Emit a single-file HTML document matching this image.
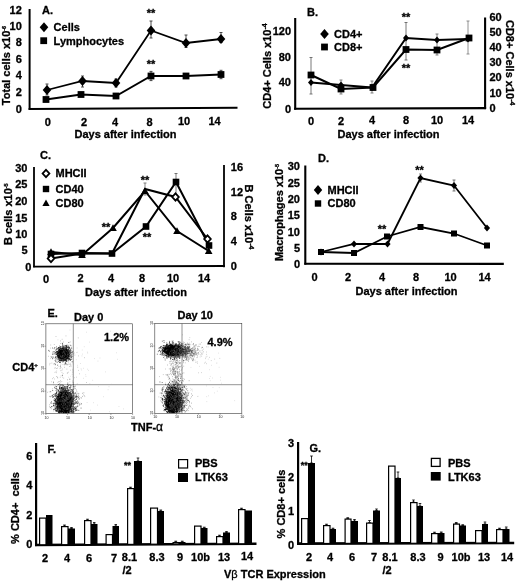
<!DOCTYPE html>
<html><head><meta charset="utf-8"><title>Figure</title>
<style>
html,body{margin:0;padding:0;background:#fff;}
svg{display:block;filter:blur(0.3px);}
text{stroke:#000;stroke-width:0.3px;}
svg{font-family:"Liberation Sans", sans-serif;font-weight:bold;fill:#000;}
</style></head><body>
<svg width="520" height="584" viewBox="0 0 520 584">
<defs><radialGradient id="rg"><stop offset="0" stop-color="#000" stop-opacity="1"/><stop offset="0.5" stop-color="#000" stop-opacity="0.92"/><stop offset="0.8" stop-color="#000" stop-opacity="0.35"/><stop offset="1" stop-color="#000" stop-opacity="0"/></radialGradient></defs>
<rect width="520" height="584" fill="#fff"/>
<line x1="29.6" y1="9.0" x2="29.6" y2="109.9" stroke="#000" stroke-width="2.0"/>
<line x1="28.6" y1="109.0" x2="237.5" y2="107.8" stroke="#000" stroke-width="2.0"/>
<text x="21.8" y="13.6" text-anchor="end" font-size="11">12</text>
<text x="21.8" y="29.6" text-anchor="end" font-size="11">10</text>
<text x="21.8" y="46.1" text-anchor="end" font-size="11">8</text>
<text x="21.8" y="62.6" text-anchor="end" font-size="11">6</text>
<text x="21.8" y="79.1" text-anchor="end" font-size="11">4</text>
<text x="21.8" y="95.6" text-anchor="end" font-size="11">2</text>
<text x="21.8" y="112.6" text-anchor="end" font-size="11">0</text>
<text x="42.0" y="13.9" text-anchor="start" font-size="11">A.</text>
<polygon points="44.0,22.3 48.3,27.3 44.0,32.3 39.7,27.3" fill="#000"/>
<text x="53.6" y="30.9" text-anchor="start" font-size="11">Cells</text>
<rect x="40.3" y="37.3" width="6.8" height="6.8" fill="#000"/>
<text x="53.6" y="44.9" text-anchor="start" font-size="11">Lymphocytes</text>
<text x="6.0" y="69.4" text-anchor="middle" font-size="11" transform="rotate(-90 6.0 65.5)">Total cells x10<tspan dy="-4" font-size="5.5">-6</tspan></text>
<text x="47.7" y="126.4" text-anchor="middle" font-size="11">0</text>
<text x="84.0" y="126.1" text-anchor="middle" font-size="11">2</text>
<text x="115.0" y="125.8" text-anchor="middle" font-size="11">4</text>
<text x="149.5" y="125.5" text-anchor="middle" font-size="11">8</text>
<text x="184.0" y="125.2" text-anchor="middle" font-size="11">10</text>
<text x="214.5" y="124.9" text-anchor="middle" font-size="11">14</text>
<text x="125.5" y="138.4" text-anchor="middle" font-size="11">Days after infection</text>
<line x1="47.0" y1="84.0" x2="47.0" y2="95.0" stroke="#222" stroke-width="0.8"/>
<line x1="45.5" y1="84.0" x2="48.5" y2="84.0" stroke="#222" stroke-width="0.8"/>
<line x1="45.5" y1="95.0" x2="48.5" y2="95.0" stroke="#222" stroke-width="0.8"/>
<line x1="82.5" y1="76.0" x2="82.5" y2="87.0" stroke="#222" stroke-width="0.8"/>
<line x1="81.0" y1="76.0" x2="84.0" y2="76.0" stroke="#222" stroke-width="0.8"/>
<line x1="81.0" y1="87.0" x2="84.0" y2="87.0" stroke="#222" stroke-width="0.8"/>
<line x1="116.0" y1="79.0" x2="116.0" y2="87.0" stroke="#222" stroke-width="0.8"/>
<line x1="114.5" y1="79.0" x2="117.5" y2="79.0" stroke="#222" stroke-width="0.8"/>
<line x1="114.5" y1="87.0" x2="117.5" y2="87.0" stroke="#222" stroke-width="0.8"/>
<line x1="151.0" y1="21.0" x2="151.0" y2="38.0" stroke="#222" stroke-width="0.8"/>
<line x1="149.5" y1="21.0" x2="152.5" y2="21.0" stroke="#222" stroke-width="0.8"/>
<line x1="149.5" y1="38.0" x2="152.5" y2="38.0" stroke="#222" stroke-width="0.8"/>
<line x1="186.0" y1="35.0" x2="186.0" y2="47.5" stroke="#222" stroke-width="0.8"/>
<line x1="184.5" y1="35.0" x2="187.5" y2="35.0" stroke="#222" stroke-width="0.8"/>
<line x1="184.5" y1="47.5" x2="187.5" y2="47.5" stroke="#222" stroke-width="0.8"/>
<line x1="221.0" y1="32.5" x2="221.0" y2="42.5" stroke="#222" stroke-width="0.8"/>
<line x1="219.5" y1="32.5" x2="222.5" y2="32.5" stroke="#222" stroke-width="0.8"/>
<line x1="219.5" y1="42.5" x2="222.5" y2="42.5" stroke="#222" stroke-width="0.8"/>
<line x1="151.0" y1="71.4" x2="151.0" y2="80.6" stroke="#222" stroke-width="0.8"/>
<line x1="149.5" y1="71.4" x2="152.5" y2="71.4" stroke="#222" stroke-width="0.8"/>
<line x1="149.5" y1="80.6" x2="152.5" y2="80.6" stroke="#222" stroke-width="0.8"/>
<line x1="221.0" y1="70.3" x2="221.0" y2="78.7" stroke="#222" stroke-width="0.8"/>
<line x1="219.5" y1="70.3" x2="222.5" y2="70.3" stroke="#222" stroke-width="0.8"/>
<line x1="219.5" y1="78.7" x2="222.5" y2="78.7" stroke="#222" stroke-width="0.8"/>
<polyline fill="none" stroke="#000" stroke-width="1.8" points="47.0,90.0 82.5,81.0 116.0,83.0 151.0,30.5 186.0,43.0 221.0,39.0"/>
<polyline fill="none" stroke="#000" stroke-width="1.8" points="46.0,99.5 81.0,94.5 116.0,96.0 151.0,76.0 186.0,76.0 221.0,74.5"/>
<polygon points="47.0,85.0 51.3,90.0 47.0,95.0 42.7,90.0" fill="#000"/>
<polygon points="82.5,76.0 86.8,81.0 82.5,86.0 78.2,81.0" fill="#000"/>
<polygon points="116.0,78.0 120.3,83.0 116.0,88.0 111.7,83.0" fill="#000"/>
<polygon points="151.0,25.5 155.3,30.5 151.0,35.5 146.7,30.5" fill="#000"/>
<polygon points="186.0,38.0 190.3,43.0 186.0,48.0 181.7,43.0" fill="#000"/>
<polygon points="221.0,34.0 225.3,39.0 221.0,44.0 216.7,39.0" fill="#000"/>
<rect x="42.6" y="96.1" width="6.8" height="6.8" fill="#000"/>
<rect x="77.6" y="91.1" width="6.8" height="6.8" fill="#000"/>
<rect x="112.6" y="92.6" width="6.8" height="6.8" fill="#000"/>
<rect x="147.6" y="72.6" width="6.8" height="6.8" fill="#000"/>
<rect x="182.6" y="72.6" width="6.8" height="6.8" fill="#000"/>
<rect x="217.6" y="71.1" width="6.8" height="6.8" fill="#000"/>
<text x="151.0" y="16.5" text-anchor="middle" font-size="11">**</text>
<text x="151.0" y="68.0" text-anchor="middle" font-size="11">**</text>
<line x1="295.2" y1="18.0" x2="295.2" y2="109.7" stroke="#000" stroke-width="2.1"/>
<line x1="294.1" y1="108.7" x2="486.1" y2="108.1" stroke="#000" stroke-width="2.1"/>
<line x1="485.1" y1="17.5" x2="485.1" y2="109.1" stroke="#000" stroke-width="2.1"/>
<text x="291.0" y="34.9" text-anchor="end" font-size="11">120</text>
<text x="291.0" y="61.4" text-anchor="end" font-size="11">80</text>
<text x="291.0" y="86.4" text-anchor="end" font-size="11">40</text>
<text x="291.0" y="112.9" text-anchor="end" font-size="11">0</text>
<text x="489.5" y="20.9" text-anchor="start" font-size="11">60</text>
<text x="489.5" y="35.9" text-anchor="start" font-size="11">50</text>
<text x="489.5" y="50.9" text-anchor="start" font-size="11">40</text>
<text x="489.5" y="66.4" text-anchor="start" font-size="11">30</text>
<text x="489.5" y="81.4" text-anchor="start" font-size="11">20</text>
<text x="489.5" y="96.9" text-anchor="start" font-size="11">10</text>
<text x="489.5" y="111.9" text-anchor="start" font-size="11">0</text>
<text x="307.0" y="16.4" text-anchor="start" font-size="11">B.</text>
<polygon points="324.5,29.0 328.8,34.0 324.5,39.0 320.2,34.0" fill="#000"/>
<text x="334.0" y="37.9" text-anchor="start" font-size="11">CD4+</text>
<rect x="321.1" y="43.6" width="6.8" height="6.8" fill="#000"/>
<text x="334.0" y="50.9" text-anchor="start" font-size="11">CD8+</text>
<text x="267.0" y="69.9" text-anchor="middle" font-size="11" transform="rotate(-90 267.0 66.0)">CD4+ Cells x10<tspan dy="-4" font-size="7">-4</tspan></text>
<text x="510.3" y="66.6" text-anchor="middle" font-size="11" transform="rotate(90 510.3 62.7)">CD8+ Cells x10<tspan dy="-4" font-size="7">-4</tspan></text>
<text x="311.0" y="124.6" text-anchor="middle" font-size="11">0</text>
<text x="341.0" y="124.5" text-anchor="middle" font-size="11">2</text>
<text x="372.0" y="124.3" text-anchor="middle" font-size="11">4</text>
<text x="406.0" y="124.2" text-anchor="middle" font-size="11">8</text>
<text x="437.0" y="124.0" text-anchor="middle" font-size="11">10</text>
<text x="468.0" y="123.9" text-anchor="middle" font-size="11">14</text>
<text x="388.5" y="137.5" text-anchor="middle" font-size="11">Days after infection</text>
<line x1="311.0" y1="57.5" x2="311.0" y2="94.0" stroke="#555" stroke-width="0.8"/>
<line x1="309.5" y1="57.5" x2="312.5" y2="57.5" stroke="#555" stroke-width="0.8"/>
<line x1="309.5" y1="94.0" x2="312.5" y2="94.0" stroke="#555" stroke-width="0.8"/>
<line x1="341.0" y1="80.0" x2="341.0" y2="94.0" stroke="#666" stroke-width="0.8"/>
<line x1="339.5" y1="80.0" x2="342.5" y2="80.0" stroke="#666" stroke-width="0.8"/>
<line x1="339.5" y1="94.0" x2="342.5" y2="94.0" stroke="#666" stroke-width="0.8"/>
<line x1="372.0" y1="81.0" x2="372.0" y2="93.0" stroke="#666" stroke-width="0.8"/>
<line x1="370.5" y1="81.0" x2="373.5" y2="81.0" stroke="#666" stroke-width="0.8"/>
<line x1="370.5" y1="93.0" x2="373.5" y2="93.0" stroke="#666" stroke-width="0.8"/>
<line x1="406.0" y1="22.5" x2="406.0" y2="60.0" stroke="#555" stroke-width="0.8"/>
<line x1="404.5" y1="22.5" x2="407.5" y2="22.5" stroke="#555" stroke-width="0.8"/>
<line x1="404.5" y1="60.0" x2="407.5" y2="60.0" stroke="#555" stroke-width="0.8"/>
<line x1="437.0" y1="34.0" x2="437.0" y2="55.0" stroke="#666" stroke-width="0.8"/>
<line x1="435.5" y1="34.0" x2="438.5" y2="34.0" stroke="#666" stroke-width="0.8"/>
<line x1="435.5" y1="55.0" x2="438.5" y2="55.0" stroke="#666" stroke-width="0.8"/>
<line x1="468.0" y1="21.0" x2="468.0" y2="54.0" stroke="#777" stroke-width="0.8"/>
<line x1="466.5" y1="21.0" x2="469.5" y2="21.0" stroke="#777" stroke-width="0.8"/>
<line x1="466.5" y1="54.0" x2="469.5" y2="54.0" stroke="#777" stroke-width="0.8"/>
<polyline fill="none" stroke="#000" stroke-width="2.0" points="311.0,82.5 341.0,85.0 372.0,87.5 406.0,38.0 437.0,40.0 468.0,39.0"/>
<polyline fill="none" stroke="#000" stroke-width="2.0" points="311.0,75.0 341.0,89.0 373.0,87.5 406.0,49.5 437.0,50.0 469.0,38.0"/>
<polygon points="311.0,78.9 314.0,82.5 311.0,86.1 308.0,82.5" fill="#000"/>
<polygon points="341.0,81.4 344.0,85.0 341.0,88.6 338.0,85.0" fill="#000"/>
<polygon points="372.0,83.9 375.0,87.5 372.0,91.1 369.0,87.5" fill="#000"/>
<polygon points="406.0,34.4 409.0,38.0 406.0,41.6 403.0,38.0" fill="#000"/>
<polygon points="437.0,36.4 440.0,40.0 437.0,43.6 434.0,40.0" fill="#000"/>
<polygon points="468.0,35.4 471.0,39.0 468.0,42.6 465.0,39.0" fill="#000"/>
<rect x="307.6" y="71.6" width="6.8" height="6.8" fill="#000"/>
<rect x="337.6" y="85.6" width="6.8" height="6.8" fill="#000"/>
<rect x="369.6" y="84.1" width="6.8" height="6.8" fill="#000"/>
<rect x="402.6" y="46.1" width="6.8" height="6.8" fill="#000"/>
<rect x="433.6" y="46.6" width="6.8" height="6.8" fill="#000"/>
<rect x="465.6" y="34.6" width="6.8" height="6.8" fill="#000"/>
<text x="406.0" y="21.0" text-anchor="middle" font-size="11">**</text>
<text x="406.0" y="71.5" text-anchor="middle" font-size="11">**</text>
<line x1="34.0" y1="167.0" x2="34.0" y2="267.2" stroke="#000" stroke-width="1.8"/>
<line x1="33.1" y1="266.6" x2="224.9" y2="266.0" stroke="#000" stroke-width="1.8"/>
<line x1="224.0" y1="165.0" x2="224.0" y2="267.2" stroke="#000" stroke-width="1.8"/>
<text x="27.5" y="171.5" text-anchor="end" font-size="11">30</text>
<text x="27.5" y="187.9" text-anchor="end" font-size="11">25</text>
<text x="27.5" y="204.9" text-anchor="end" font-size="11">20</text>
<text x="27.5" y="221.9" text-anchor="end" font-size="11">15</text>
<text x="27.5" y="237.9" text-anchor="end" font-size="11">10</text>
<text x="27.5" y="254.4" text-anchor="end" font-size="11">5</text>
<text x="31.3" y="271.2" text-anchor="end" font-size="11">0</text>
<text x="230.8" y="170.7" text-anchor="start" font-size="11">16</text>
<text x="230.8" y="195.5" text-anchor="start" font-size="11">12</text>
<text x="230.8" y="220.4" text-anchor="start" font-size="11">8</text>
<text x="230.8" y="245.2" text-anchor="start" font-size="11">4</text>
<text x="230.8" y="270.0" text-anchor="start" font-size="11">0</text>
<text x="40.0" y="159.4" text-anchor="start" font-size="11">C.</text>
<polygon points="46.0,169.8 49.4,173.5 46.0,177.2 42.6,173.5" fill="#fff" stroke="#000" stroke-width="1.8"/>
<text x="55.5" y="177.4" text-anchor="start" font-size="11">MHCII</text>
<rect x="42.8" y="185.8" width="6.4" height="6.4" fill="#000"/>
<text x="55.5" y="192.9" text-anchor="start" font-size="11">CD40</text>
<polygon points="46.0,199.4 49.6,205.9 42.4,205.9" fill="#000"/>
<text x="55.5" y="206.9" text-anchor="start" font-size="11">CD80</text>
<text x="8.4" y="218.1" text-anchor="middle" font-size="11" transform="rotate(-90 8.4 214.2)">B cells x10<tspan dy="-4" font-size="5.5">-5</tspan></text>
<text x="249.2" y="220.9" text-anchor="middle" font-size="11" transform="rotate(90 249.2 217.0)">B Cells x10<tspan dy="-4" font-size="7">-4</tspan></text>
<text x="46.0" y="282.5" text-anchor="middle" font-size="11">0</text>
<text x="80.5" y="282.3" text-anchor="middle" font-size="11">2</text>
<text x="111.0" y="282.1" text-anchor="middle" font-size="11">4</text>
<text x="142.0" y="282.0" text-anchor="middle" font-size="11">8</text>
<text x="173.0" y="281.8" text-anchor="middle" font-size="11">10</text>
<text x="204.0" y="281.6" text-anchor="middle" font-size="11">14</text>
<text x="136.0" y="295.9" text-anchor="middle" font-size="11">Days after infection</text>
<line x1="176.0" y1="173.5" x2="176.0" y2="195.0" stroke="#555" stroke-width="0.8"/>
<line x1="174.5" y1="173.5" x2="177.5" y2="173.5" stroke="#555" stroke-width="0.8"/>
<line x1="174.5" y1="195.0" x2="177.5" y2="195.0" stroke="#555" stroke-width="0.8"/>
<line x1="145.0" y1="183.0" x2="145.0" y2="195.0" stroke="#666" stroke-width="0.8"/>
<line x1="143.5" y1="183.0" x2="146.5" y2="183.0" stroke="#666" stroke-width="0.8"/>
<line x1="143.5" y1="195.0" x2="146.5" y2="195.0" stroke="#666" stroke-width="0.8"/>
<polyline fill="none" stroke="#000" stroke-width="2.0" points="51.0,258.5 82.0,253.5 112.0,253.5 145.0,189.0 175.5,197.0 207.5,239.0"/>
<polyline fill="none" stroke="#000" stroke-width="2.0" points="51.0,254.0 82.0,253.0 112.0,253.5 146.0,226.5 176.0,182.0 209.0,245.5"/>
<polyline fill="none" stroke="#000" stroke-width="2.0" points="51.0,252.0 82.0,255.0 113.0,228.0 145.0,191.0 177.0,231.0 208.7,251.0"/>
<polygon points="51.0,248.2 54.8,255.0 47.2,255.0" fill="#000"/>
<polygon points="82.0,251.2 85.8,258.0 78.2,258.0" fill="#000"/>
<polygon points="113.0,224.2 116.8,231.0 109.2,231.0" fill="#000"/>
<polygon points="145.0,187.2 148.8,194.0 141.2,194.0" fill="#000"/>
<polygon points="177.0,227.2 180.8,234.0 173.2,234.0" fill="#000"/>
<polygon points="208.7,247.2 212.5,254.0 204.9,254.0" fill="#000"/>
<rect x="47.7" y="250.7" width="6.6" height="6.6" fill="#000"/>
<rect x="78.7" y="249.7" width="6.6" height="6.6" fill="#000"/>
<rect x="108.7" y="250.2" width="6.6" height="6.6" fill="#000"/>
<rect x="142.7" y="223.2" width="6.6" height="6.6" fill="#000"/>
<rect x="172.7" y="178.7" width="6.6" height="6.6" fill="#000"/>
<rect x="205.7" y="242.2" width="6.6" height="6.6" fill="#000"/>
<polygon points="51.0,254.8 54.3,258.5 51.0,262.2 47.7,258.5" fill="#fff" stroke="#000" stroke-width="1.8"/>
<polygon points="175.5,193.3 178.8,197.0 175.5,200.7 172.2,197.0" fill="#fff" stroke="#000" stroke-width="1.8"/>
<polygon points="207.5,235.3 210.8,239.0 207.5,242.7 204.2,239.0" fill="#fff" stroke="#000" stroke-width="1.8"/>
<text x="106.0" y="231.0" text-anchor="middle" font-size="11">**</text>
<text x="145.0" y="184.0" text-anchor="middle" font-size="11">**</text>
<text x="147.0" y="240.5" text-anchor="middle" font-size="11">**</text>
<line x1="305.3" y1="165.5" x2="305.3" y2="264.7" stroke="#000" stroke-width="2.1"/>
<line x1="304.3" y1="263.7" x2="503.8" y2="263.9" stroke="#000" stroke-width="2.1"/>
<text x="300.0" y="169.9" text-anchor="end" font-size="11">30</text>
<text x="300.0" y="186.9" text-anchor="end" font-size="11">25</text>
<text x="300.0" y="202.9" text-anchor="end" font-size="11">20</text>
<text x="300.0" y="219.4" text-anchor="end" font-size="11">15</text>
<text x="300.0" y="235.9" text-anchor="end" font-size="11">10</text>
<text x="300.0" y="252.4" text-anchor="end" font-size="11">5</text>
<text x="300.0" y="267.9" text-anchor="end" font-size="11">0</text>
<text x="318.0" y="161.9" text-anchor="start" font-size="11">D.</text>
<polygon points="318.0,185.0 322.2,190.0 318.0,195.0 313.8,190.0" fill="#000"/>
<text x="327.5" y="193.9" text-anchor="start" font-size="11">MHCII</text>
<rect x="314.8" y="200.3" width="6.4" height="6.4" fill="#000"/>
<text x="327.5" y="207.4" text-anchor="start" font-size="11">CD80</text>
<text x="279.3" y="216.4" text-anchor="middle" font-size="11" transform="rotate(-90 279.3 212.5)">Macrophages x10<tspan dy="-4" font-size="5.5">-5</tspan></text>
<text x="314.5" y="280.9" text-anchor="middle" font-size="11">0</text>
<text x="348.0" y="280.9" text-anchor="middle" font-size="11">2</text>
<text x="382.0" y="280.9" text-anchor="middle" font-size="11">4</text>
<text x="416.0" y="280.9" text-anchor="middle" font-size="11">8</text>
<text x="450.5" y="280.9" text-anchor="middle" font-size="11">10</text>
<text x="484.5" y="280.9" text-anchor="middle" font-size="11">14</text>
<text x="406.5" y="295.2" text-anchor="middle" font-size="11">Days after infection</text>
<line x1="454.0" y1="180.0" x2="454.0" y2="191.0" stroke="#555" stroke-width="0.8"/>
<line x1="452.5" y1="180.0" x2="455.5" y2="180.0" stroke="#555" stroke-width="0.8"/>
<line x1="452.5" y1="191.0" x2="455.5" y2="191.0" stroke="#555" stroke-width="0.8"/>
<line x1="420.5" y1="174.0" x2="420.5" y2="182.0" stroke="#666" stroke-width="0.8"/>
<line x1="419.0" y1="174.0" x2="422.0" y2="174.0" stroke="#666" stroke-width="0.8"/>
<line x1="419.0" y1="182.0" x2="422.0" y2="182.0" stroke="#666" stroke-width="0.8"/>
<polyline fill="none" stroke="#000" stroke-width="1.8" points="321.0,252.0 354.0,244.0 387.5,244.0 420.5,178.0 454.0,185.5 487.0,228.0"/>
<polyline fill="none" stroke="#000" stroke-width="1.8" points="321.0,252.0 354.0,253.0 387.0,236.5 420.5,227.0 454.0,233.5 487.0,245.5"/>
<polygon points="321.0,248.4 324.1,252.0 321.0,255.6 317.9,252.0" fill="#000"/>
<polygon points="354.0,240.4 357.1,244.0 354.0,247.6 350.9,244.0" fill="#000"/>
<polygon points="387.5,240.4 390.6,244.0 387.5,247.6 384.4,244.0" fill="#000"/>
<polygon points="420.5,174.4 423.6,178.0 420.5,181.6 417.4,178.0" fill="#000"/>
<polygon points="454.0,181.9 457.1,185.5 454.0,189.1 450.9,185.5" fill="#000"/>
<polygon points="487.0,224.4 490.1,228.0 487.0,231.6 483.9,228.0" fill="#000"/>
<rect x="318.0" y="249.0" width="6.0" height="6.0" fill="#000"/>
<rect x="351.0" y="250.0" width="6.0" height="6.0" fill="#000"/>
<rect x="384.0" y="233.5" width="6.0" height="6.0" fill="#000"/>
<rect x="417.5" y="224.0" width="6.0" height="6.0" fill="#000"/>
<rect x="451.0" y="230.5" width="6.0" height="6.0" fill="#000"/>
<rect x="484.0" y="242.5" width="6.0" height="6.0" fill="#000"/>
<text x="382.0" y="232.5" text-anchor="middle" font-size="11">**</text>
<text x="419.5" y="173.5" text-anchor="middle" font-size="11">**</text>
<text x="47.5" y="316.9" text-anchor="start" font-size="11">E.</text>
<rect x="45.9" y="323.8" width="86.69999999999999" height="89.69999999999999" fill="none" stroke="#3a3a3a" stroke-width="0.6"/>
<line x1="73.3" y1="323.8" x2="73.3" y2="413.5" stroke="#3a3a3a" stroke-width="0.55"/>
<line x1="45.9" y1="384.7" x2="132.6" y2="384.7" stroke="#3a3a3a" stroke-width="0.55"/>
<clipPath id="cl45"><rect x="45.9" y="323.8" width="86.69999999999999" height="89.69999999999999"/></clipPath>
<ellipse cx="64" cy="403" rx="8.5" ry="12" fill="url(#rg)" clip-path="url(#cl45)"/>
<ellipse cx="63" cy="354" rx="6.5" ry="6.5" fill="url(#rg)" clip-path="url(#cl45)"/>
<path d="M62.3 355.3h0.8M62.4 353.2h0.8M60.6 353.4h0.8M65.9 355.1h0.8M65.7 354.6h0.8M64.0 354.5h0.8M58.7 356.2h0.8M64.3 355.3h0.8M58.6 349.5h0.8M60.7 352.8h0.8M63.8 353.9h0.8M64.4 352.3h0.8M63.8 355.0h0.8M61.3 358.5h0.8M64.4 357.1h0.8M61.4 352.1h0.8M62.1 353.7h0.8M64.6 354.6h0.8M61.8 351.5h0.8M61.6 357.2h0.8M60.9 354.6h0.8M64.1 350.1h0.8M63.1 357.4h0.8M57.8 353.2h0.8M62.7 351.9h0.8M64.3 353.8h0.8M59.2 356.2h0.8M64.7 356.5h0.8M66.7 354.9h0.8M63.3 350.6h0.8M64.6 352.4h0.8M61.8 350.7h0.8M60.5 352.6h0.8M66.4 348.7h0.8M59.2 354.6h0.8M66.8 355.5h0.8M58.1 347.5h0.8M63.9 352.1h0.8M60.1 356.5h0.8M65.9 354.4h0.8M63.6 355.1h0.8M67.1 355.6h0.8M64.3 355.4h0.8M58.9 357.3h0.8M65.5 355.4h0.8M57.9 352.4h0.8M65.2 349.3h0.8M62.5 356.7h0.8M59.6 358.2h0.8M64.4 353.6h0.8M63.8 355.7h0.8M63.3 357.0h0.8M61.3 352.9h0.8M65.7 354.1h0.8M60.7 356.5h0.8M66.8 352.8h0.8M59.4 353.6h0.8M62.6 353.2h0.8M66.7 351.3h0.8M66.3 350.7h0.8M61.0 355.6h0.8M65.9 356.2h0.8M63.9 354.4h0.8M63.4 355.5h0.8M62.5 354.7h0.8M64.5 354.0h0.8M65.0 355.5h0.8M68.2 354.8h0.8M61.9 353.0h0.8M63.0 356.4h0.8M62.1 355.0h0.8M67.8 347.3h0.8M60.1 354.6h0.8M64.0 354.6h0.8M61.9 355.7h0.8M63.7 352.6h0.8M69.3 354.9h0.8M61.6 353.7h0.8M62.4 353.8h0.8M55.9 352.7h0.8M65.6 351.0h0.8M62.8 356.5h0.8M65.2 357.9h0.8M58.6 353.1h0.8M62.1 355.6h0.8M65.8 347.0h0.8M65.8 350.2h0.8M64.8 350.1h0.8M63.5 357.1h0.8M62.6 354.5h0.8M65.1 354.4h0.8M62.8 358.0h0.8M65.7 353.2h0.8M70.1 351.0h0.8M65.4 353.3h0.8M63.3 355.8h0.8M63.6 355.7h0.8M59.0 350.1h0.8M64.6 351.5h0.8M60.3 350.2h0.8M66.3 355.9h0.8M66.8 351.6h0.8M63.0 351.0h0.8M65.0 358.1h0.8M60.7 358.1h0.8M65.6 353.5h0.8M57.9 357.7h0.8M62.7 352.4h0.8M64.0 355.1h0.8M66.9 351.3h0.8M66.0 357.9h0.8M66.8 353.5h0.8M61.1 356.6h0.8M63.3 354.3h0.8M66.7 353.3h0.8M57.0 353.0h0.8M58.2 356.1h0.8M63.8 352.4h0.8M63.0 356.2h0.8M63.2 357.4h0.8M62.8 356.7h0.8M66.9 358.2h0.8M61.3 356.3h0.8M58.1 351.2h0.8M57.9 356.8h0.8M59.8 354.0h0.8M62.5 353.9h0.8M61.5 354.6h0.8M67.7 354.1h0.8M64.4 356.6h0.8M62.5 350.7h0.8M61.6 356.8h0.8M58.7 352.4h0.8M65.6 356.1h0.8M63.0 356.1h0.8M63.4 350.9h0.8M58.9 352.3h0.8M65.4 352.5h0.8M60.7 352.0h0.8M59.0 353.7h0.8M59.9 354.9h0.8M56.9 354.9h0.8M61.3 349.0h0.8M64.9 353.3h0.8M57.2 351.7h0.8M63.8 352.8h0.8M65.0 355.9h0.8M64.7 354.8h0.8M66.5 355.7h0.8M64.2 348.6h0.8M65.3 357.4h0.8M62.2 352.8h0.8M68.0 349.4h0.8M64.2 360.3h0.8M60.6 355.8h0.8M67.9 353.7h0.8M64.5 356.3h0.8M60.6 353.8h0.8M63.8 356.1h0.8M62.9 353.5h0.8M60.4 353.1h0.8M65.3 354.3h0.8M60.8 351.8h0.8M69.9 357.0h0.8M64.7 347.3h0.8M64.6 355.2h0.8M67.4 355.1h0.8M62.8 355.4h0.8M57.9 356.7h0.8M63.8 352.2h0.8M66.4 358.7h0.8M59.4 352.3h0.8M63.8 354.5h0.8M62.0 351.5h0.8M68.5 356.7h0.8M59.9 350.5h0.8M67.4 356.6h0.8M67.7 356.1h0.8M60.7 354.7h0.8M57.4 352.1h0.8M62.8 355.4h0.8M61.1 353.7h0.8M64.2 355.0h0.8M64.7 354.5h0.8M62.2 356.1h0.8M63.1 351.9h0.8M61.4 354.0h0.8M62.7 354.4h0.8M63.0 354.5h0.8M62.7 350.7h0.8M64.1 356.7h0.8M64.1 353.5h0.8M64.2 351.5h0.8M58.1 354.2h0.8M60.6 355.9h0.8M60.2 347.2h0.8M60.3 358.1h0.8M62.0 350.4h0.8M61.0 355.4h0.8M64.3 354.5h0.8M66.9 355.8h0.8M62.9 355.6h0.8M67.3 356.5h0.8M65.7 351.2h0.8M62.6 355.9h0.8M62.2 356.8h0.8M64.6 356.4h0.8M62.4 360.6h0.8M66.2 353.4h0.8M63.2 360.7h0.8M62.1 356.3h0.8M65.5 354.0h0.8M60.0 354.5h0.8M63.9 356.9h0.8M65.0 354.1h0.8M65.2 355.4h0.8M63.5 354.1h0.8M62.4 355.8h0.8M60.3 352.4h0.8M63.0 350.2h0.8M61.9 348.8h0.8M61.2 355.5h0.8M64.5 353.9h0.8M62.4 350.3h0.8M67.8 355.3h0.8M65.8 351.7h0.8M62.5 349.3h0.8M65.0 356.4h0.8M58.1 353.9h0.8M64.6 349.4h0.8M58.3 351.2h0.8M61.4 350.4h0.8M63.1 354.6h0.8M64.6 355.8h0.8M66.9 357.0h0.8M59.6 352.7h0.8M60.2 351.2h0.8M62.8 354.0h0.8M64.3 349.9h0.8M59.8 353.9h0.8M62.5 353.2h0.8M62.8 352.0h0.8M64.8 354.9h0.8M62.8 352.3h0.8M62.5 346.9h0.8M60.4 354.1h0.8M59.1 354.5h0.8M63.4 350.4h0.8M62.3 353.2h0.8M64.2 355.6h0.8M62.9 351.8h0.8M62.6 353.8h0.8M64.9 354.8h0.8M61.1 350.5h0.8M62.0 352.1h0.8M60.1 353.7h0.8M61.7 354.3h0.8M64.4 352.9h0.8M69.0 353.2h0.8M65.9 354.3h0.8M65.9 347.8h0.8M61.0 354.6h0.8M64.6 360.1h0.8M63.8 357.3h0.8M65.0 356.5h0.8M64.3 353.6h0.8M64.3 351.2h0.8M66.1 351.4h0.8M63.6 359.5h0.8M62.4 354.1h0.8M66.0 354.1h0.8M60.9 354.7h0.8M64.5 355.8h0.8M61.0 358.6h0.8M67.3 354.0h0.8M63.7 352.9h0.8M66.7 352.2h0.8M64.8 352.8h0.8M61.2 355.9h0.8M66.5 354.0h0.8M61.2 356.1h0.8M62.9 354.8h0.8M67.0 356.9h0.8M61.6 359.9h0.8M63.0 356.0h0.8M61.3 353.9h0.8M58.5 358.6h0.8M66.6 350.8h0.8M59.1 349.8h0.8M66.1 352.8h0.8M62.8 353.2h0.8M62.7 351.2h0.8M63.1 350.3h0.8M62.8 354.8h0.8M64.2 353.4h0.8M60.7 354.4h0.8M61.7 358.1h0.8M65.0 353.7h0.8M61.8 352.2h0.8M60.6 353.1h0.8M63.8 355.3h0.8M64.5 359.5h0.8M61.2 354.0h0.8M70.3 349.1h0.8M61.6 354.4h0.8M63.4 355.1h0.8M62.4 355.0h0.8M63.1 356.0h0.8M58.1 351.7h0.8M63.0 351.3h0.8M60.3 355.6h0.8M61.3 355.7h0.8M64.9 354.8h0.8M64.3 353.7h0.8M59.3 353.9h0.8M64.2 352.6h0.8M62.7 355.9h0.8M60.7 355.7h0.8M67.8 352.6h0.8M63.4 353.6h0.8M67.0 354.8h0.8M65.3 352.2h0.8M63.0 354.0h0.8M58.4 357.7h0.8M65.3 349.5h0.8M64.9 353.7h0.8M64.2 355.0h0.8M59.1 353.4h0.8M66.9 352.5h0.8M60.3 350.5h0.8M59.8 354.9h0.8M67.4 355.1h0.8M63.6 359.8h0.8M61.6 352.2h0.8M64.4 355.4h0.8M60.4 351.0h0.8M63.8 354.6h0.8M59.6 353.5h0.8M61.6 355.2h0.8M62.7 353.8h0.8M62.1 356.7h0.8M66.6 353.0h0.8M65.2 352.0h0.8M63.2 355.9h0.8M66.9 353.0h0.8M62.8 354.5h0.8M59.1 354.0h0.8M61.2 355.0h0.8M60.1 348.9h0.8M63.1 354.7h0.8M61.6 356.3h0.8M62.3 352.4h0.8M64.2 349.9h0.8M61.2 353.9h0.8M65.2 353.6h0.8M63.8 352.3h0.8M63.8 358.3h0.8M61.2 360.2h0.8M61.3 354.0h0.8M63.5 356.7h0.8M59.8 348.5h0.8M64.6 356.1h0.8M64.6 360.8h0.8M63.5 354.7h0.8M65.4 355.0h0.8M67.3 350.8h0.8M62.0 345.0h0.8M65.1 353.0h0.8M65.4 359.6h0.8M63.0 353.3h0.8M61.7 351.8h0.8M61.4 355.7h0.8M63.1 354.2h0.8M62.5 356.4h0.8M64.3 353.6h0.8M64.7 353.6h0.8M60.0 357.8h0.8M64.2 351.5h0.8M65.8 354.9h0.8M58.9 358.2h0.8M63.9 356.3h0.8M63.5 353.6h0.8M59.0 356.5h0.8M63.1 353.3h0.8M63.9 354.2h0.8M64.8 353.0h0.8M62.9 348.4h0.8M61.9 355.8h0.8M66.5 353.1h0.8M62.7 358.1h0.8M62.2 355.9h0.8M67.4 354.1h0.8M66.2 352.2h0.8M63.5 353.8h0.8M63.3 356.9h0.8M69.2 352.3h0.8M61.5 355.3h0.8M60.3 355.3h0.8M64.5 353.3h0.8M64.4 350.0h0.8M65.0 350.0h0.8M61.2 352.6h0.8M62.0 356.2h0.8M63.2 353.0h0.8M64.4 358.1h0.8M63.0 355.0h0.8M66.2 354.7h0.8M59.7 360.5h0.8M68.7 348.8h0.8M62.9 355.1h0.8M65.5 355.7h0.8M62.3 351.3h0.8M63.3 356.7h0.8M60.2 351.3h0.8M62.9 349.0h0.8M62.3 352.9h0.8M64.2 352.2h0.8M60.7 353.0h0.8M62.9 352.3h0.8M63.0 356.0h0.8M66.1 358.4h0.8M61.0 352.9h0.8M56.5 358.9h0.8M61.1 353.9h0.8M64.4 350.5h0.8M64.2 353.9h0.8M58.3 354.8h0.8M66.1 349.1h0.8M65.1 354.5h0.8M64.2 355.1h0.8M66.4 353.4h0.8M65.3 352.9h0.8M64.9 351.9h0.8M62.7 358.5h0.8M64.2 353.6h0.8M60.0 351.9h0.8M63.5 356.4h0.8M64.1 355.4h0.8M62.9 357.5h0.8M62.0 352.6h0.8M65.3 354.2h0.8M62.3 352.5h0.8M62.3 355.6h0.8M63.9 350.9h0.8M64.1 354.5h0.8M60.4 356.0h0.8M62.3 353.1h0.8M65.1 357.4h0.8M61.2 355.1h0.8M60.7 360.0h0.8M61.7 357.1h0.8M61.3 356.1h0.8M68.8 347.4h0.8M61.9 355.3h0.8M62.8 352.3h0.8M68.6 354.2h0.8M58.7 356.2h0.8M58.5 357.0h0.8M61.5 354.4h0.8M66.3 354.3h0.8M59.4 349.6h0.8M66.1 355.9h0.8M60.9 356.2h0.8M64.3 355.7h0.8M57.1 353.2h0.8M65.3 355.9h0.8M65.3 347.6h0.8M63.4 355.3h0.8M69.6 351.5h0.8M62.1 354.1h0.8M65.3 352.8h0.8M66.0 352.0h0.8M63.7 352.6h0.8M63.4 352.2h0.8M58.8 356.8h0.8M63.8 352.5h0.8M63.5 356.6h0.8M60.5 353.7h0.8M64.4 355.4h0.8M62.1 348.5h0.8M66.2 354.9h0.8M63.0 353.3h0.8M63.7 352.9h0.8M60.3 352.1h0.8M61.4 352.4h0.8M60.0 355.7h0.8M59.6 355.7h0.8M60.4 354.9h0.8M66.6 354.5h0.8M61.1 354.1h0.8M63.4 349.5h0.8M61.4 354.4h0.8M61.8 354.2h0.8M64.9 356.0h0.8M65.4 355.5h0.8M62.3 354.0h0.8M62.3 353.2h0.8M62.5 349.5h0.8M62.1 353.9h0.8M60.5 353.9h0.8M64.3 353.6h0.8M68.4 347.2h0.8M62.5 349.3h0.8M65.5 360.9h0.8M56.5 354.3h0.8M64.3 353.2h0.8M64.4 348.2h0.8M65.2 355.0h0.8M63.1 352.5h0.8M64.7 352.7h0.8M63.6 352.7h0.8M57.2 353.9h0.8M63.5 356.0h0.8M60.7 353.9h0.8M64.6 354.4h0.8M66.2 359.2h0.8M60.6 349.0h0.8M65.2 358.0h0.8M65.4 356.1h0.8M61.4 352.1h0.8M65.3 351.6h0.8M58.3 351.4h0.8M69.5 359.0h0.8M61.2 352.1h0.8M63.6 352.1h0.8M66.4 353.8h0.8M60.2 357.4h0.8M61.5 354.6h0.8M63.0 353.2h0.8M63.8 352.2h0.8M58.2 348.3h0.8M59.7 352.0h0.8M62.9 354.1h0.8M64.4 354.3h0.8M60.9 352.2h0.8M57.5 353.6h0.8M64.3 355.4h0.8M62.7 353.5h0.8M65.4 354.0h0.8M64.9 355.5h0.8M63.6 357.4h0.8M61.5 353.1h0.8M60.9 351.9h0.8M67.0 358.6h0.8M63.1 355.5h0.8M66.1 356.1h0.8M66.1 350.7h0.8M61.3 355.2h0.8M66.7 354.3h0.8M60.8 353.1h0.8M61.3 351.8h0.8M66.9 352.4h0.8M63.1 359.6h0.8M66.1 354.9h0.8M61.4 355.1h0.8M67.2 355.6h0.8M66.3 354.3h0.8M64.3 353.5h0.8M64.1 357.4h0.8M59.3 353.8h0.8M63.6 352.5h0.8M62.2 356.0h0.8M68.2 355.6h0.8M63.8 350.0h0.8M68.0 354.2h0.8M62.9 351.1h0.8M62.9 351.2h0.8M63.2 355.2h0.8M63.1 354.7h0.8M60.8 357.7h0.8M61.3 349.3h0.8M62.5 352.0h0.8M60.4 353.1h0.8M63.8 350.9h0.8M62.6 357.7h0.8M64.8 353.6h0.8M63.3 353.7h0.8M62.9 355.9h0.8M62.8 347.7h0.8M62.9 351.7h0.8M64.7 352.4h0.8M63.4 359.7h0.8M60.3 351.1h0.8M59.3 347.8h0.8M58.1 354.9h0.8M61.3 349.1h0.8M59.1 355.6h0.8M61.0 353.0h0.8M63.9 357.5h0.8M68.0 356.7h0.8M63.4 354.5h0.8M67.7 357.7h0.8M62.2 355.2h0.8M63.7 354.1h0.8M61.7 350.6h0.8M61.6 350.0h0.8M66.2 355.4h0.8M59.9 357.6h0.8M65.3 349.0h0.8M67.8 356.1h0.8M68.4 350.8h0.8M64.4 355.1h0.8M63.5 354.4h0.8M65.7 350.1h0.8M59.8 350.4h0.8M61.6 352.4h0.8M64.0 354.7h0.8M63.1 352.2h0.8M61.9 356.5h0.8M65.0 354.3h0.8M62.2 358.0h0.8M61.5 355.7h0.8M66.0 353.3h0.8M65.1 351.1h0.8M65.6 354.5h0.8M58.9 355.7h0.8M60.7 357.3h0.8M61.2 353.6h0.8M63.7 353.1h0.8M63.7 352.6h0.8M64.7 354.0h0.8M63.5 346.8h0.8M66.0 354.1h0.8M58.4 354.2h0.8M64.2 356.8h0.8M60.2 358.0h0.8M62.6 360.2h0.8M62.6 355.8h0.8M62.0 351.1h0.8M65.9 356.4h0.8M67.0 356.2h0.8M61.5 349.7h0.8M61.3 352.2h0.8M60.9 355.5h0.8M63.9 353.3h0.8M63.4 353.6h0.8M63.6 356.0h0.8M65.5 352.2h0.8M59.1 357.7h0.8M63.3 356.9h0.8M58.7 353.1h0.8M63.1 350.3h0.8M61.7 355.9h0.8M65.8 358.1h0.8M60.8 350.4h0.8M64.4 356.4h0.8M63.5 350.6h0.8M65.0 356.1h0.8M64.4 352.7h0.8M63.8 356.1h0.8M61.5 349.2h0.8M63.9 355.3h0.8M63.0 356.3h0.8M61.5 353.8h0.8M62.2 355.5h0.8M67.1 353.3h0.8M68.3 358.0h0.8M65.1 355.5h0.8M67.6 353.5h0.8M62.7 351.2h0.8M64.2 357.5h0.8M64.4 355.1h0.8M62.5 354.4h0.8M59.3 356.7h0.8M61.9 351.1h0.8M61.0 351.9h0.8M65.2 356.8h0.8M59.5 356.4h0.8M65.3 352.5h0.8M59.1 352.1h0.8M61.4 354.9h0.8M62.1 348.7h0.8M63.6 350.0h0.8M65.4 350.9h0.8M61.2 351.8h0.8M61.6 357.4h0.8M65.2 355.6h0.8M63.8 350.0h0.8M61.6 352.6h0.8M60.5 355.3h0.8M61.1 352.2h0.8M60.3 348.7h0.8M64.5 357.5h0.8M63.5 351.5h0.8M56.0 354.4h0.8M66.2 354.8h0.8M65.4 357.8h0.8M65.9 352.9h0.8M65.7 356.0h0.8M59.0 352.9h0.8M59.3 353.7h0.8M64.5 351.2h0.8M57.7 357.4h0.8M64.0 357.8h0.8M59.6 356.8h0.8M68.4 359.2h0.8M62.5 354.7h0.8M62.6 356.6h0.8M65.7 354.2h0.8M59.5 355.9h0.8M61.8 355.6h0.8M63.7 358.2h0.8M66.0 352.8h0.8M63.9 358.6h0.8M61.6 355.1h0.8M66.1 357.3h0.8M64.3 350.6h0.8M59.7 354.6h0.8M64.0 360.6h0.8M60.8 357.0h0.8M65.0 349.7h0.8M60.9 354.4h0.8M61.7 353.6h0.8M64.2 351.9h0.8M64.2 352.3h0.8M61.6 355.4h0.8M61.5 354.7h0.8M67.2 354.1h0.8M62.6 355.9h0.8M62.0 356.8h0.8M59.7 355.6h0.8M61.7 351.9h0.8M67.6 351.8h0.8M67.6 355.7h0.8M66.8 351.5h0.8M66.1 357.8h0.8M62.7 353.7h0.8M69.4 354.5h0.8M61.9 352.4h0.8M64.2 354.9h0.8M63.5 358.5h0.8M62.1 355.2h0.8M66.8 351.4h0.8M65.7 358.8h0.8M59.5 351.1h0.8M60.3 349.2h0.8M64.2 349.2h0.8M64.3 357.8h0.8M58.8 353.2h0.8M58.0 356.0h0.8M61.1 353.3h0.8M63.1 355.4h0.8M62.1 354.0h0.8M61.6 354.3h0.8M60.0 354.2h0.8M58.0 352.7h0.8M68.0 354.2h0.8M59.7 354.7h0.8M60.5 349.7h0.8M61.1 355.9h0.8M64.0 353.7h0.8M60.6 351.2h0.8M66.5 354.6h0.8M60.5 348.5h0.8M59.4 360.4h0.8M60.0 353.8h0.8M63.5 353.6h0.8M62.3 350.4h0.8M60.3 358.4h0.8M61.0 356.2h0.8M58.6 353.3h0.8M63.7 356.7h0.8M60.1 355.5h0.8M64.0 352.1h0.8M64.2 351.7h0.8M60.9 354.0h0.8M55.9 353.7h0.8M60.4 350.2h0.8M61.9 356.0h0.8M61.9 357.3h0.8M60.0 350.6h0.8M67.0 355.0h0.8M65.5 351.9h0.8M65.1 354.7h0.8M64.7 354.1h0.8M66.1 352.3h0.8M60.5 350.2h0.8M66.0 352.1h0.8M60.3 351.6h0.8M61.8 350.7h0.8M62.2 352.4h0.8M61.6 351.5h0.8M63.1 352.8h0.8M63.3 354.6h0.8M63.9 348.3h0.8M61.6 351.9h0.8M65.0 349.9h0.8M61.1 353.2h0.8M62.1 356.6h0.8M61.8 356.5h0.8M59.2 349.3h0.8M66.2 355.1h0.8M64.3 354.3h0.8M64.3 350.8h0.8M65.5 352.6h0.8M65.6 354.2h0.8M57.9 350.7h0.8M65.9 353.6h0.8M62.0 354.6h0.8M61.9 352.6h0.8M63.3 354.4h0.8M66.9 354.1h0.8M67.9 358.7h0.8M67.5 356.8h0.8M63.3 354.4h0.8M62.6 352.1h0.8M62.8 352.3h0.8M67.3 355.4h0.8M61.8 349.0h0.8M62.9 352.9h0.8M60.2 351.0h0.8M57.1 355.5h0.8M62.8 360.7h0.8M62.9 353.6h0.8M66.8 354.3h0.8M63.4 353.0h0.8M61.4 357.9h0.8M65.6 358.5h0.8M62.1 354.1h0.8M60.7 356.5h0.8M59.4 355.5h0.8M65.8 357.7h0.8M60.6 356.8h0.8M61.1 352.0h0.8M59.6 357.0h0.8M67.3 352.5h0.8M61.0 353.1h0.8M69.5 356.6h0.8M61.6 349.3h0.8M61.3 357.1h0.8M67.9 353.3h0.8M61.2 352.7h0.8M58.1 356.4h0.8M60.2 356.8h0.8M58.6 350.7h0.8M63.7 352.0h0.8M65.0 354.0h0.8M59.9 355.6h0.8M65.2 349.0h0.8M67.7 355.3h0.8M65.0 349.2h0.8M61.1 353.1h0.8M65.8 350.2h0.8M60.7 348.7h0.8M62.4 354.9h0.8M58.6 352.5h0.8M64.3 358.1h0.8M64.7 353.2h0.8M59.9 351.6h0.8M61.3 354.4h0.8M62.9 358.3h0.8M63.7 351.2h0.8M67.0 356.5h0.8M63.3 352.1h0.8M58.1 351.3h0.8M65.4 351.9h0.8M59.6 354.5h0.8M63.6 355.6h0.8M64.7 357.7h0.8M60.8 356.5h0.8M60.4 355.8h0.8M63.5 354.6h0.8M65.5 354.0h0.8M65.9 356.3h0.8M63.4 352.5h0.8M61.0 352.6h0.8M62.5 353.9h0.8M70.8 355.7h0.8M65.0 351.8h0.8M61.2 353.2h0.8M63.5 351.3h0.8M67.2 352.5h0.8M65.8 347.9h0.8M63.0 354.7h0.8M63.5 355.6h0.8M63.7 354.4h0.8M58.1 352.1h0.8M56.9 355.6h0.8M63.8 353.5h0.8M60.9 352.5h0.8M67.8 358.5h0.8M62.8 357.3h0.8M58.9 349.0h0.8M61.7 351.7h0.8M61.5 354.5h0.8M70.9 352.3h0.8M63.1 354.7h0.8M62.9 356.4h0.8M67.6 350.8h0.8M63.4 353.3h0.8M63.9 350.0h0.8M58.4 348.0h0.8M64.4 354.5h0.8M63.2 347.8h0.8M62.0 352.0h0.8M59.3 351.6h0.8M64.8 355.4h0.8M62.9 355.3h0.8M61.4 354.2h0.8M63.1 355.4h0.8M64.1 396.6h0.8M59.8 401.4h0.8M68.9 396.6h0.8M68.8 403.8h0.8M60.1 404.1h0.8M66.0 397.2h0.8M56.5 404.6h0.8M60.1 405.1h0.8M57.3 401.7h0.8M61.2 393.9h0.8M63.2 403.5h0.8M62.0 395.6h0.8M64.7 392.3h0.8M65.9 405.4h0.8M69.9 407.7h0.8M65.2 404.0h0.8M64.1 394.8h0.8M69.1 405.6h0.8M63.0 395.8h0.8M69.2 405.6h0.8M59.9 406.4h0.8M70.6 402.4h0.8M65.4 400.1h0.8M61.8 408.8h0.8M74.8 403.2h0.8M63.6 407.1h0.8M62.9 406.7h0.8M66.9 396.6h0.8M60.3 402.1h0.8M66.9 404.1h0.8M68.3 394.5h0.8M65.7 398.9h0.8M64.3 404.4h0.8M60.6 401.2h0.8M59.9 404.0h0.8M61.0 399.6h0.8M64.8 398.7h0.8M68.0 398.8h0.8M67.0 404.1h0.8M60.4 401.2h0.8M61.1 400.4h0.8M62.5 411.6h0.8M65.6 394.9h0.8M55.9 406.4h0.8M57.1 406.7h0.8M67.6 404.8h0.8M63.3 401.0h0.8M64.9 400.7h0.8M62.1 400.3h0.8M68.1 398.9h0.8M65.3 395.8h0.8M61.5 394.5h0.8M63.3 406.5h0.8M65.1 399.6h0.8M66.1 400.5h0.8M65.3 404.1h0.8M65.9 388.1h0.8M59.5 407.0h0.8M63.2 399.3h0.8M69.2 405.7h0.8M70.6 405.5h0.8M63.3 406.7h0.8M61.3 399.9h0.8M62.1 401.2h0.8M66.7 399.7h0.8M65.1 399.6h0.8M67.1 386.5h0.8M63.3 403.5h0.8M60.2 408.4h0.8M64.8 409.9h0.8M67.3 406.2h0.8M63.5 396.2h0.8M63.2 399.8h0.8M64.9 399.8h0.8M74.6 393.2h0.8M68.1 399.8h0.8M63.2 407.9h0.8M64.0 395.5h0.8M65.4 401.4h0.8M56.8 403.6h0.8M60.3 398.2h0.8M65.7 404.2h0.8M65.5 398.9h0.8M64.8 401.8h0.8M56.3 393.4h0.8M63.4 400.9h0.8M62.0 408.2h0.8M64.1 412.4h0.8M66.7 412.0h0.8M63.6 404.7h0.8M62.5 401.5h0.8M58.0 399.1h0.8M60.7 398.7h0.8M68.2 404.0h0.8M68.3 407.5h0.8M67.2 408.3h0.8M61.9 407.1h0.8M62.9 399.4h0.8M60.6 412.5h0.8M66.9 397.6h0.8M64.9 404.6h0.8M65.3 400.4h0.8M59.5 402.7h0.8M67.0 407.0h0.8M66.3 408.9h0.8M60.6 402.3h0.8M65.2 408.3h0.8M64.5 405.5h0.8M56.4 402.4h0.8M72.6 403.9h0.8M57.6 403.3h0.8M59.0 398.6h0.8M64.8 412.4h0.8M65.6 406.4h0.8M67.5 403.7h0.8M61.0 401.9h0.8M65.2 400.9h0.8M61.7 400.4h0.8M58.8 396.6h0.8M63.7 400.4h0.8M64.1 410.6h0.8M65.0 402.3h0.8M59.9 396.3h0.8M65.3 397.5h0.8M65.5 396.3h0.8M64.5 402.1h0.8M67.5 400.2h0.8M62.7 403.9h0.8M64.2 412.3h0.8M63.1 399.4h0.8M62.9 405.2h0.8M64.8 406.5h0.8M70.4 402.3h0.8M59.8 403.4h0.8M65.4 389.6h0.8M64.0 394.0h0.8M65.6 410.5h0.8M67.6 393.8h0.8M68.8 407.7h0.8M62.7 405.4h0.8M69.3 400.6h0.8M63.9 399.3h0.8M68.0 390.1h0.8M68.9 396.9h0.8M67.2 393.1h0.8M60.8 399.0h0.8M66.9 393.1h0.8M66.1 398.8h0.8M68.3 400.7h0.8M65.7 401.5h0.8M70.2 400.4h0.8M64.3 406.5h0.8M61.4 403.7h0.8M56.1 403.1h0.8M61.8 393.8h0.8M59.1 409.1h0.8M65.5 393.7h0.8M70.3 398.5h0.8M62.7 403.9h0.8M60.1 393.2h0.8M61.4 409.3h0.8M67.3 393.4h0.8M68.2 402.7h0.8M65.7 402.8h0.8M65.4 396.7h0.8M60.9 398.4h0.8M62.7 406.1h0.8M59.8 411.7h0.8M61.8 399.1h0.8M66.4 405.0h0.8M62.8 396.3h0.8M60.5 393.3h0.8M68.0 408.8h0.8M70.5 405.4h0.8M65.2 406.9h0.8M67.3 401.0h0.8M58.1 394.4h0.8M60.7 406.9h0.8M68.1 400.5h0.8M66.3 402.2h0.8M65.0 399.4h0.8M63.9 402.5h0.8M57.7 405.6h0.8M64.0 408.1h0.8M67.7 407.0h0.8M66.8 397.0h0.8M58.1 412.1h0.8M68.2 397.0h0.8M68.5 406.4h0.8M55.5 407.7h0.8M60.6 409.2h0.8M61.6 398.2h0.8M58.6 401.2h0.8M67.5 398.6h0.8M70.4 406.5h0.8M62.1 395.5h0.8M58.3 405.7h0.8M68.5 396.4h0.8M64.0 400.9h0.8M63.1 405.4h0.8M71.3 398.8h0.8M66.9 408.8h0.8M63.0 401.6h0.8M59.3 408.7h0.8M62.2 398.7h0.8M64.2 397.5h0.8M60.4 400.8h0.8M69.2 401.3h0.8M65.8 394.0h0.8M62.6 393.6h0.8M63.6 406.0h0.8M58.0 397.4h0.8M64.9 397.2h0.8M66.8 408.1h0.8M65.5 400.0h0.8M63.8 398.8h0.8M63.5 404.3h0.8M63.0 408.1h0.8M73.0 399.3h0.8M65.2 407.3h0.8M66.2 401.1h0.8M62.3 408.3h0.8M66.2 405.4h0.8M61.2 406.2h0.8M66.8 401.4h0.8M57.5 406.0h0.8M59.9 394.6h0.8M63.2 405.7h0.8M64.2 395.7h0.8M59.0 399.3h0.8M64.0 397.7h0.8M58.8 412.7h0.8M61.1 401.6h0.8M62.1 399.1h0.8M64.1 400.8h0.8M66.2 395.6h0.8M63.7 407.0h0.8M68.1 405.7h0.8M64.1 393.5h0.8M58.4 408.2h0.8M66.4 405.8h0.8M58.2 390.1h0.8M60.3 395.6h0.8M64.6 396.6h0.8M69.5 398.9h0.8M62.0 407.5h0.8M65.1 397.3h0.8M59.7 401.1h0.8M60.2 391.2h0.8M66.2 406.6h0.8M67.4 405.0h0.8M57.0 402.3h0.8M61.7 395.6h0.8M60.1 407.0h0.8M65.6 391.4h0.8M67.1 409.8h0.8M64.1 395.4h0.8M70.2 394.8h0.8M63.7 391.4h0.8M59.6 392.6h0.8M67.8 409.4h0.8M62.6 394.6h0.8M63.8 404.7h0.8M58.7 395.7h0.8M63.6 406.6h0.8M64.3 405.1h0.8M59.6 387.9h0.8M65.1 397.1h0.8M63.6 400.3h0.8M65.7 398.0h0.8M69.1 402.7h0.8M65.9 406.2h0.8M67.6 404.9h0.8M57.9 398.8h0.8M70.5 405.3h0.8M66.0 405.2h0.8M61.7 398.5h0.8M61.7 409.3h0.8M65.6 395.6h0.8M70.1 404.5h0.8M68.2 403.8h0.8M62.8 403.5h0.8M60.0 395.5h0.8M60.9 399.4h0.8M59.2 401.9h0.8M70.5 402.2h0.8M67.1 401.2h0.8M65.4 402.3h0.8M62.1 402.9h0.8M58.8 405.1h0.8M63.0 396.1h0.8M62.7 405.8h0.8M61.6 405.3h0.8M66.0 411.7h0.8M60.2 401.8h0.8M65.8 411.4h0.8M64.9 407.0h0.8M58.8 399.1h0.8M69.9 400.8h0.8M71.7 398.2h0.8M63.0 393.1h0.8M66.3 404.1h0.8M71.2 403.5h0.8M63.1 394.2h0.8M63.7 408.1h0.8M66.6 409.8h0.8M67.1 402.2h0.8M66.1 403.5h0.8M59.3 412.6h0.8M65.3 396.3h0.8M65.4 404.2h0.8M67.5 411.1h0.8M53.2 405.8h0.8M69.4 396.9h0.8M57.4 404.2h0.8M65.2 404.6h0.8M60.0 399.7h0.8M64.7 406.9h0.8M71.8 404.2h0.8M61.9 388.5h0.8M67.8 401.7h0.8M63.6 396.6h0.8M66.6 391.8h0.8M64.4 403.2h0.8M65.1 410.3h0.8M63.6 403.1h0.8M67.1 393.3h0.8M63.0 402.9h0.8M67.4 397.7h0.8M66.9 404.8h0.8M58.7 393.7h0.8M58.9 403.3h0.8M64.7 406.8h0.8M66.9 399.2h0.8M67.8 407.4h0.8M65.7 405.4h0.8M59.4 404.7h0.8M60.3 395.4h0.8M62.7 403.3h0.8M63.8 400.5h0.8M60.4 403.6h0.8M61.3 394.1h0.8M64.3 411.2h0.8M62.6 396.2h0.8M62.9 401.2h0.8M64.5 408.4h0.8M65.6 391.6h0.8M60.1 395.1h0.8M65.6 403.1h0.8M70.4 400.9h0.8M65.1 402.9h0.8M65.0 411.3h0.8M68.7 398.9h0.8M66.5 400.2h0.8M64.4 403.4h0.8M64.1 399.7h0.8M69.6 400.9h0.8M66.5 412.5h0.8M66.2 408.6h0.8M69.0 409.0h0.8M70.2 394.0h0.8M71.0 402.7h0.8M57.7 398.7h0.8M59.0 402.4h0.8M58.7 396.5h0.8M65.1 403.4h0.8M61.1 401.1h0.8M63.6 402.9h0.8M64.0 401.2h0.8M67.2 392.9h0.8M62.2 403.3h0.8M62.6 399.2h0.8M62.4 403.8h0.8M68.5 401.4h0.8M63.0 404.6h0.8M63.1 390.9h0.8M65.0 400.2h0.8M61.9 406.3h0.8M64.2 399.1h0.8M56.2 392.2h0.8M64.1 401.8h0.8M65.6 403.8h0.8M62.3 394.9h0.8M60.1 401.7h0.8M59.9 407.0h0.8M59.2 391.8h0.8M63.3 391.9h0.8M69.9 396.5h0.8M63.8 401.0h0.8M61.0 391.9h0.8M57.3 407.7h0.8M58.7 405.9h0.8M63.9 407.6h0.8M62.2 406.8h0.8M67.2 406.1h0.8M69.2 401.5h0.8M69.6 398.3h0.8M70.0 386.0h0.8M64.0 397.7h0.8M64.0 408.7h0.8M66.6 403.1h0.8M70.1 393.6h0.8M61.1 411.6h0.8M65.2 390.1h0.8M65.2 395.4h0.8M69.3 409.4h0.8M62.0 410.3h0.8M61.0 408.0h0.8M66.1 401.7h0.8M58.9 400.8h0.8M55.8 399.1h0.8M57.3 409.8h0.8M60.5 387.9h0.8M66.1 404.7h0.8M66.8 402.9h0.8M61.7 384.8h0.8M65.7 408.3h0.8M61.9 394.0h0.8M63.8 392.5h0.8M64.0 407.1h0.8M69.4 404.1h0.8M64.7 407.0h0.8M69.0 400.6h0.8M59.6 397.8h0.8M59.5 397.2h0.8M63.6 404.6h0.8M64.6 402.9h0.8M62.7 405.0h0.8M67.2 407.1h0.8M69.4 400.8h0.8M63.1 412.7h0.8M64.7 405.0h0.8M62.8 408.3h0.8M62.6 396.5h0.8M63.8 399.8h0.8M67.0 400.2h0.8M64.4 401.2h0.8M65.2 398.7h0.8M68.0 394.0h0.8M62.6 398.2h0.8M66.3 402.7h0.8M65.7 400.5h0.8M61.4 395.8h0.8M62.8 399.3h0.8M65.0 404.6h0.8M67.5 401.9h0.8M61.3 396.1h0.8M64.2 404.7h0.8M71.0 403.6h0.8M60.2 409.8h0.8M68.1 410.6h0.8M64.0 408.2h0.8M62.3 402.1h0.8M63.2 408.2h0.8M64.2 398.2h0.8M64.9 406.5h0.8M61.4 406.3h0.8M61.4 397.2h0.8M64.8 401.1h0.8M60.5 392.7h0.8M64.1 404.0h0.8M62.3 403.6h0.8M58.5 404.9h0.8M65.5 404.2h0.8M61.8 403.0h0.8M64.5 408.9h0.8M65.0 404.0h0.8M61.4 407.7h0.8M68.2 399.5h0.8M66.3 404.3h0.8M63.8 394.8h0.8M70.3 391.3h0.8M65.1 400.2h0.8M68.1 400.0h0.8M64.1 406.2h0.8M65.6 399.4h0.8M66.5 404.8h0.8M67.6 399.4h0.8M63.8 400.2h0.8M61.0 404.0h0.8M65.5 411.0h0.8M62.8 404.8h0.8M68.1 401.8h0.8M64.2 403.3h0.8M61.5 396.6h0.8M68.0 403.5h0.8M63.7 395.1h0.8M64.4 409.5h0.8M59.9 397.2h0.8M68.0 411.1h0.8M69.6 399.2h0.8M66.2 398.0h0.8M65.9 400.3h0.8M64.7 410.5h0.8M65.2 401.1h0.8M64.2 404.1h0.8M62.2 403.7h0.8M66.1 411.8h0.8M56.6 395.4h0.8M59.6 407.7h0.8M72.7 403.7h0.8M64.4 409.3h0.8M55.3 401.4h0.8M52.8 403.4h0.8M62.2 399.6h0.8M65.2 399.0h0.8M68.0 402.5h0.8M62.4 408.0h0.8M61.0 409.9h0.8M67.4 403.3h0.8M67.5 412.1h0.8M68.9 402.5h0.8M63.8 409.1h0.8M58.7 398.9h0.8M65.7 405.9h0.8M65.2 405.1h0.8M59.3 401.4h0.8M64.9 401.2h0.8M64.2 406.1h0.8M60.6 399.1h0.8M57.7 409.3h0.8M60.2 392.4h0.8M66.7 401.2h0.8M67.4 400.3h0.8M71.6 406.7h0.8M64.5 403.2h0.8M63.3 407.3h0.8M71.1 400.0h0.8M60.1 406.0h0.8M67.8 393.6h0.8M61.5 396.6h0.8M66.0 405.5h0.8M61.4 395.8h0.8M66.4 390.3h0.8M66.3 401.6h0.8M70.8 408.4h0.8M61.9 400.9h0.8M63.0 398.2h0.8M64.3 408.2h0.8M58.6 401.2h0.8M69.3 406.9h0.8M61.1 397.7h0.8M61.0 393.0h0.8M68.1 402.9h0.8M61.5 394.0h0.8M62.6 399.5h0.8M70.1 399.8h0.8M64.4 408.8h0.8M66.4 401.4h0.8M56.3 410.8h0.8M66.1 399.9h0.8M63.7 396.9h0.8M60.8 393.7h0.8M65.8 405.6h0.8M64.6 407.1h0.8M65.9 403.2h0.8M60.9 406.0h0.8M68.2 406.2h0.8M68.4 399.7h0.8M60.5 409.9h0.8M61.9 403.9h0.8M63.3 402.6h0.8M63.0 399.3h0.8M64.7 391.2h0.8M60.8 395.9h0.8M61.4 387.5h0.8M66.0 412.2h0.8M63.1 406.9h0.8M66.1 395.2h0.8M68.3 392.6h0.8M62.0 400.4h0.8M68.4 403.2h0.8M63.6 397.8h0.8M64.3 402.7h0.8M66.6 410.7h0.8M66.6 402.6h0.8M63.5 411.9h0.8M64.7 402.4h0.8M70.3 411.7h0.8M66.0 401.9h0.8M61.8 408.8h0.8M62.4 408.1h0.8M61.2 403.1h0.8M65.4 403.4h0.8M64.8 404.7h0.8M60.0 396.0h0.8M63.6 397.1h0.8M61.7 402.7h0.8M68.2 399.2h0.8M66.0 403.6h0.8M62.7 397.0h0.8M63.5 398.3h0.8M65.9 392.2h0.8M68.0 406.9h0.8M66.0 411.3h0.8M66.1 392.5h0.8M64.2 405.1h0.8M61.6 395.9h0.8M65.5 405.5h0.8M62.5 401.1h0.8M62.2 399.2h0.8M63.8 408.8h0.8M58.3 400.5h0.8M69.7 404.4h0.8M64.5 407.4h0.8M60.5 395.4h0.8M58.2 394.0h0.8M64.9 407.5h0.8M62.5 398.5h0.8M65.4 406.1h0.8M64.9 391.4h0.8M62.1 387.7h0.8M64.9 397.5h0.8M61.7 411.3h0.8M68.6 405.3h0.8M65.0 403.5h0.8M61.9 402.2h0.8M70.7 397.4h0.8M61.7 403.4h0.8M67.1 407.4h0.8M60.6 401.7h0.8M63.1 395.3h0.8M64.3 399.7h0.8M67.2 405.0h0.8M61.3 403.0h0.8M62.8 398.8h0.8M62.3 408.7h0.8M62.6 392.5h0.8M61.3 407.2h0.8M71.5 396.4h0.8M62.8 400.6h0.8M59.1 404.8h0.8M63.8 404.1h0.8M71.8 400.9h0.8M66.8 407.4h0.8M61.8 399.0h0.8M69.5 406.7h0.8M64.5 396.1h0.8M67.1 405.6h0.8M71.7 411.1h0.8M66.8 404.1h0.8M64.2 399.3h0.8M65.1 403.9h0.8M66.3 408.8h0.8M65.1 399.3h0.8M66.8 411.6h0.8M61.1 405.0h0.8M65.9 405.6h0.8M65.8 402.0h0.8M63.6 412.3h0.8M70.1 394.3h0.8M55.1 405.1h0.8M61.6 399.5h0.8M58.4 404.6h0.8M63.8 399.4h0.8M69.2 409.3h0.8M62.6 406.3h0.8M63.9 409.2h0.8M66.0 402.3h0.8M65.9 398.3h0.8M66.8 411.3h0.8M62.7 405.7h0.8M58.2 408.0h0.8M67.1 396.6h0.8M70.1 403.2h0.8M57.9 394.5h0.8M67.1 400.9h0.8M67.9 393.5h0.8M63.7 408.2h0.8M61.6 406.5h0.8M62.7 404.5h0.8M59.7 407.0h0.8M68.6 395.9h0.8M67.7 385.2h0.8M63.2 392.5h0.8M65.1 398.3h0.8M62.0 397.6h0.8M65.0 399.8h0.8M60.8 401.2h0.8M65.4 397.5h0.8M67.9 392.8h0.8M65.4 400.2h0.8M69.5 398.8h0.8M61.7 394.7h0.8M70.9 406.1h0.8M60.2 400.5h0.8M60.7 411.4h0.8M65.5 390.6h0.8M64.7 407.8h0.8M64.0 405.3h0.8M63.6 403.7h0.8M64.7 398.4h0.8M65.2 403.5h0.8M63.9 398.5h0.8M60.5 403.9h0.8M66.9 388.4h0.8M62.1 410.4h0.8M67.2 398.3h0.8M68.7 396.7h0.8M62.5 401.2h0.8M58.2 396.6h0.8M59.9 401.7h0.8M57.6 408.7h0.8M62.8 399.0h0.8M61.8 406.8h0.8M69.4 400.1h0.8M69.6 411.9h0.8M68.7 404.2h0.8M58.8 406.4h0.8M62.6 403.6h0.8M57.4 400.9h0.8M64.8 397.0h0.8M65.0 412.3h0.8M64.8 398.5h0.8M72.4 389.9h0.8M60.8 404.9h0.8M61.9 389.1h0.8M64.9 407.4h0.8M61.2 411.1h0.8M65.8 409.5h0.8M58.7 402.5h0.8M68.6 402.5h0.8M64.6 398.8h0.8M67.9 398.4h0.8M64.4 390.4h0.8M64.2 403.8h0.8M56.3 402.3h0.8M71.3 393.8h0.8M55.7 401.6h0.8M62.1 401.3h0.8M59.6 394.6h0.8M59.7 406.3h0.8M63.8 407.3h0.8M60.2 406.0h0.8M62.4 403.0h0.8M67.3 402.7h0.8M62.8 392.7h0.8M64.2 407.1h0.8M61.8 402.1h0.8M57.8 394.7h0.8M65.4 410.1h0.8M62.9 392.7h0.8M62.7 393.3h0.8M65.1 401.6h0.8M67.7 400.3h0.8M65.2 403.7h0.8M65.6 393.9h0.8M66.5 407.7h0.8M55.9 386.5h0.8M60.8 411.3h0.8M64.1 406.5h0.8M66.0 407.7h0.8M61.7 399.1h0.8M65.3 406.1h0.8M66.0 404.5h0.8M62.3 409.0h0.8M65.7 408.8h0.8M55.0 408.5h0.8M55.4 403.7h0.8M61.6 403.2h0.8M62.3 400.7h0.8M64.7 404.5h0.8M61.2 387.6h0.8M61.2 405.7h0.8M61.0 405.0h0.8M62.7 396.9h0.8M68.1 412.3h0.8M63.6 402.2h0.8M67.4 394.6h0.8M60.9 409.2h0.8M67.2 399.6h0.8M61.2 404.6h0.8M59.0 399.5h0.8M63.2 387.9h0.8M66.1 407.0h0.8M67.8 394.0h0.8M59.4 397.7h0.8M60.5 400.6h0.8M64.7 405.2h0.8M69.2 396.0h0.8M67.1 403.4h0.8M59.8 403.4h0.8M59.0 412.1h0.8M61.4 408.5h0.8M68.6 398.8h0.8M60.8 403.3h0.8M60.3 407.9h0.8M64.6 398.0h0.8M61.6 406.8h0.8M58.8 412.6h0.8M61.2 401.3h0.8M60.7 412.2h0.8M66.9 410.3h0.8M66.3 403.0h0.8M70.1 406.5h0.8M65.6 405.9h0.8M66.6 404.2h0.8M63.4 393.0h0.8M71.4 394.7h0.8M56.3 398.2h0.8M70.9 409.8h0.8M61.8 404.1h0.8M63.9 390.6h0.8M62.8 404.2h0.8M68.2 395.3h0.8M55.9 393.1h0.8M65.2 403.0h0.8M64.5 403.4h0.8M62.7 394.3h0.8M65.6 404.8h0.8M66.1 410.0h0.8M59.5 388.5h0.8M60.7 404.9h0.8M63.9 406.9h0.8M75.5 399.4h0.8M63.4 398.9h0.8M64.9 405.6h0.8M60.5 410.4h0.8M68.1 405.2h0.8M63.6 401.1h0.8M58.1 406.4h0.8M60.5 399.5h0.8M67.6 397.0h0.8M62.1 407.6h0.8M70.7 398.4h0.8M68.0 398.6h0.8M65.4 405.4h0.8M59.9 408.7h0.8M70.5 402.8h0.8M65.0 395.5h0.8M70.4 402.9h0.8M59.4 407.1h0.8M58.7 398.4h0.8M56.3 410.8h0.8M72.0 398.7h0.8M61.6 399.0h0.8M62.0 405.8h0.8M69.3 396.5h0.8M65.6 391.7h0.8M69.5 402.0h0.8M61.5 411.7h0.8M63.6 410.7h0.8M67.9 412.4h0.8M61.1 402.8h0.8M65.3 401.3h0.8M69.5 398.2h0.8M67.6 410.7h0.8M57.0 396.7h0.8M60.7 399.2h0.8M65.4 401.5h0.8M64.3 399.7h0.8M63.7 405.4h0.8M66.7 397.8h0.8M63.6 397.9h0.8M63.4 393.9h0.8M67.4 406.5h0.8M63.6 398.4h0.8M62.4 398.5h0.8M58.4 412.3h0.8M75.8 395.1h0.8M59.8 406.0h0.8M66.2 393.1h0.8M57.1 405.8h0.8M56.8 411.0h0.8M62.2 403.0h0.8M64.0 399.1h0.8M63.5 400.7h0.8M68.5 401.9h0.8M63.9 399.3h0.8M61.7 398.1h0.8M68.0 403.9h0.8M70.0 408.6h0.8M64.7 401.5h0.8M60.0 404.0h0.8M62.9 393.0h0.8M64.8 405.5h0.8M64.7 399.7h0.8M65.7 409.0h0.8M62.9 405.6h0.8M67.7 399.6h0.8M64.6 398.1h0.8M66.2 400.3h0.8M68.1 397.9h0.8M70.1 400.6h0.8M61.0 397.1h0.8M66.4 397.4h0.8M70.5 410.2h0.8M65.9 394.0h0.8M63.9 398.1h0.8M57.5 405.1h0.8M71.9 399.3h0.8M66.9 410.2h0.8M60.5 400.5h0.8M65.0 405.3h0.8M59.9 403.8h0.8M63.6 408.2h0.8M58.2 399.1h0.8M62.2 400.6h0.8M66.6 398.7h0.8M73.9 398.3h0.8M67.0 408.6h0.8M67.5 401.3h0.8M61.0 401.0h0.8M66.4 403.2h0.8M66.1 405.9h0.8M60.8 396.9h0.8M69.2 399.6h0.8M61.0 396.9h0.8M67.5 395.7h0.8M60.9 408.8h0.8M64.5 402.8h0.8M61.7 401.2h0.8M62.2 402.4h0.8M66.8 394.9h0.8M60.7 389.9h0.8M69.4 402.1h0.8M64.0 402.2h0.8M67.6 404.4h0.8M67.1 401.5h0.8M63.6 402.2h0.8M57.3 409.0h0.8M58.3 396.5h0.8M66.4 402.8h0.8M70.7 410.8h0.8M60.8 402.0h0.8M67.6 401.2h0.8M63.6 400.4h0.8M68.9 387.7h0.8M68.6 408.9h0.8M63.7 405.9h0.8M60.5 409.2h0.8M75.0 397.0h0.8M69.0 402.2h0.8M62.8 399.6h0.8M63.3 395.0h0.8M59.1 412.5h0.8M63.9 405.8h0.8M65.1 405.4h0.8M58.5 396.8h0.8M66.3 408.5h0.8M59.9 399.0h0.8M60.2 406.4h0.8M65.2 402.7h0.8M61.7 404.6h0.8M64.1 398.0h0.8M65.2 398.5h0.8M67.4 406.3h0.8M61.5 406.0h0.8M64.2 398.3h0.8M60.7 392.5h0.8M59.9 404.6h0.8M68.3 398.7h0.8M64.6 404.6h0.8M66.8 405.2h0.8M68.4 407.1h0.8M61.3 404.9h0.8M55.6 401.4h0.8M64.1 406.0h0.8M62.9 407.5h0.8M68.8 397.5h0.8M62.0 404.1h0.8M65.8 403.4h0.8M67.0 395.4h0.8M66.8 409.5h0.8M68.0 405.1h0.8M63.1 404.9h0.8M63.7 393.0h0.8M61.8 402.3h0.8M62.1 396.9h0.8M63.2 400.3h0.8M64.2 402.2h0.8M64.6 408.5h0.8M64.5 404.9h0.8M59.6 384.8h0.8M62.6 406.6h0.8M62.8 398.8h0.8M59.5 407.9h0.8M62.1 404.0h0.8M68.1 405.7h0.8M72.1 401.7h0.8M67.4 406.7h0.8M61.6 402.8h0.8M62.0 396.4h0.8M65.1 397.9h0.8M70.0 398.1h0.8M62.0 403.0h0.8M62.1 402.8h0.8M61.8 394.0h0.8M55.3 394.8h0.8M69.5 405.2h0.8M64.6 399.7h0.8M63.5 404.3h0.8M59.0 397.7h0.8M60.8 410.1h0.8M60.2 409.5h0.8M63.7 402.7h0.8M68.9 407.7h0.8M67.4 396.1h0.8M68.1 412.6h0.8M63.6 399.6h0.8M60.1 408.6h0.8M65.1 402.5h0.8M59.6 412.2h0.8M67.2 402.4h0.8M69.3 396.8h0.8M67.2 396.5h0.8M69.1 400.8h0.8M68.4 400.0h0.8M65.4 409.4h0.8M60.8 403.1h0.8M61.0 407.6h0.8M61.8 400.3h0.8M63.3 409.5h0.8M60.3 402.3h0.8M62.8 399.2h0.8M61.2 401.5h0.8M64.7 393.2h0.8M64.8 395.4h0.8M60.5 402.1h0.8M63.1 408.4h0.8M62.3 391.8h0.8M58.2 403.6h0.8M64.9 408.9h0.8M62.1 406.5h0.8M60.2 410.3h0.8M63.7 398.4h0.8M60.9 395.1h0.8M60.3 395.6h0.8M63.8 404.6h0.8M63.4 403.7h0.8M68.3 400.8h0.8M59.5 388.8h0.8M64.9 398.4h0.8M63.1 405.0h0.8M65.7 393.1h0.8M60.6 402.9h0.8M63.5 409.4h0.8M62.2 390.1h0.8M68.2 392.7h0.8M60.5 404.8h0.8M64.9 405.7h0.8M65.9 398.2h0.8M68.5 392.4h0.8M61.9 404.2h0.8M64.5 396.7h0.8M69.7 411.3h0.8M60.6 404.7h0.8M61.7 399.9h0.8M67.6 403.3h0.8M63.6 403.1h0.8M59.8 409.8h0.8M61.3 410.4h0.8M62.4 399.8h0.8M69.3 403.6h0.8M61.7 399.3h0.8M66.2 400.1h0.8M60.0 398.5h0.8M63.6 404.0h0.8M61.6 410.2h0.8M60.6 398.2h0.8M65.8 405.4h0.8M62.6 408.3h0.8M58.9 412.3h0.8M64.2 410.5h0.8M63.3 403.7h0.8M65.9 392.0h0.8M53.5 404.8h0.8M67.3 404.5h0.8M64.7 410.8h0.8M65.2 391.1h0.8M60.6 400.7h0.8M64.5 399.8h0.8M63.6 412.5h0.8M53.4 409.4h0.8M67.4 406.1h0.8M64.1 402.9h0.8M65.3 404.0h0.8M61.4 407.2h0.8M61.0 402.3h0.8M62.7 395.6h0.8M66.2 402.1h0.8M59.8 402.0h0.8M59.0 411.1h0.8M62.0 406.7h0.8M60.5 397.4h0.8M63.7 405.0h0.8M67.3 400.9h0.8M68.0 408.3h0.8M60.9 401.4h0.8M62.0 407.8h0.8M67.3 401.0h0.8M62.3 404.6h0.8M61.2 394.9h0.8M60.5 404.5h0.8M57.4 405.5h0.8M59.9 409.4h0.8M66.5 403.3h0.8M69.3 400.3h0.8M62.1 396.2h0.8M61.6 403.2h0.8M66.4 410.1h0.8M63.0 398.1h0.8M62.8 399.9h0.8M62.3 400.1h0.8M60.9 402.2h0.8M62.2 401.5h0.8M59.0 403.4h0.8M66.0 406.4h0.8M62.0 395.7h0.8M59.3 395.5h0.8M61.7 400.7h0.8M57.7 406.5h0.8M58.5 398.4h0.8M61.4 407.4h0.8M70.6 400.4h0.8M63.0 400.2h0.8M63.3 401.5h0.8M72.8 396.0h0.8M63.6 397.8h0.8M65.3 399.4h0.8M66.1 396.1h0.8M71.5 403.7h0.8M57.7 406.7h0.8M62.3 395.6h0.8M65.6 399.4h0.8M66.6 399.3h0.8M67.2 403.4h0.8M65.3 403.4h0.8M62.7 400.4h0.8M65.6 406.7h0.8M70.0 395.7h0.8M67.9 402.1h0.8M64.8 397.8h0.8M69.9 397.6h0.8M63.7 398.2h0.8M70.9 409.9h0.8M59.3 399.8h0.8M65.3 400.0h0.8M62.7 396.1h0.8M64.9 396.0h0.8M62.8 412.2h0.8M65.3 398.5h0.8M62.8 396.8h0.8M64.4 406.6h0.8M67.3 400.9h0.8M59.8 402.1h0.8M69.9 404.2h0.8M63.8 390.2h0.8M62.5 405.7h0.8M60.6 410.5h0.8M62.0 397.4h0.8M61.9 402.0h0.8M67.5 399.2h0.8M57.7 402.0h0.8M65.9 411.6h0.8M60.0 411.2h0.8M66.4 405.2h0.8M61.3 397.3h0.8M60.6 408.0h0.8M64.8 408.8h0.8M70.4 402.6h0.8M59.4 399.9h0.8M62.7 400.3h0.8M64.5 397.6h0.8M68.1 394.5h0.8M61.1 392.6h0.8M59.0 406.0h0.8M66.2 401.4h0.8M67.0 406.2h0.8M62.0 402.3h0.8M62.4 404.7h0.8M65.9 409.7h0.8M65.5 408.8h0.8M60.2 401.0h0.8M57.1 402.2h0.8M72.3 404.0h0.8M64.3 404.1h0.8M64.5 394.8h0.8M61.5 401.5h0.8M64.6 397.5h0.8M63.6 398.2h0.8M59.3 398.7h0.8M61.2 407.5h0.8M68.7 405.9h0.8M63.3 399.3h0.8M58.4 399.4h0.8M69.5 409.3h0.8M64.8 401.1h0.8M64.0 405.0h0.8M64.0 405.0h0.8M61.3 402.8h0.8M62.8 408.8h0.8M59.6 410.1h0.8M63.7 399.6h0.8M64.1 403.3h0.8M63.2 405.0h0.8M62.0 392.6h0.8M66.5 402.4h0.8M69.9 404.8h0.8M56.9 409.8h0.8M61.6 405.7h0.8M71.9 408.9h0.8M60.1 402.0h0.8M58.3 406.5h0.8M66.0 396.5h0.8M65.6 408.0h0.8M66.9 398.6h0.8M61.6 396.0h0.8M59.4 404.4h0.8M64.1 410.2h0.8M65.0 400.7h0.8M59.0 411.6h0.8M64.6 402.4h0.8M60.4 396.4h0.8M66.2 396.9h0.8M66.1 406.2h0.8M62.7 393.1h0.8M65.5 410.8h0.8M61.1 395.2h0.8M67.8 403.4h0.8M61.8 409.7h0.8M63.0 405.2h0.8M62.6 398.2h0.8M64.8 397.5h0.8M57.7 399.4h0.8M68.4 409.0h0.8M71.7 408.3h0.8M69.7 404.0h0.8M62.5 405.3h0.8M60.6 406.8h0.8M62.4 404.1h0.8M61.0 401.8h0.8M67.5 401.3h0.8M61.6 404.2h0.8M67.1 401.5h0.8M59.9 393.5h0.8M59.3 408.8h0.8M63.7 405.3h0.8M67.8 404.2h0.8M65.7 399.6h0.8M58.3 406.2h0.8M63.7 405.9h0.8M60.2 401.7h0.8M71.1 397.7h0.8M64.3 410.2h0.8M63.2 403.3h0.8M56.5 407.1h0.8M62.4 410.0h0.8M63.7 400.4h0.8M65.5 401.2h0.8M62.2 411.5h0.8M67.5 403.2h0.8M66.9 407.4h0.8M66.1 402.8h0.8M64.3 404.9h0.8M66.0 404.6h0.8M62.1 402.1h0.8M65.6 396.9h0.8M64.0 407.0h0.8M64.6 400.9h0.8M63.9 399.8h0.8M67.5 400.4h0.8M58.1 395.6h0.8M65.1 403.8h0.8M62.3 395.0h0.8M63.5 397.7h0.8M61.7 402.6h0.8M61.3 404.4h0.8M61.4 399.9h0.8M63.2 411.0h0.8M69.6 408.0h0.8M61.4 402.6h0.8M67.2 407.2h0.8M58.3 402.3h0.8M61.4 406.9h0.8M66.2 399.5h0.8M71.6 401.0h0.8M72.6 401.6h0.8M62.1 399.9h0.8M69.2 402.4h0.8M65.7 395.4h0.8M70.3 408.2h0.8M65.3 406.6h0.8M62.2 399.9h0.8M58.5 404.7h0.8M68.4 407.5h0.8M67.2 406.7h0.8M60.8 395.1h0.8M66.3 403.5h0.8M67.5 401.0h0.8M60.9 405.1h0.8M62.0 393.2h0.8M61.9 397.6h0.8M60.1 399.4h0.8M70.1 400.2h0.8M68.0 402.2h0.8M65.4 398.7h0.8M63.7 393.0h0.8M70.3 398.2h0.8M66.1 399.2h0.8M65.0 395.9h0.8M62.7 407.8h0.8M66.1 391.5h0.8M67.0 395.1h0.8M65.0 405.6h0.8M61.7 400.8h0.8M63.1 404.9h0.8M67.2 410.4h0.8M63.1 407.0h0.8M63.6 403.1h0.8M60.8 404.8h0.8M71.1 403.4h0.8M63.9 402.6h0.8M66.5 401.4h0.8M64.0 403.8h0.8M68.6 408.0h0.8M60.3 399.0h0.8M64.1 407.4h0.8M67.4 401.4h0.8M71.5 401.7h0.8M69.0 410.7h0.8M69.6 403.7h0.8M66.0 393.9h0.8M57.7 399.1h0.8M66.5 408.7h0.8M63.6 408.5h0.8M66.0 411.3h0.8M58.4 397.9h0.8M60.6 396.6h0.8M69.8 397.3h0.8M61.1 400.3h0.8M67.1 400.0h0.8M66.6 405.7h0.8M61.7 389.1h0.8M60.8 395.5h0.8M69.8 398.5h0.8M60.2 404.7h0.8M64.2 397.3h0.8M67.9 407.8h0.8M65.0 398.3h0.8M60.9 390.9h0.8M65.4 404.8h0.8M60.8 402.7h0.8M75.6 396.2h0.8M58.0 406.1h0.8M62.5 399.8h0.8M66.2 401.8h0.8M67.5 405.5h0.8M68.1 403.3h0.8M56.4 410.3h0.8M58.0 408.5h0.8M64.9 394.7h0.8M64.2 407.6h0.8M60.4 402.8h0.8M61.4 396.9h0.8M61.8 409.9h0.8M66.4 402.4h0.8M63.7 403.3h0.8M65.0 403.6h0.8M57.9 407.8h0.8M61.0 387.7h0.8M66.5 395.7h0.8M63.5 402.0h0.8M61.9 405.6h0.8M63.0 401.0h0.8M60.6 401.0h0.8M60.3 402.8h0.8M68.7 408.3h0.8M65.5 394.8h0.8M67.6 407.9h0.8M71.3 389.7h0.8M64.1 400.7h0.8M67.8 396.4h0.8M67.5 391.2h0.8M64.1 410.4h0.8M61.8 406.0h0.8M64.4 394.2h0.8M61.8 409.0h0.8M68.2 399.1h0.8M68.0 398.5h0.8M64.9 402.4h0.8M59.6 404.4h0.8M62.6 386.9h0.8M61.1 397.7h0.8M61.0 397.0h0.8M61.6 388.5h0.8M67.2 403.0h0.8M64.9 401.0h0.8M64.2 401.0h0.8M60.1 393.9h0.8M64.3 408.4h0.8M64.8 411.8h0.8M59.2 401.0h0.8M61.8 409.6h0.8M70.0 399.6h0.8M66.6 401.2h0.8M60.5 401.9h0.8M60.3 411.4h0.8M66.1 409.3h0.8M65.3 388.6h0.8M66.8 403.1h0.8M55.6 403.1h0.8M67.6 412.3h0.8M60.4 407.1h0.8M65.2 401.5h0.8M63.0 405.6h0.8M66.0 406.3h0.8M62.6 395.0h0.8M68.7 410.0h0.8M62.0 402.3h0.8M66.9 392.4h0.8M65.0 398.5h0.8M71.2 402.6h0.8M64.8 400.1h0.8M64.6 392.2h0.8M59.5 394.1h0.8M67.2 402.0h0.8M68.1 390.8h0.8M61.9 410.9h0.8M61.2 391.8h0.8M61.4 400.5h0.8M64.0 410.0h0.8M68.7 411.4h0.8M66.1 399.6h0.8M62.2 394.0h0.8M68.5 409.7h0.8M64.3 397.4h0.8M66.4 405.3h0.8M64.5 395.8h0.8M64.8 399.3h0.8M66.6 405.9h0.8M65.6 400.1h0.8M69.4 407.0h0.8M68.5 407.3h0.8M66.3 404.8h0.8M60.2 392.1h0.8M60.7 406.0h0.8M67.2 403.6h0.8M62.6 392.3h0.8M58.5 400.7h0.8M66.5 406.7h0.8M63.2 407.2h0.8M63.8 398.3h0.8M62.7 406.9h0.8M67.4 396.0h0.8M60.5 403.2h0.8M71.5 395.8h0.8M59.6 404.9h0.8M65.8 399.0h0.8M63.9 405.3h0.8M57.8 402.4h0.8M66.1 407.8h0.8M68.1 402.1h0.8M58.9 410.2h0.8M66.7 398.8h0.8M67.7 408.5h0.8M63.5 388.9h0.8M62.3 398.2h0.8M61.0 402.0h0.8M60.2 404.7h0.8M70.7 395.7h0.8M67.7 399.4h0.8M65.9 401.8h0.8M68.5 398.4h0.8M66.6 398.0h0.8M64.8 402.4h0.8M67.8 393.4h0.8M59.2 410.5h0.8M65.4 412.3h0.8M60.4 403.7h0.8M66.1 412.7h0.8M63.8 399.9h0.8M66.5 401.9h0.8M61.4 406.9h0.8M57.3 396.7h0.8M68.8 399.6h0.8M62.9 404.6h0.8M68.0 405.5h0.8M60.6 399.2h0.8M67.7 401.8h0.8M61.8 407.5h0.8M60.2 398.4h0.8M61.6 404.5h0.8M62.3 408.9h0.8M54.5 408.0h0.8M61.7 400.9h0.8M66.0 403.7h0.8M60.4 411.1h0.8M66.0 399.7h0.8M64.7 396.1h0.8M59.7 400.8h0.8M65.3 403.1h0.8M61.3 394.5h0.8M58.1 411.7h0.8M65.3 397.9h0.8M68.2 405.6h0.8M62.5 399.0h0.8M68.0 404.4h0.8M69.7 404.6h0.8M61.9 399.1h0.8M61.5 404.0h0.8M64.9 406.0h0.8M65.6 396.5h0.8M63.3 397.1h0.8M65.7 394.9h0.8M62.0 397.6h0.8M61.8 401.0h0.8M69.3 401.0h0.8M59.0 400.8h0.8M66.6 405.7h0.8M67.9 403.0h0.8M68.3 394.8h0.8M63.4 397.5h0.8M64.6 411.8h0.8M62.3 411.7h0.8M60.4 410.7h0.8M58.1 397.6h0.8M67.5 402.0h0.8M64.5 402.4h0.8M64.6 401.5h0.8M60.6 400.8h0.8M64.4 397.3h0.8M65.6 412.6h0.8M58.3 399.4h0.8M63.0 402.6h0.8M64.3 398.3h0.8M63.9 402.5h0.8M63.7 411.4h0.8M64.5 394.0h0.8M58.5 405.9h0.8M62.8 398.9h0.8M59.3 400.7h0.8M63.7 398.6h0.8M62.8 407.6h0.8M66.7 405.6h0.8M63.4 394.7h0.8M66.7 411.1h0.8M68.5 409.2h0.8M65.0 404.7h0.8M64.0 409.7h0.8M66.7 400.7h0.8M64.0 393.2h0.8M61.4 400.8h0.8M72.6 397.8h0.8M67.2 402.9h0.8M63.0 406.1h0.8M57.0 407.9h0.8M70.8 404.2h0.8M63.8 403.4h0.8M66.3 399.7h0.8M64.4 405.4h0.8M62.8 404.7h0.8M65.2 406.6h0.8M60.6 399.4h0.8M62.5 409.4h0.8M64.9 393.0h0.8M65.2 395.1h0.8M60.8 403.3h0.8M69.0 411.8h0.8M62.7 400.8h0.8M70.7 396.8h0.8M69.5 404.5h0.8M64.3 409.9h0.8M65.7 397.7h0.8M58.7 402.6h0.8M65.8 410.4h0.8M54.9 410.2h0.8M66.2 411.2h0.8M66.8 403.7h0.8M65.5 404.8h0.8M61.8 401.8h0.8M64.4 399.9h0.8M58.9 394.2h0.8M65.8 405.5h0.8M64.4 395.8h0.8M67.0 400.2h0.8M56.7 411.5h0.8M65.9 400.0h0.8M55.8 398.4h0.8M69.2 410.3h0.8M64.9 392.6h0.8M62.7 400.9h0.8M65.6 401.8h0.8M65.2 393.1h0.8M61.8 410.8h0.8M58.9 407.8h0.8M72.1 406.3h0.8M59.1 409.7h0.8M57.5 404.4h0.8M62.6 409.6h0.8M68.1 403.6h0.8M70.3 408.2h0.8M62.3 396.8h0.8M72.6 400.2h0.8M65.4 401.8h0.8M62.3 393.2h0.8M63.5 401.8h0.8M67.4 399.5h0.8M58.5 396.3h0.8M63.9 403.9h0.8M66.5 400.3h0.8M65.9 403.3h0.8M69.9 402.2h0.8M64.5 405.8h0.8M68.3 397.2h0.8M62.3 400.9h0.8M56.5 410.0h0.8M67.8 402.6h0.8M75.8 409.8h0.8M71.1 411.6h0.8M67.2 394.3h0.8M69.4 404.9h0.8M59.8 402.8h0.8M66.6 408.2h0.8M64.6 399.5h0.8M66.7 398.1h0.8M63.7 406.9h0.8M59.0 404.7h0.8M57.2 397.1h0.8M59.7 402.0h0.8M66.5 402.2h0.8M67.2 403.1h0.8M63.3 405.3h0.8M63.2 403.3h0.8M67.6 399.2h0.8M68.0 396.1h0.8M63.2 392.5h0.8M62.1 411.7h0.8M65.2 409.8h0.8M58.9 396.7h0.8M65.6 407.3h0.8M66.9 392.8h0.8M65.8 402.1h0.8M64.4 405.3h0.8M63.0 392.7h0.8M60.3 394.1h0.8M59.4 401.7h0.8M68.6 398.4h0.8M61.3 395.9h0.8M58.0 402.9h0.8M62.3 401.1h0.8M60.6 405.3h0.8M59.8 405.7h0.8M61.7 407.1h0.8M60.9 405.1h0.8M65.5 402.0h0.8M69.7 403.5h0.8M60.9 406.5h0.8M61.1 399.4h0.8M64.0 403.6h0.8M70.0 392.4h0.8M63.1 409.0h0.8M63.4 404.4h0.8M69.4 395.4h0.8M64.2 407.1h0.8M61.9 392.4h0.8M60.5 403.6h0.8M68.7 393.5h0.8M67.6 407.8h0.8M69.7 401.6h0.8M62.0 403.4h0.8M69.4 406.1h0.8M70.0 407.1h0.8M61.9 396.6h0.8M70.5 393.7h0.8M62.8 400.7h0.8M60.8 399.2h0.8M63.8 399.5h0.8M64.4 407.9h0.8M61.1 400.1h0.8M57.9 406.6h0.8M66.4 411.2h0.8M67.1 400.9h0.8M62.6 400.7h0.8M59.7 407.0h0.8M61.9 398.3h0.8M65.8 403.2h0.8M62.0 401.1h0.8M62.3 410.3h0.8M67.5 398.3h0.8M63.9 410.5h0.8M65.6 406.4h0.8M56.7 407.4h0.8M65.2 405.9h0.8M65.7 405.6h0.8M62.2 407.7h0.8M64.2 396.4h0.8M60.4 403.4h0.8M65.2 389.7h0.8M56.8 408.6h0.8M58.6 401.1h0.8M61.9 405.7h0.8M68.9 411.9h0.8M60.5 409.7h0.8M59.7 404.3h0.8M64.6 406.1h0.8M61.2 410.3h0.8M63.8 402.4h0.8M63.1 396.3h0.8M66.5 404.5h0.8M61.0 400.8h0.8M64.0 407.5h0.8M63.4 407.9h0.8M65.6 392.3h0.8M61.6 390.7h0.8M63.0 400.1h0.8M66.1 403.5h0.8M63.8 409.8h0.8M66.1 395.3h0.8M61.6 404.4h0.8M70.0 401.3h0.8M63.4 404.0h0.8M66.8 402.0h0.8M65.0 400.0h0.8M62.1 397.9h0.8M66.3 399.3h0.8M65.9 404.9h0.8M67.4 386.9h0.8M60.6 395.4h0.8M63.4 407.2h0.8M72.9 411.5h0.8M68.8 404.7h0.8M62.6 405.6h0.8M56.3 407.9h0.8M64.0 406.1h0.8M60.4 396.1h0.8M61.7 402.2h0.8M65.2 400.4h0.8M65.2 406.5h0.8M59.9 401.9h0.8M58.5 399.3h0.8M67.2 398.3h0.8M70.6 405.4h0.8M67.1 403.1h0.8M67.0 408.9h0.8M64.4 399.4h0.8M63.4 399.8h0.8M61.5 392.7h0.8M62.2 404.4h0.8M62.3 398.1h0.8M65.4 405.2h0.8M62.5 404.3h0.8M60.6 407.5h0.8M60.5 400.5h0.8M64.5 400.1h0.8M69.3 392.3h0.8M64.4 395.1h0.8M65.1 394.9h0.8M66.0 405.6h0.8M70.0 409.5h0.8M62.4 408.0h0.8M62.4 401.8h0.8M62.2 392.2h0.8M66.1 390.6h0.8M63.2 405.6h0.8M64.4 393.3h0.8M61.7 406.5h0.8M67.9 411.8h0.8M57.6 405.2h0.8M62.3 407.0h0.8M58.1 401.7h0.8M66.5 398.7h0.8M62.7 396.8h0.8M67.9 394.7h0.8M60.8 400.6h0.8M65.0 397.6h0.8M66.0 404.5h0.8M65.0 402.1h0.8M65.6 395.7h0.8M59.8 400.0h0.8M60.1 406.6h0.8M70.8 409.7h0.8M65.6 404.5h0.8M61.6 394.9h0.8M65.9 393.9h0.8M65.1 401.7h0.8M66.6 402.8h0.8M64.4 399.1h0.8M57.9 400.5h0.8M66.4 408.6h0.8M68.8 396.7h0.8M60.7 406.6h0.8M65.1 393.6h0.8M62.0 411.7h0.8M57.6 403.4h0.8M59.1 411.9h0.8M62.4 396.5h0.8M58.0 398.3h0.8M55.0 399.7h0.8M71.7 403.1h0.8M63.1 395.7h0.8M65.2 399.7h0.8M61.0 410.6h0.8M65.5 397.3h0.8M69.2 402.2h0.8M65.8 403.4h0.8M68.1 406.1h0.8M62.8 406.7h0.8M62.6 403.3h0.8M69.8 396.3h0.8M60.4 400.2h0.8M62.2 410.1h0.8M69.6 399.9h0.8M64.7 400.4h0.8M66.4 406.4h0.8M66.6 407.0h0.8M70.8 401.5h0.8M66.5 401.4h0.8M64.1 403.8h0.8M63.8 404.5h0.8M61.0 401.6h0.8M61.9 395.7h0.8M61.5 399.6h0.8M63.5 393.4h0.8M63.1 395.9h0.8M61.1 403.6h0.8M67.9 404.2h0.8M62.3 399.9h0.8M68.7 393.0h0.8M68.0 393.7h0.8M61.8 402.8h0.8M63.2 412.2h0.8M65.7 402.2h0.8M67.4 402.7h0.8M61.2 409.1h0.8M69.3 410.0h0.8M62.5 407.0h0.8M58.3 396.5h0.8M68.2 405.4h0.8M62.9 385.4h0.8M65.6 401.4h0.8M55.2 399.2h0.8M64.0 403.9h0.8M66.7 400.9h0.8M60.8 400.4h0.8M56.6 396.0h0.8M71.0 398.5h0.8M67.7 403.2h0.8M66.6 400.9h0.8M60.8 408.4h0.8M64.5 411.9h0.8M63.1 400.3h0.8M65.2 401.4h0.8M62.9 397.3h0.8M64.9 404.4h0.8M70.5 402.3h0.8M57.8 405.2h0.8M72.1 399.9h0.8M61.2 401.5h0.8M53.9 400.5h0.8M63.3 393.6h0.8M66.0 397.4h0.8M57.5 398.3h0.8M68.4 403.6h0.8M62.2 401.0h0.8M67.4 399.5h0.8M65.5 408.2h0.8M60.8 399.0h0.8M65.6 402.5h0.8M63.6 399.4h0.8M68.8 393.0h0.8M64.2 403.0h0.8M64.1 394.4h0.8M63.5 403.4h0.8M61.6 404.3h0.8M55.4 393.7h0.8M64.4 404.8h0.8M63.4 399.8h0.8M64.7 408.9h0.8M67.2 402.0h0.8M62.4 408.7h0.8M65.9 407.7h0.8M63.0 397.4h0.8M64.7 398.8h0.8M68.1 407.5h0.8M56.3 406.4h0.8M68.7 408.6h0.8M62.3 397.4h0.8M67.4 408.5h0.8M64.2 395.7h0.8M58.6 404.1h0.8M61.1 398.5h0.8M65.6 408.7h0.8M56.7 398.6h0.8M68.6 402.3h0.8M62.8 406.3h0.8M60.0 395.3h0.8M64.1 411.7h0.8M67.6 402.5h0.8M67.6 400.1h0.8M59.8 392.7h0.8M65.0 407.8h0.8M65.3 402.3h0.8M62.6 408.9h0.8M63.8 394.0h0.8M68.8 398.7h0.8M65.4 402.5h0.8M67.7 404.0h0.8M68.3 403.7h0.8M62.4 399.5h0.8M66.3 397.6h0.8M67.3 401.1h0.8M60.7 397.4h0.8M66.7 402.6h0.8M63.0 402.5h0.8M62.5 410.3h0.8M64.6 399.8h0.8M64.7 396.6h0.8M60.3 401.6h0.8M53.8 409.4h0.8M71.0 396.0h0.8M63.5 393.2h0.8M64.6 403.7h0.8M66.6 394.7h0.8M61.9 398.7h0.8M63.3 402.3h0.8M62.2 407.2h0.8M73.1 409.3h0.8M69.4 396.2h0.8M67.7 402.7h0.8M68.4 408.7h0.8M66.3 392.6h0.8M64.5 399.6h0.8M65.6 402.7h0.8M67.7 393.1h0.8M61.4 402.1h0.8M65.1 400.1h0.8M63.9 402.8h0.8M67.7 401.8h0.8M64.9 391.8h0.8M54.7 393.9h0.8M65.3 388.9h0.8M65.5 401.9h0.8M64.0 398.2h0.8M62.5 407.4h0.8M65.3 402.3h0.8M62.3 403.7h0.8M68.2 402.4h0.8M62.7 395.6h0.8M64.4 397.1h0.8M58.9 407.6h0.8M61.8 390.5h0.8M63.6 394.7h0.8M60.1 406.7h0.8M65.4 403.8h0.8M63.3 405.4h0.8M69.5 405.4h0.8M63.4 394.3h0.8M65.6 411.7h0.8M66.3 395.1h0.8M64.7 410.2h0.8M61.8 405.4h0.8M68.3 412.1h0.8M58.4 392.2h0.8M65.3 406.6h0.8M62.7 402.4h0.8M62.6 409.6h0.8M56.2 404.0h0.8M59.5 398.5h0.8M58.6 397.1h0.8M63.9 402.7h0.8M70.3 401.2h0.8M65.2 404.6h0.8M64.9 411.2h0.8M64.5 403.4h0.8M63.6 402.5h0.8M63.8 408.4h0.8M64.1 402.9h0.8M63.8 407.0h0.8M62.3 408.0h0.8M62.0 406.6h0.8M70.8 403.9h0.8M63.7 395.5h0.8M66.6 402.6h0.8M67.2 398.6h0.8M65.4 400.6h0.8M59.4 402.4h0.8M66.3 406.0h0.8M60.0 396.4h0.8M60.5 396.5h0.8M63.0 404.1h0.8M70.8 403.7h0.8M69.2 392.7h0.8M69.5 407.2h0.8M65.6 407.4h0.8M66.9 392.2h0.8M57.8 412.0h0.8M63.7 410.3h0.8M62.8 398.6h0.8M62.8 404.4h0.8M64.7 398.8h0.8M65.9 406.2h0.8M60.7 395.9h0.8M57.0 400.7h0.8M64.0 398.4h0.8M61.9 401.7h0.8M64.1 405.9h0.8M67.0 405.1h0.8M68.0 396.8h0.8M66.2 404.7h0.8M60.3 398.5h0.8M65.6 402.9h0.8M59.5 399.2h0.8M69.4 407.5h0.8M64.3 410.5h0.8M60.8 401.5h0.8M67.4 400.5h0.8M60.0 406.0h0.8M69.7 387.5h0.8M64.5 395.1h0.8M62.9 394.1h0.8M73.3 398.5h0.8M64.2 398.3h0.8M60.5 399.8h0.8M65.0 411.8h0.8M60.2 402.9h0.8M62.4 393.2h0.8M77.3 401.1h0.8M64.9 398.0h0.8M62.0 396.4h0.8M67.6 400.1h0.8M63.5 403.6h0.8M59.6 403.9h0.8M63.4 405.1h0.8M62.6 402.7h0.8M65.8 408.2h0.8M61.5 408.3h0.8M60.5 401.4h0.8M64.5 403.4h0.8M55.1 396.7h0.8M63.3 408.0h0.8M61.5 411.5h0.8M57.6 403.0h0.8M65.9 402.6h0.8M64.9 408.0h0.8M61.1 406.0h0.8M67.8 401.1h0.8M55.8 395.4h0.8M61.0 396.2h0.8M65.5 397.7h0.8M72.8 405.9h0.8M59.4 400.8h0.8M69.4 406.5h0.8M60.4 408.6h0.8M62.0 406.0h0.8M66.0 399.9h0.8M63.5 409.4h0.8M65.8 402.1h0.8M67.3 405.3h0.8M65.2 393.2h0.8M64.5 399.6h0.8M66.6 398.9h0.8M65.6 396.3h0.8M67.2 398.2h0.8M63.9 405.9h0.8M62.8 402.5h0.8M57.6 397.1h0.8M66.4 408.1h0.8M62.3 403.1h0.8M63.3 395.4h0.8M58.5 394.9h0.8M68.6 400.2h0.8M70.9 406.3h0.8M65.4 406.3h0.8M66.8 408.0h0.8M60.5 399.2h0.8M62.1 403.1h0.8M63.1 395.2h0.8M71.5 397.4h0.8M65.4 402.3h0.8M61.0 406.7h0.8M63.8 412.4h0.8M65.6 400.7h0.8M54.6 401.9h0.8M67.0 398.3h0.8M67.1 406.5h0.8M57.7 401.3h0.8M65.1 407.0h0.8M64.6 402.4h0.8M62.8 400.8h0.8M64.0 396.2h0.8M66.3 400.6h0.8M65.9 399.5h0.8M65.5 403.3h0.8M67.2 405.2h0.8M67.3 401.5h0.8M63.8 401.0h0.8M59.5 401.8h0.8M67.9 407.1h0.8M61.0 404.3h0.8M66.7 394.4h0.8M65.2 404.5h0.8M66.7 404.0h0.8M57.8 390.6h0.8M71.1 400.2h0.8M68.5 410.0h0.8M64.3 395.7h0.8" stroke="#000" stroke-width="0.8" fill="none"/>
<path d="M62.7 353.4h0.7M62.4 351.3h0.7M72.4 356.2h0.7M64.8 363.6h0.7M68.9 347.5h0.7M65.9 357.5h0.7M70.9 359.5h0.7M66.2 349.1h0.7M59.3 355.1h0.7M65.1 349.7h0.7M61.4 352.3h0.7M63.3 355.4h0.7M61.8 348.8h0.7M68.2 360.7h0.7M62.6 358.3h0.7M64.9 356.8h0.7M65.0 350.8h0.7M65.4 358.2h0.7M59.2 362.3h0.7M71.8 361.7h0.7M71.4 357.1h0.7M61.6 351.5h0.7M59.6 354.5h0.7M62.9 356.8h0.7M54.5 363.7h0.7M72.6 353.9h0.7M65.8 356.0h0.7M64.1 353.1h0.7M62.5 350.5h0.7M63.7 353.9h0.7M64.3 350.4h0.7M63.2 354.2h0.7M65.5 349.5h0.7M64.8 358.1h0.7M65.5 352.5h0.7M60.9 353.0h0.7M66.1 360.5h0.7M62.3 351.3h0.7M64.6 354.9h0.7M59.2 350.9h0.7M62.6 356.8h0.7M58.0 349.7h0.7M65.1 348.9h0.7M63.5 355.5h0.7M62.5 349.7h0.7M62.7 352.6h0.7M64.4 350.5h0.7M67.6 347.0h0.7M62.3 354.0h0.7M67.0 351.4h0.7M65.3 351.6h0.7M66.1 361.3h0.7M61.3 355.9h0.7M59.1 358.1h0.7M68.1 354.1h0.7M58.2 355.7h0.7M67.8 358.6h0.7M66.4 346.3h0.7M60.1 360.0h0.7M57.9 358.8h0.7M70.9 357.2h0.7M67.7 352.6h0.7M57.9 353.6h0.7M62.2 353.8h0.7M65.9 353.4h0.7M63.8 355.8h0.7M63.0 361.7h0.7M64.9 354.4h0.7M62.1 351.4h0.7M68.6 354.6h0.7M58.5 351.6h0.7M62.4 352.1h0.7M67.6 349.1h0.7M65.1 354.6h0.7M58.1 354.2h0.7M62.6 356.1h0.7M61.1 355.3h0.7M56.0 349.4h0.7M66.3 358.4h0.7M62.9 351.5h0.7M67.5 345.2h0.7M59.6 356.8h0.7M65.7 349.7h0.7M55.1 360.1h0.7M63.6 350.2h0.7M63.2 357.8h0.7M52.1 358.7h0.7M66.1 345.3h0.7M66.2 346.5h0.7M67.8 355.7h0.7M72.5 351.4h0.7M63.0 358.4h0.7M60.3 351.0h0.7M61.4 353.7h0.7M58.5 356.0h0.7M65.3 354.3h0.7M70.1 352.6h0.7M68.5 351.7h0.7M66.2 345.9h0.7M63.8 353.3h0.7M60.9 351.4h0.7M61.5 351.0h0.7M53.8 351.5h0.7M60.7 351.8h0.7M58.6 353.4h0.7M66.3 352.9h0.7M60.9 359.7h0.7M67.1 357.9h0.7M67.9 352.6h0.7M62.5 358.7h0.7M60.7 353.5h0.7M64.6 355.6h0.7M61.8 358.1h0.7M62.3 357.0h0.7M67.5 356.8h0.7M66.1 349.1h0.7M57.5 351.4h0.7M65.0 360.3h0.7M57.9 355.3h0.7M59.4 350.9h0.7M61.8 356.9h0.7M63.9 359.0h0.7M58.9 357.7h0.7M66.9 354.3h0.7M65.0 351.6h0.7M58.4 352.3h0.7M60.3 366.1h0.7M61.0 360.9h0.7M63.8 355.3h0.7M66.1 350.7h0.7M66.8 355.6h0.7M56.6 356.5h0.7M65.3 355.9h0.7M69.7 352.3h0.7M65.1 357.1h0.7M59.2 359.0h0.7M56.9 348.5h0.7M65.2 349.4h0.7M62.5 347.1h0.7M63.3 349.2h0.7M64.4 347.6h0.7M64.9 352.9h0.7M63.3 353.7h0.7M63.5 348.5h0.7M52.2 354.1h0.7M59.1 352.1h0.7M64.8 345.7h0.7M59.8 351.4h0.7M58.6 355.4h0.7M62.4 350.6h0.7M58.9 357.4h0.7M60.2 356.5h0.7M64.9 346.0h0.7M58.4 354.0h0.7M64.4 357.3h0.7M66.4 358.3h0.7M61.4 353.1h0.7M66.3 352.2h0.7M67.4 347.3h0.7M65.7 353.3h0.7M54.7 358.1h0.7M64.3 354.1h0.7M58.5 352.0h0.7M69.3 350.5h0.7M48.4 350.4h0.7M58.0 353.4h0.7M61.3 350.2h0.7M59.5 358.4h0.7M56.9 362.2h0.7M60.7 349.4h0.7M66.3 356.4h0.7M58.6 357.1h0.7M55.3 350.1h0.7M67.7 352.9h0.7M57.5 356.2h0.7M66.9 353.9h0.7M55.4 352.5h0.7M64.8 357.2h0.7M70.8 352.9h0.7M61.0 353.8h0.7M68.1 350.0h0.7M68.5 342.5h0.7M66.3 351.2h0.7M64.9 356.9h0.7M58.0 353.6h0.7M64.0 356.5h0.7M59.1 349.8h0.7M54.9 364.7h0.7M62.2 353.1h0.7M56.7 357.9h0.7M60.8 360.0h0.7M66.6 354.1h0.7M66.1 349.3h0.7M61.6 351.6h0.7M57.7 354.1h0.7M62.4 360.0h0.7M48.9 351.2h0.7M59.1 352.1h0.7M64.8 355.7h0.7M63.1 352.0h0.7M65.1 355.5h0.7M55.3 352.9h0.7M57.2 349.0h0.7M63.6 354.3h0.7M63.5 350.3h0.7M62.2 350.2h0.7M64.6 356.9h0.7M70.4 359.3h0.7M59.6 352.1h0.7M59.1 355.3h0.7M71.3 357.0h0.7M53.8 348.7h0.7M57.6 356.2h0.7M63.0 355.3h0.7M70.5 350.5h0.7M59.4 362.3h0.7M64.4 350.7h0.7M54.5 347.6h0.7M52.7 354.3h0.7M63.2 358.2h0.7M62.4 351.1h0.7M59.9 362.0h0.7M55.6 354.7h0.7M63.1 356.6h0.7M61.3 356.1h0.7M66.4 353.4h0.7M61.1 353.2h0.7M58.9 353.1h0.7M61.7 354.9h0.7M68.6 359.5h0.7M61.1 356.5h0.7M64.2 357.2h0.7M63.1 355.1h0.7M61.0 350.7h0.7M66.7 359.5h0.7M65.8 355.8h0.7M64.1 352.1h0.7M55.5 356.8h0.7M63.8 351.7h0.7M58.9 359.4h0.7M55.4 361.4h0.7M65.7 364.0h0.7M60.0 353.9h0.7M60.9 354.7h0.7M62.1 350.9h0.7M67.5 350.7h0.7M60.9 356.3h0.7M60.7 352.2h0.7M64.5 352.5h0.7M57.8 353.6h0.7M62.1 361.2h0.7M58.4 358.1h0.7M59.7 352.5h0.7M61.6 355.1h0.7M66.6 361.3h0.7M60.3 359.6h0.7M67.2 357.4h0.7M59.8 357.8h0.7M62.5 355.5h0.7M61.9 356.8h0.7M67.7 358.8h0.7M62.1 358.2h0.7M69.1 350.1h0.7M69.2 348.4h0.7M65.3 356.5h0.7M69.2 355.2h0.7M61.0 350.7h0.7M57.7 357.2h0.7M62.0 351.0h0.7M65.2 350.8h0.7M61.2 352.1h0.7M69.9 360.1h0.7M62.3 347.4h0.7M64.2 354.3h0.7M64.5 356.4h0.7M61.7 357.9h0.7M66.5 354.9h0.7M61.3 352.0h0.7M65.9 349.4h0.7M62.3 350.9h0.7M57.1 356.5h0.7M62.9 354.2h0.7M66.7 347.7h0.7M62.7 355.2h0.7M66.5 349.4h0.7M66.0 354.9h0.7M68.7 358.8h0.7M65.3 363.0h0.7M63.0 352.2h0.7M61.6 350.1h0.7M62.9 346.1h0.7M62.6 355.8h0.7M67.2 352.5h0.7M68.8 351.3h0.7M62.4 346.1h0.7M59.8 350.7h0.7M69.1 356.2h0.7M58.5 356.2h0.7M65.0 353.0h0.7M63.1 352.7h0.7M60.8 346.7h0.7M62.6 359.3h0.7M68.9 352.9h0.7M59.9 353.1h0.7M66.7 355.4h0.7M60.6 355.5h0.7M62.2 356.1h0.7M61.3 348.0h0.7M63.2 357.1h0.7M58.5 353.6h0.7M66.6 352.5h0.7M60.3 362.3h0.7M66.4 358.2h0.7M59.1 360.7h0.7M56.2 351.9h0.7M66.0 359.4h0.7M59.2 351.3h0.7M63.8 346.1h0.7M65.6 356.3h0.7M61.2 356.2h0.7M66.2 355.3h0.7M65.1 360.2h0.7M61.1 354.7h0.7M60.9 358.2h0.7M61.3 355.9h0.7M63.6 354.3h0.7M70.0 353.7h0.7M68.8 357.4h0.7M68.4 353.3h0.7M66.8 357.1h0.7M60.5 355.1h0.7M62.5 353.9h0.7M68.3 351.1h0.7M56.2 346.9h0.7M61.2 351.4h0.7M63.1 356.3h0.7M70.1 355.3h0.7M64.9 351.0h0.7M65.4 359.5h0.7M68.4 346.1h0.7M66.6 360.4h0.7M66.3 347.9h0.7M61.8 356.4h0.7M64.7 350.7h0.7M59.4 357.9h0.7M57.6 359.8h0.7M63.1 355.2h0.7M57.6 351.6h0.7M65.8 348.1h0.7M71.4 348.3h0.7M58.1 354.2h0.7M64.9 357.0h0.7M61.5 353.2h0.7M62.0 351.7h0.7M52.6 357.9h0.7M64.0 354.6h0.7M60.5 355.0h0.7M62.9 353.7h0.7M67.5 347.0h0.7M64.0 349.7h0.7M61.7 360.0h0.7M58.6 353.6h0.7M60.6 357.8h0.7M59.0 347.2h0.7M65.1 352.6h0.7M61.7 358.4h0.7M59.4 352.5h0.7M63.6 355.7h0.7M60.9 358.2h0.7M72.0 352.4h0.7M70.5 345.5h0.7M68.7 352.6h0.7M63.6 352.6h0.7M60.4 348.8h0.7M61.4 359.2h0.7M67.6 352.6h0.7M60.9 351.2h0.7M58.2 361.3h0.7M65.7 354.5h0.7M61.0 349.9h0.7M68.3 357.1h0.7M59.2 358.0h0.7M58.5 356.6h0.7M59.1 352.3h0.7M65.0 355.7h0.7M67.1 350.6h0.7M69.4 359.4h0.7M63.0 355.9h0.7M59.9 353.4h0.7M57.7 354.4h0.7M63.8 359.4h0.7M66.8 357.3h0.7M61.5 353.1h0.7M61.6 354.9h0.7M55.2 357.1h0.7M56.7 351.9h0.7M63.1 351.9h0.7M69.7 353.6h0.7M69.3 358.7h0.7M61.0 355.6h0.7M68.2 352.7h0.7M63.4 351.7h0.7M63.2 352.6h0.7M63.3 358.0h0.7M68.6 354.5h0.7M63.8 357.5h0.7M61.8 349.7h0.7M67.5 350.2h0.7M66.8 350.1h0.7M70.4 349.8h0.7M66.4 360.0h0.7M59.1 360.0h0.7M59.7 346.9h0.7M65.9 356.8h0.7M62.2 343.8h0.7M62.8 352.8h0.7M61.5 352.8h0.7M55.8 351.7h0.7M70.3 360.2h0.7M61.5 351.1h0.7M64.6 358.3h0.7M65.9 349.3h0.7M63.7 354.6h0.7M68.8 358.8h0.7M65.1 358.9h0.7M61.4 360.2h0.7M61.3 355.6h0.7M66.7 350.3h0.7M60.2 346.9h0.7M63.7 353.8h0.7M61.7 356.0h0.7M54.5 353.9h0.7M63.4 352.9h0.7M66.2 361.1h0.7M61.2 350.2h0.7M60.6 354.4h0.7M65.4 350.5h0.7M67.0 349.9h0.7M66.3 355.7h0.7M64.9 362.7h0.7M61.9 353.3h0.7M64.9 357.5h0.7M57.6 355.1h0.7M60.0 356.5h0.7M68.5 354.2h0.7M62.6 354.7h0.7M51.1 357.1h0.7M65.3 354.7h0.7M61.4 351.1h0.7M62.3 358.9h0.7M62.6 359.4h0.7M52.6 352.1h0.7M64.1 353.9h0.7M56.3 351.3h0.7M68.0 348.8h0.7M59.0 349.6h0.7M60.8 356.6h0.7M65.4 345.8h0.7M68.9 351.6h0.7M60.6 360.7h0.7M62.7 349.0h0.7M60.4 351.1h0.7M58.9 352.7h0.7M66.5 355.4h0.7M57.4 365.2h0.7M59.0 354.5h0.7M63.1 357.1h0.7M61.7 355.8h0.7M71.5 354.4h0.7M58.6 355.3h0.7M59.8 352.5h0.7M63.8 355.4h0.7M61.9 357.4h0.7M62.2 348.7h0.7M66.5 352.5h0.7M67.9 351.4h0.7M65.3 355.3h0.7M52.1 348.0h0.7M58.5 359.7h0.7M55.4 357.7h0.7M67.4 356.0h0.7M65.7 352.0h0.7M63.0 354.9h0.7M64.7 356.9h0.7M62.2 351.2h0.7M60.7 355.7h0.7M56.3 348.9h0.7M61.3 351.8h0.7M61.9 343.3h0.7M61.6 353.0h0.7M66.1 346.0h0.7M61.8 355.9h0.7M65.0 358.8h0.7M67.3 349.8h0.7M65.6 352.6h0.7M59.8 360.2h0.7M60.5 350.6h0.7M61.4 350.6h0.7M67.1 355.5h0.7M68.7 355.7h0.7M71.0 401.7h0.7M66.7 405.5h0.7M68.9 409.5h0.7M56.7 391.6h0.7M64.7 402.1h0.7M68.0 401.0h0.7M71.1 410.6h0.7M69.3 396.2h0.7M63.6 401.5h0.7M58.4 395.6h0.7M64.8 393.0h0.7M66.8 405.5h0.7M62.8 399.5h0.7M67.1 405.5h0.7M65.9 393.0h0.7M60.6 399.3h0.7M54.6 396.1h0.7M60.2 407.9h0.7M50.4 391.7h0.7M61.9 398.4h0.7M60.0 398.7h0.7M55.9 404.0h0.7M70.1 403.1h0.7M61.2 411.3h0.7M66.5 394.4h0.7M61.1 397.5h0.7M63.8 411.0h0.7M60.4 400.9h0.7M64.6 393.2h0.7M61.6 406.5h0.7M69.8 388.2h0.7M67.6 399.9h0.7M70.6 406.6h0.7M74.1 404.3h0.7M62.0 395.9h0.7M56.6 406.1h0.7M66.7 408.0h0.7M65.8 391.0h0.7M61.9 400.2h0.7M64.8 407.7h0.7M71.3 404.1h0.7M53.4 394.5h0.7M53.0 396.4h0.7M57.8 403.8h0.7M62.9 410.2h0.7M69.5 398.6h0.7M68.9 402.1h0.7M66.3 411.9h0.7M58.1 401.5h0.7M71.9 396.4h0.7M65.1 403.0h0.7M61.9 392.4h0.7M60.5 394.8h0.7M69.6 403.8h0.7M67.6 393.3h0.7M66.6 403.1h0.7M69.4 396.7h0.7M68.2 412.1h0.7M73.3 395.2h0.7M58.2 391.2h0.7M68.9 406.4h0.7M65.8 395.6h0.7M63.8 401.1h0.7M70.1 405.7h0.7M70.9 399.0h0.7M65.7 399.5h0.7M61.1 399.8h0.7M62.5 405.7h0.7M62.4 402.5h0.7M59.8 393.0h0.7M71.3 394.8h0.7M73.3 408.9h0.7M52.2 397.3h0.7M61.9 402.2h0.7M63.1 397.6h0.7M70.4 401.1h0.7M69.0 397.0h0.7M60.5 411.8h0.7M62.6 393.9h0.7M63.1 409.7h0.7M63.2 396.7h0.7M67.3 409.2h0.7M62.9 399.7h0.7M63.2 405.0h0.7M53.5 403.3h0.7M64.3 399.7h0.7M61.9 392.0h0.7M56.4 403.2h0.7M60.7 401.3h0.7M63.1 398.3h0.7M58.3 398.3h0.7M62.5 393.5h0.7M59.1 408.3h0.7M68.8 403.0h0.7M80.7 408.1h0.7M70.3 396.0h0.7M59.9 393.7h0.7M63.8 396.1h0.7M67.3 393.9h0.7M64.4 387.7h0.7M63.8 409.7h0.7M62.7 404.3h0.7M69.6 394.0h0.7M57.5 402.6h0.7M65.4 400.0h0.7M59.0 410.9h0.7M58.0 400.1h0.7M63.8 407.3h0.7M61.7 396.0h0.7M74.4 395.8h0.7M68.1 400.9h0.7M61.6 401.7h0.7M62.7 404.3h0.7M51.0 401.8h0.7M64.4 394.9h0.7M73.5 406.7h0.7M65.2 399.8h0.7M71.1 398.7h0.7M59.8 407.1h0.7M59.1 396.2h0.7M71.5 390.2h0.7M63.7 402.9h0.7M65.3 391.3h0.7M62.9 399.6h0.7M73.9 409.4h0.7M60.1 408.4h0.7M67.4 401.2h0.7M62.8 400.0h0.7M56.1 397.4h0.7M68.8 412.6h0.7M73.5 399.3h0.7M67.2 384.4h0.7M62.6 392.8h0.7M68.2 389.9h0.7M58.7 393.9h0.7M66.1 408.1h0.7M64.8 395.9h0.7M65.8 401.9h0.7M68.3 404.5h0.7M75.3 410.6h0.7M60.7 407.8h0.7M67.9 394.7h0.7M60.2 396.1h0.7M51.4 406.7h0.7M62.9 411.0h0.7M61.2 402.6h0.7M67.7 409.1h0.7M65.7 394.4h0.7M75.3 408.4h0.7M71.2 405.0h0.7M66.5 406.6h0.7M56.3 408.0h0.7M59.0 405.1h0.7M58.8 407.2h0.7M65.0 405.7h0.7M59.4 399.9h0.7M63.7 399.9h0.7M61.8 395.6h0.7M67.9 399.2h0.7M59.9 404.7h0.7M59.9 400.7h0.7M61.4 395.2h0.7M62.9 396.0h0.7M57.6 404.6h0.7M62.5 391.3h0.7M62.0 403.4h0.7M66.2 404.7h0.7M65.3 406.4h0.7M61.5 396.2h0.7M67.2 399.0h0.7M64.1 406.8h0.7M68.8 410.9h0.7M60.5 399.3h0.7M66.9 391.5h0.7M57.6 406.4h0.7M60.9 395.3h0.7M68.2 405.9h0.7M68.7 399.6h0.7M62.6 399.5h0.7M65.6 387.2h0.7M60.5 407.2h0.7M60.0 401.5h0.7M64.7 405.8h0.7M61.6 393.7h0.7M76.8 396.8h0.7M72.8 389.2h0.7M64.6 400.6h0.7M69.0 394.6h0.7M59.9 396.5h0.7M61.4 403.9h0.7M60.0 400.2h0.7M71.6 412.5h0.7M54.5 395.1h0.7M62.1 411.5h0.7M65.9 412.5h0.7M59.7 399.7h0.7M69.3 406.2h0.7M54.5 400.0h0.7M65.0 406.6h0.7M64.8 412.6h0.7M66.1 402.6h0.7M62.4 393.5h0.7M68.5 407.5h0.7M68.8 399.3h0.7M58.9 399.3h0.7M62.5 401.9h0.7M69.1 395.4h0.7M61.6 407.0h0.7M66.7 395.8h0.7M58.7 396.3h0.7M64.4 403.9h0.7M63.7 397.5h0.7M63.1 401.4h0.7M67.1 402.6h0.7M59.9 393.5h0.7M71.6 401.4h0.7M63.2 401.8h0.7M69.8 399.7h0.7M65.0 400.3h0.7M67.0 394.7h0.7M65.1 409.5h0.7M70.1 406.5h0.7M67.7 412.2h0.7M57.9 394.0h0.7M68.1 400.1h0.7M61.9 395.1h0.7M71.6 393.3h0.7M64.6 391.9h0.7M76.5 398.4h0.7M59.7 389.1h0.7M65.8 394.2h0.7M56.7 410.2h0.7M60.3 394.3h0.7M64.9 400.6h0.7M69.8 402.7h0.7M72.2 410.3h0.7M73.1 410.2h0.7M64.4 406.0h0.7M64.2 390.7h0.7M58.1 407.4h0.7M52.0 396.0h0.7M57.5 401.6h0.7M58.8 403.8h0.7M63.1 398.6h0.7M59.8 385.9h0.7M64.5 392.6h0.7M62.6 404.7h0.7M69.4 407.1h0.7M71.6 391.7h0.7M66.1 394.0h0.7M66.1 398.3h0.7M60.8 409.7h0.7M63.2 393.9h0.7M59.8 406.9h0.7M65.0 410.5h0.7M62.7 395.2h0.7M60.8 394.6h0.7M77.3 403.4h0.7M62.5 411.2h0.7M67.4 400.7h0.7M67.2 404.0h0.7M62.5 401.8h0.7M63.2 410.9h0.7M66.0 407.7h0.7M68.7 397.4h0.7M64.7 412.1h0.7M68.8 407.9h0.7M62.7 399.4h0.7M59.7 400.1h0.7M63.8 391.6h0.7M70.0 396.5h0.7M65.4 406.4h0.7M61.3 388.9h0.7M69.0 405.0h0.7M62.8 410.2h0.7M68.6 395.1h0.7M63.7 389.2h0.7M62.8 412.3h0.7M59.8 408.0h0.7M56.4 399.9h0.7M66.4 407.5h0.7M72.8 384.3h0.7M76.6 406.4h0.7M64.4 403.9h0.7M64.2 397.6h0.7M64.0 401.1h0.7M67.5 407.0h0.7M69.1 406.3h0.7M59.2 412.1h0.7M50.5 402.9h0.7M65.8 398.2h0.7M73.6 394.1h0.7M58.2 398.4h0.7M66.2 407.8h0.7M64.6 406.9h0.7M60.5 397.6h0.7M64.8 392.3h0.7M65.0 399.2h0.7M67.5 394.7h0.7M61.4 397.9h0.7M62.2 394.8h0.7M62.8 392.2h0.7M66.8 406.9h0.7M64.0 400.7h0.7M59.6 395.1h0.7M63.0 395.5h0.7M58.1 403.2h0.7M64.0 399.1h0.7M60.0 401.6h0.7M60.6 398.9h0.7M65.0 407.2h0.7M67.9 397.6h0.7M70.2 393.6h0.7M63.2 411.5h0.7M76.1 403.0h0.7M62.3 399.3h0.7M58.0 401.0h0.7M61.9 396.6h0.7M70.1 396.4h0.7M72.6 408.1h0.7M67.3 397.8h0.7M61.5 387.6h0.7M65.5 400.1h0.7M66.0 397.2h0.7M66.5 391.2h0.7M53.1 405.5h0.7M69.5 379.2h0.7M70.6 399.5h0.7M63.3 390.9h0.7M59.1 407.2h0.7M60.4 401.7h0.7M68.6 392.5h0.7M61.7 393.7h0.7M57.1 397.1h0.7M69.6 402.4h0.7M67.5 401.0h0.7M62.0 402.6h0.7M73.1 404.7h0.7M67.1 387.6h0.7M60.1 407.9h0.7M70.2 399.1h0.7M62.9 398.7h0.7M68.1 402.2h0.7M71.6 410.6h0.7M62.5 397.6h0.7M62.9 395.6h0.7M62.0 401.5h0.7M68.5 390.6h0.7M57.0 396.4h0.7M62.5 405.3h0.7M61.4 400.4h0.7M64.3 410.5h0.7M65.6 402.2h0.7M61.3 403.2h0.7M66.1 399.5h0.7M64.0 388.7h0.7M61.4 410.6h0.7M71.2 401.5h0.7M62.0 409.3h0.7M61.0 412.0h0.7M69.9 394.3h0.7M62.9 393.2h0.7M65.5 399.1h0.7M56.6 394.4h0.7M65.3 390.9h0.7M69.5 405.3h0.7M63.2 412.2h0.7M59.4 407.0h0.7M57.3 399.6h0.7M67.3 398.1h0.7M63.5 406.7h0.7M71.7 411.5h0.7M66.4 400.1h0.7M73.5 386.3h0.7M68.4 401.7h0.7M67.6 404.3h0.7M63.1 402.0h0.7M63.9 410.5h0.7M62.7 398.0h0.7M67.3 406.7h0.7M66.2 404.1h0.7M71.4 410.1h0.7M65.1 400.5h0.7M67.4 388.4h0.7M61.4 396.9h0.7M64.9 399.2h0.7M76.4 407.4h0.7M64.0 399.7h0.7M70.2 408.0h0.7M68.7 410.8h0.7M62.2 397.2h0.7M60.4 402.8h0.7M69.1 394.3h0.7M61.4 392.3h0.7M74.1 407.8h0.7M65.1 393.1h0.7M58.9 397.3h0.7M64.2 392.7h0.7M62.9 410.9h0.7M64.1 402.7h0.7M53.6 400.0h0.7M63.3 397.0h0.7M57.1 401.5h0.7M58.9 398.0h0.7M56.1 401.3h0.7M68.6 395.9h0.7M65.7 390.9h0.7M66.9 406.0h0.7M62.1 408.5h0.7M59.7 402.3h0.7M72.5 401.8h0.7M58.4 410.4h0.7M66.7 400.0h0.7M55.0 388.3h0.7M65.5 395.8h0.7M59.8 405.5h0.7M55.8 404.7h0.7M73.1 391.7h0.7M64.3 397.4h0.7M63.6 402.6h0.7M65.4 408.5h0.7M66.6 409.7h0.7M69.1 410.0h0.7M60.7 405.0h0.7M62.2 395.8h0.7M73.8 404.1h0.7M64.3 386.6h0.7M62.9 407.6h0.7M63.0 398.0h0.7M71.4 399.7h0.7M62.4 401.3h0.7M62.9 409.7h0.7M66.9 401.5h0.7M62.2 400.4h0.7M72.5 399.8h0.7M67.3 390.5h0.7M65.7 407.0h0.7M70.4 404.3h0.7M66.9 404.4h0.7M65.1 396.0h0.7M67.0 401.2h0.7M67.2 407.7h0.7M64.8 398.8h0.7M65.6 392.9h0.7M65.4 395.5h0.7M66.3 402.9h0.7M63.0 393.2h0.7M64.3 397.0h0.7M63.3 407.1h0.7M68.8 392.6h0.7M68.7 412.0h0.7M69.7 404.0h0.7M62.5 390.8h0.7M64.5 404.1h0.7M58.9 393.1h0.7M73.9 402.8h0.7M67.9 397.7h0.7M56.5 400.7h0.7M70.7 397.1h0.7M55.1 400.7h0.7M62.7 402.1h0.7M58.9 399.7h0.7M61.3 408.5h0.7M64.8 408.4h0.7M63.8 386.4h0.7M54.3 405.9h0.7M68.4 408.4h0.7M63.7 388.9h0.7M61.6 405.0h0.7M70.9 399.5h0.7M61.3 396.3h0.7M69.1 408.4h0.7M55.0 410.9h0.7M59.5 391.2h0.7M56.1 396.7h0.7M57.9 397.1h0.7M64.8 405.0h0.7M61.7 390.4h0.7M62.0 397.0h0.7M55.1 403.1h0.7M56.8 389.3h0.7M71.6 408.9h0.7M71.3 402.9h0.7M62.0 401.4h0.7M57.3 407.4h0.7M65.4 399.8h0.7M54.8 401.2h0.7M72.2 412.6h0.7M68.4 399.4h0.7M64.7 406.1h0.7M65.0 409.7h0.7M60.7 385.0h0.7M52.0 395.3h0.7M57.2 406.9h0.7M69.4 402.0h0.7M66.7 402.6h0.7M64.9 398.6h0.7M62.0 410.7h0.7M62.7 401.7h0.7M70.0 409.2h0.7M62.1 403.9h0.7M59.0 403.0h0.7M65.6 402.0h0.7M64.9 404.7h0.7M51.5 396.0h0.7M64.4 398.4h0.7M59.3 400.3h0.7M72.1 400.3h0.7M60.8 398.5h0.7M58.1 405.6h0.7M59.2 408.7h0.7M68.6 406.2h0.7M69.2 401.4h0.7M55.3 401.5h0.7M67.2 390.7h0.7M58.0 410.0h0.7M66.2 411.9h0.7M67.4 402.5h0.7M66.2 408.2h0.7M63.9 400.5h0.7M65.6 399.7h0.7M76.1 396.4h0.7M56.5 392.5h0.7M69.3 399.0h0.7M64.9 400.4h0.7M65.4 391.4h0.7M64.5 397.8h0.7M69.5 406.6h0.7M57.8 394.9h0.7M66.9 410.8h0.7M67.9 400.9h0.7M69.6 384.7h0.7M61.4 394.9h0.7M58.9 406.1h0.7M65.5 404.1h0.7M63.4 406.6h0.7M68.0 397.8h0.7M68.7 395.2h0.7M72.9 392.4h0.7M62.6 394.1h0.7M64.3 411.7h0.7M71.1 404.8h0.7M61.1 408.6h0.7M49.7 396.4h0.7M68.9 401.7h0.7M76.5 397.0h0.7M57.4 400.4h0.7M55.2 403.2h0.7M70.4 397.1h0.7M61.8 393.1h0.7M67.9 408.1h0.7M67.0 403.8h0.7M69.0 401.1h0.7M67.7 408.0h0.7M70.6 405.8h0.7M64.5 407.2h0.7M56.3 389.0h0.7M72.2 403.0h0.7M58.8 397.7h0.7M63.3 402.5h0.7M60.2 409.3h0.7M67.4 389.6h0.7M57.9 402.4h0.7M65.4 398.9h0.7M64.1 403.2h0.7M58.3 402.4h0.7M75.6 397.2h0.7M58.9 406.9h0.7M70.9 409.7h0.7M60.9 401.5h0.7M65.1 400.5h0.7M66.1 410.0h0.7M66.8 401.9h0.7M67.8 402.7h0.7M70.2 408.7h0.7M74.7 388.7h0.7M64.6 399.7h0.7M60.4 402.6h0.7M66.8 405.9h0.7M63.4 392.2h0.7M66.9 406.5h0.7M74.9 408.9h0.7M64.2 393.5h0.7M77.9 397.0h0.7M65.1 407.5h0.7M66.6 411.8h0.7M58.8 396.9h0.7M65.0 392.9h0.7M60.9 412.2h0.7M65.6 401.2h0.7M61.2 402.4h0.7M63.9 394.0h0.7M68.1 392.5h0.7M70.6 399.5h0.7M52.4 390.5h0.7M65.5 395.6h0.7M73.3 412.2h0.7M74.9 408.6h0.7M71.0 397.5h0.7M70.7 398.8h0.7M63.8 391.9h0.7M64.4 405.0h0.7M63.8 393.8h0.7M68.7 408.8h0.7M63.6 407.8h0.7M69.1 394.7h0.7M63.9 388.2h0.7M58.7 405.2h0.7M59.5 404.9h0.7M65.9 386.7h0.7M64.1 402.9h0.7M60.4 390.1h0.7M63.1 395.5h0.7M64.6 387.6h0.7M60.2 404.4h0.7M59.4 408.4h0.7M59.7 400.9h0.7M70.8 405.9h0.7M62.4 390.7h0.7M55.8 411.0h0.7M66.7 402.4h0.7M70.6 403.1h0.7M60.3 401.2h0.7M63.6 401.9h0.7M77.0 406.3h0.7M65.5 400.1h0.7M60.5 394.6h0.7M54.3 398.6h0.7M56.2 388.2h0.7M59.2 386.8h0.7M71.2 411.3h0.7M67.5 383.1h0.7M64.2 394.5h0.7M55.0 400.1h0.7M70.0 405.3h0.7M56.5 397.0h0.7M60.1 410.6h0.7M63.6 394.7h0.7M59.3 387.3h0.7M59.7 408.7h0.7M54.1 403.4h0.7M63.5 408.1h0.7M58.1 408.8h0.7M55.6 401.8h0.7M63.0 402.9h0.7M58.9 408.4h0.7M59.1 397.7h0.7M67.8 403.0h0.7M60.1 411.3h0.7M66.7 409.7h0.7M63.1 411.6h0.7M61.6 393.6h0.7M64.0 391.5h0.7M70.6 407.5h0.7M55.3 403.3h0.7M68.5 399.3h0.7M66.2 397.6h0.7M63.7 401.4h0.7M66.6 394.7h0.7M58.1 404.5h0.7M61.4 405.9h0.7M61.4 392.2h0.7M67.9 404.0h0.7M67.9 399.5h0.7M62.2 411.5h0.7M66.7 401.6h0.7M64.5 406.5h0.7M60.0 404.1h0.7M59.0 388.1h0.7M65.1 402.7h0.7M67.4 406.2h0.7M67.7 407.9h0.7M58.5 411.1h0.7M78.0 397.7h0.7M57.4 407.2h0.7M68.8 409.6h0.7M72.0 391.6h0.7M66.0 405.5h0.7M70.6 395.3h0.7M64.2 399.2h0.7M63.2 400.9h0.7M63.2 388.7h0.7M63.8 402.5h0.7M62.0 375.3h0.7M60.4 397.1h0.7M68.9 400.6h0.7M59.0 405.6h0.7M69.8 401.1h0.7M67.2 396.0h0.7M55.7 408.3h0.7M72.6 399.7h0.7M61.3 388.5h0.7M75.3 393.0h0.7M59.0 400.5h0.7M70.4 402.4h0.7M63.9 402.2h0.7M68.5 401.7h0.7M64.8 401.4h0.7M58.2 412.1h0.7M60.4 392.1h0.7M61.7 402.2h0.7M68.3 390.9h0.7M57.4 403.3h0.7M66.0 393.7h0.7M58.1 403.3h0.7M63.3 389.8h0.7M58.5 409.9h0.7M72.4 397.2h0.7M60.4 406.7h0.7M57.5 406.2h0.7M70.4 404.0h0.7M65.7 400.8h0.7M69.3 395.8h0.7M72.3 401.8h0.7M62.3 389.7h0.7M61.7 403.8h0.7M70.5 389.8h0.7M63.3 396.8h0.7M57.7 402.0h0.7M60.0 408.6h0.7M49.9 407.6h0.7M54.1 387.3h0.7M66.7 399.4h0.7M64.7 394.7h0.7M58.5 396.5h0.7M63.7 395.7h0.7M61.8 395.5h0.7M65.2 393.4h0.7M53.1 382.2h0.7M63.9 402.7h0.7M69.0 396.4h0.7M58.0 390.8h0.7M68.0 397.3h0.7M69.2 401.4h0.7M62.6 388.0h0.7M60.5 407.9h0.7M60.8 407.1h0.7M55.4 409.6h0.7M78.5 410.4h0.7M65.7 392.7h0.7M61.3 397.1h0.7M65.0 386.8h0.7M59.5 408.0h0.7M64.8 407.6h0.7M68.5 393.4h0.7M57.0 405.5h0.7M64.2 402.6h0.7M59.8 409.7h0.7M66.6 410.6h0.7M62.2 407.2h0.7M63.7 394.9h0.7M63.6 389.5h0.7M63.1 403.3h0.7M67.6 394.1h0.7M57.1 396.5h0.7M53.2 397.1h0.7M77.7 403.1h0.7M60.0 396.9h0.7M73.2 393.2h0.7M63.4 401.4h0.7M60.2 396.6h0.7M55.2 395.7h0.7M70.8 412.7h0.7M62.5 407.3h0.7M66.4 402.8h0.7M63.3 411.1h0.7M67.0 400.3h0.7M62.8 409.0h0.7M60.9 396.6h0.7M62.6 398.3h0.7M70.6 404.7h0.7M63.5 398.0h0.7M71.4 405.3h0.7M74.9 408.8h0.7M62.9 397.9h0.7M62.5 403.4h0.7M68.1 405.7h0.7M72.2 390.6h0.7M64.1 391.3h0.7M58.6 397.5h0.7M60.6 394.7h0.7M56.1 410.6h0.7M62.3 409.3h0.7M58.2 384.5h0.7M60.9 408.6h0.7M61.1 405.0h0.7M58.4 412.5h0.7M66.3 409.9h0.7M62.6 411.6h0.7M64.4 398.3h0.7M60.7 402.4h0.7M59.3 393.0h0.7M64.7 407.3h0.7M62.5 408.3h0.7M72.3 392.5h0.7M65.3 394.7h0.7M60.6 403.3h0.7M51.6 406.6h0.7M68.4 406.1h0.7M62.1 410.2h0.7M71.5 405.7h0.7M54.7 400.8h0.7M62.5 389.8h0.7M63.7 407.7h0.7M62.6 400.6h0.7M71.7 397.4h0.7M59.1 402.3h0.7M69.8 406.5h0.7M64.4 398.3h0.7M70.4 408.7h0.7M55.0 404.5h0.7M67.2 397.3h0.7M57.3 399.7h0.7M54.9 406.2h0.7M61.3 388.7h0.7M63.9 410.9h0.7M57.4 399.3h0.7M73.5 403.4h0.7M61.1 403.4h0.7M68.1 394.4h0.7M63.5 389.7h0.7M55.7 390.4h0.7M68.4 404.3h0.7M67.8 411.1h0.7M64.2 403.8h0.7M66.1 405.5h0.7M58.4 399.9h0.7M63.2 402.3h0.7M60.1 401.0h0.7M65.5 403.4h0.7M67.1 408.2h0.7M66.9 409.3h0.7M68.4 412.5h0.7M67.3 397.3h0.7M76.1 410.5h0.7M70.5 407.5h0.7M64.2 393.4h0.7M66.3 399.3h0.7M61.9 385.9h0.7M72.1 393.2h0.7" stroke="#000" stroke-width="0.7" fill="none"/>
<path d="M58.9 362.0h0.6M58.6 351.9h0.6M61.9 355.3h0.6M71.0 350.9h0.6M65.4 354.8h0.6M54.5 347.6h0.6M61.5 357.7h0.6M65.2 358.2h0.6M63.3 352.0h0.6M65.9 348.2h0.6M53.9 352.8h0.6M53.4 351.5h0.6M58.0 351.3h0.6M62.7 349.6h0.6M60.1 343.5h0.6M64.0 349.1h0.6M65.7 335.9h0.6M57.6 356.6h0.6M63.6 355.7h0.6M52.9 356.5h0.6M64.0 348.4h0.6M68.0 354.7h0.6M63.1 352.0h0.6M66.7 355.7h0.6M70.7 358.1h0.6M58.8 353.5h0.6M69.2 352.5h0.6M65.6 358.5h0.6M61.8 339.3h0.6M63.9 356.4h0.6M63.9 349.9h0.6M71.2 354.1h0.6M58.8 350.1h0.6M65.4 347.6h0.6M56.2 368.5h0.6M71.9 362.1h0.6M72.2 359.0h0.6M51.6 363.1h0.6M71.4 358.3h0.6M49.7 363.4h0.6M72.3 351.7h0.6M63.9 360.3h0.6M62.4 362.4h0.6M63.6 359.7h0.6M63.6 345.0h0.6M56.3 376.5h0.6M64.9 363.9h0.6M70.7 366.6h0.6M66.8 351.0h0.6M63.1 342.0h0.6M61.7 361.2h0.6M48.3 356.3h0.6M68.6 364.0h0.6M56.7 350.6h0.6M50.3 348.1h0.6M66.6 369.1h0.6M55.2 364.4h0.6M65.9 351.6h0.6M77.9 337.9h0.6M62.5 356.5h0.6M77.5 367.2h0.6M78.4 355.9h0.6M69.7 364.3h0.6M66.5 357.4h0.6M61.8 352.2h0.6M54.6 368.3h0.6M60.0 340.9h0.6M64.8 354.8h0.6M64.2 367.3h0.6M62.3 353.2h0.6M57.9 354.8h0.6M60.0 356.4h0.6M84.3 357.7h0.6M57.2 368.1h0.6M68.9 360.6h0.6M67.9 360.6h0.6M67.6 364.6h0.6M69.9 364.2h0.6M59.6 355.0h0.6M58.0 361.5h0.6M68.7 351.8h0.6M67.0 372.9h0.6M71.4 347.4h0.6M62.4 359.3h0.6M62.8 357.6h0.6M71.0 357.2h0.6M55.5 359.9h0.6M62.3 355.8h0.6M59.1 345.6h0.6M54.5 352.6h0.6M55.7 336.5h0.6M70.8 347.1h0.6M58.1 358.6h0.6M57.8 359.5h0.6M59.7 357.1h0.6M63.7 355.0h0.6M50.5 345.0h0.6M62.7 364.6h0.6M59.3 358.6h0.6M64.1 358.3h0.6M69.8 344.8h0.6M64.9 353.8h0.6M60.9 349.2h0.6M57.6 348.0h0.6M55.5 372.1h0.6M74.6 355.1h0.6M68.1 348.3h0.6M64.0 364.8h0.6M62.7 348.2h0.6M61.4 348.2h0.6M53.5 353.4h0.6M60.3 349.5h0.6M57.0 348.7h0.6M64.6 364.5h0.6M61.6 370.3h0.6M52.0 356.9h0.6M55.1 353.9h0.6M63.7 358.8h0.6M70.7 351.2h0.6M54.5 353.7h0.6M65.0 350.2h0.6M69.1 366.5h0.6M53.3 357.5h0.6M69.9 341.9h0.6M64.4 353.5h0.6M53.3 364.0h0.6M64.5 351.7h0.6M66.0 359.4h0.6M68.2 359.0h0.6M65.8 347.0h0.6M60.1 355.9h0.6M60.4 347.8h0.6M50.6 356.7h0.6M63.2 351.0h0.6M60.2 348.9h0.6M57.9 354.3h0.6M58.6 359.6h0.6M62.0 355.9h0.6M65.8 363.7h0.6M67.1 356.6h0.6M61.9 349.5h0.6M60.7 359.7h0.6M64.5 352.4h0.6M53.9 344.5h0.6M65.2 362.0h0.6M65.6 345.6h0.6M61.5 356.5h0.6M56.7 357.4h0.6M61.6 349.3h0.6M54.5 360.5h0.6M65.4 348.9h0.6M56.1 361.1h0.6M67.1 352.9h0.6M73.9 353.0h0.6M55.8 362.4h0.6M61.7 357.4h0.6M55.7 404.2h0.6M68.3 392.8h0.6M63.9 402.3h0.6M65.2 404.7h0.6M69.8 396.7h0.6M61.1 391.1h0.6M69.6 405.3h0.6M63.7 402.8h0.6M66.4 397.9h0.6M66.4 388.2h0.6M47.2 392.3h0.6M70.6 396.3h0.6M59.6 386.4h0.6M63.1 398.4h0.6M59.2 385.9h0.6M65.2 403.8h0.6M72.6 404.6h0.6M75.4 410.8h0.6M63.2 390.5h0.6M67.3 408.7h0.6M52.3 388.8h0.6M69.2 395.0h0.6M75.0 401.9h0.6M59.9 388.0h0.6M68.5 384.5h0.6M54.2 388.1h0.6M62.3 396.5h0.6M69.3 411.2h0.6M62.4 410.2h0.6M62.4 388.5h0.6M78.7 393.8h0.6M64.0 388.7h0.6M69.1 401.7h0.6M61.8 396.4h0.6M59.7 393.5h0.6M53.4 410.9h0.6M70.7 387.4h0.6M55.2 403.7h0.6M81.0 398.1h0.6M61.6 397.7h0.6M65.9 398.4h0.6M72.2 408.9h0.6M62.2 395.0h0.6M86.4 382.5h0.6M52.2 378.7h0.6M66.7 390.3h0.6M72.0 381.0h0.6M63.0 396.5h0.6M55.9 410.1h0.6M61.0 404.1h0.6M60.0 401.3h0.6M60.6 400.7h0.6M63.2 393.8h0.6M67.3 398.3h0.6M56.7 390.5h0.6M67.3 412.0h0.6M54.1 396.2h0.6M67.4 409.4h0.6M69.4 389.3h0.6M64.3 408.1h0.6M65.8 398.0h0.6M55.1 401.5h0.6M63.5 400.3h0.6M75.3 410.7h0.6M58.0 402.1h0.6M61.7 400.9h0.6M76.3 408.3h0.6M64.3 394.0h0.6M62.8 403.3h0.6M60.2 409.9h0.6M64.2 389.3h0.6M79.4 373.8h0.6M62.0 398.9h0.6M71.4 410.1h0.6M66.4 401.0h0.6M71.7 399.8h0.6M54.5 395.9h0.6M69.0 405.5h0.6M55.7 410.8h0.6M66.3 386.4h0.6M67.5 409.1h0.6M68.0 397.2h0.6M58.0 410.1h0.6M65.7 399.9h0.6M61.0 390.7h0.6M49.9 396.9h0.6M72.3 406.9h0.6M62.3 390.9h0.6M71.4 412.5h0.6M61.1 389.0h0.6M63.5 378.1h0.6M66.1 393.4h0.6M69.3 395.5h0.6M73.5 396.8h0.6M79.4 396.8h0.6M65.4 391.5h0.6M54.4 403.1h0.6M66.6 391.2h0.6M68.2 396.3h0.6M59.8 399.3h0.6M67.0 406.6h0.6M73.3 403.4h0.6M58.5 393.8h0.6M66.8 389.2h0.6M62.7 396.5h0.6M63.3 401.6h0.6M70.7 409.1h0.6M55.9 409.4h0.6M73.8 387.8h0.6M83.0 394.9h0.6M64.5 392.8h0.6M59.7 409.7h0.6M65.9 396.6h0.6M72.7 391.5h0.6M57.6 394.9h0.6M58.4 406.2h0.6M62.3 390.5h0.6M60.5 382.1h0.6M65.2 400.9h0.6M68.6 397.9h0.6M67.0 391.6h0.6M64.2 401.4h0.6M54.9 405.3h0.6M65.1 400.5h0.6M64.0 393.1h0.6M57.6 405.3h0.6M62.4 392.9h0.6M58.6 408.4h0.6M64.6 409.5h0.6M63.9 389.3h0.6M70.5 402.9h0.6M59.1 397.2h0.6M56.7 407.5h0.6M60.9 404.3h0.6M66.0 397.7h0.6M66.8 397.8h0.6M55.1 396.2h0.6M55.1 406.8h0.6M68.9 394.7h0.6M68.7 402.2h0.6M71.3 391.6h0.6M64.2 391.1h0.6M58.9 412.3h0.6M48.9 391.8h0.6M67.7 407.0h0.6M58.1 381.7h0.6M51.1 403.3h0.6M72.3 408.2h0.6M58.5 412.2h0.6M62.6 405.5h0.6M60.1 380.7h0.6M61.6 401.7h0.6M66.1 393.5h0.6M62.3 389.8h0.6M62.2 400.8h0.6M49.0 404.7h0.6M67.2 389.6h0.6M64.5 399.9h0.6M56.5 406.5h0.6M78.3 406.1h0.6M69.8 409.6h0.6M63.0 408.7h0.6M57.9 401.6h0.6M69.3 411.7h0.6M61.8 397.4h0.6M67.5 399.3h0.6M65.0 407.2h0.6M58.3 407.9h0.6M66.8 397.6h0.6M54.6 394.3h0.6M63.7 408.4h0.6M49.3 406.4h0.6M65.4 389.9h0.6M70.4 403.6h0.6M67.3 391.2h0.6M55.7 408.1h0.6M74.5 403.3h0.6M62.6 396.0h0.6M51.2 408.8h0.6M63.3 411.0h0.6M58.6 409.4h0.6M58.7 405.2h0.6M74.3 393.7h0.6M70.8 399.9h0.6M57.0 401.8h0.6M68.8 393.6h0.6M62.0 394.9h0.6M58.3 398.1h0.6M70.1 395.6h0.6M73.3 396.6h0.6M58.9 409.6h0.6M74.5 394.2h0.6M68.4 389.6h0.6M61.0 396.7h0.6M69.3 388.8h0.6M60.2 393.8h0.6M64.7 389.0h0.6M65.6 386.6h0.6M70.2 388.3h0.6M73.3 392.5h0.6M55.9 404.2h0.6M79.1 405.3h0.6M68.9 389.4h0.6M50.8 403.4h0.6M71.5 401.2h0.6M64.0 412.3h0.6M57.8 409.8h0.6M70.2 394.4h0.6M64.9 401.0h0.6M68.3 391.3h0.6M62.3 400.8h0.6M64.2 400.2h0.6M65.9 398.3h0.6M60.3 409.2h0.6M59.2 397.2h0.6M57.5 389.8h0.6M67.3 399.6h0.6M63.0 404.0h0.6M62.7 406.0h0.6M77.4 403.1h0.6M69.2 385.2h0.6M73.8 401.9h0.6M70.3 389.8h0.6M57.7 394.2h0.6M68.1 390.0h0.6M58.8 408.4h0.6M59.2 401.0h0.6M57.4 384.9h0.6" stroke="#777" stroke-width="0.6" fill="none"/>
<path d="M69.6 400.2h0.6M62.9 407.7h0.6M74.0 407.1h0.6M67.5 393.1h0.6M69.6 402.1h0.6M69.1 397.0h0.6M65.1 395.9h0.6M69.6 397.6h0.6M78.2 399.1h0.6M72.2 397.8h0.6M69.1 394.3h0.6M67.6 390.7h0.6M59.8 410.2h0.6M64.8 404.0h0.6M69.4 397.1h0.6M73.6 397.2h0.6M72.1 398.5h0.6M74.8 407.6h0.6M70.3 408.5h0.6M72.5 411.7h0.6M69.4 390.4h0.6M71.0 402.6h0.6M68.2 399.6h0.6M68.7 392.4h0.6M78.4 395.7h0.6M64.7 390.1h0.6M65.9 400.7h0.6M77.2 405.1h0.6M66.4 392.5h0.6M64.5 400.4h0.6M74.2 397.7h0.6M70.8 386.1h0.6M75.3 400.3h0.6M73.3 407.8h0.6M65.1 401.4h0.6M70.9 395.8h0.6M73.4 400.1h0.6M70.8 412.2h0.6M69.2 408.1h0.6M66.3 402.0h0.6M75.3 386.1h0.6M72.6 399.1h0.6M75.3 402.2h0.6M69.6 392.2h0.6M84.4 395.9h0.6M68.4 396.0h0.6M68.5 402.5h0.6M63.4 408.2h0.6M68.7 405.1h0.6M59.7 397.4h0.6M68.5 398.3h0.6M66.7 403.1h0.6M72.0 394.3h0.6M60.4 406.0h0.6M68.4 408.3h0.6M74.2 400.3h0.6M63.0 398.5h0.6M66.4 409.5h0.6M61.7 407.3h0.6M62.5 397.1h0.6M63.1 396.2h0.6M67.8 403.5h0.6M67.1 405.7h0.6M78.5 402.1h0.6M64.3 399.8h0.6M69.5 398.5h0.6M75.6 408.9h0.6M79.8 404.6h0.6M57.0 400.1h0.6M73.2 395.5h0.6M67.0 407.2h0.6M70.7 393.3h0.6M67.1 379.8h0.6M70.0 392.6h0.6M69.7 392.8h0.6M65.4 397.4h0.6M83.6 392.8h0.6M64.2 397.3h0.6M75.1 406.5h0.6M73.4 398.8h0.6M70.6 395.7h0.6M69.1 395.4h0.6M62.9 394.2h0.6M79.4 403.7h0.6M66.3 400.2h0.6M67.8 409.3h0.6M69.8 396.6h0.6M73.3 403.2h0.6M66.6 395.7h0.6M70.7 389.8h0.6M65.5 407.9h0.6M74.2 408.6h0.6M67.8 396.9h0.6M68.6 397.7h0.6M76.2 399.4h0.6M76.6 396.1h0.6M71.8 412.1h0.6M66.3 396.5h0.6M67.0 389.9h0.6M68.5 396.6h0.6M80.7 397.7h0.6M59.5 407.4h0.6M74.6 400.7h0.6M71.4 405.9h0.6M67.2 401.3h0.6M70.6 412.3h0.6M76.8 402.1h0.6M63.4 407.0h0.6M69.7 409.0h0.6M70.2 402.2h0.6M73.1 396.0h0.6M65.7 407.4h0.6M73.3 406.6h0.6M76.6 391.8h0.6M74.6 386.9h0.6M70.2 403.3h0.6M75.0 408.4h0.6M65.4 399.1h0.6M69.2 396.2h0.6M66.0 396.4h0.6M75.5 410.3h0.6M73.6 412.5h0.6M70.4 393.5h0.6M66.8 402.4h0.6M74.9 409.3h0.6M65.6 407.5h0.6M67.3 405.1h0.6M74.4 411.1h0.6M67.4 402.6h0.6M72.0 398.1h0.6M70.4 405.1h0.6M61.9 396.6h0.6M81.2 404.1h0.6M67.2 388.4h0.6M65.3 404.5h0.6M73.2 404.0h0.6M72.8 396.8h0.6M77.7 393.3h0.6M72.4 399.2h0.6M61.6 407.2h0.6M68.6 405.9h0.6M76.1 402.1h0.6M66.7 399.5h0.6M69.6 410.9h0.6M74.1 411.9h0.6M73.6 395.7h0.6M74.4 407.6h0.6M69.3 404.2h0.6M68.4 392.3h0.6M69.5 406.2h0.6M68.2 385.6h0.6M66.0 408.5h0.6M71.0 408.7h0.6M66.3 398.1h0.6M65.1 395.6h0.6M72.4 401.9h0.6M67.6 403.0h0.6M63.6 398.3h0.6M62.6 390.7h0.6M63.3 393.4h0.6M77.6 410.4h0.6M76.0 397.0h0.6M73.0 393.2h0.6M67.3 402.7h0.6M62.2 402.3h0.6M72.9 386.7h0.6M58.0 399.1h0.6M69.3 402.0h0.6M64.4 404.9h0.6M70.5 395.9h0.6M77.9 402.8h0.6M67.5 399.5h0.6M61.5 399.4h0.6M72.7 402.4h0.6M63.8 395.1h0.6M60.9 391.5h0.6M70.5 403.0h0.6M65.5 399.5h0.6M66.0 405.3h0.6M73.0 397.1h0.6M67.7 392.5h0.6M69.9 406.9h0.6M72.7 411.2h0.6M68.3 394.7h0.6M75.0 407.3h0.6M66.7 408.6h0.6M69.9 400.7h0.6M78.9 404.7h0.6M71.4 398.8h0.6M70.9 408.3h0.6M72.1 395.8h0.6M72.1 400.2h0.6M71.4 399.7h0.6M59.3 389.8h0.6M68.0 385.7h0.6M73.3 397.8h0.6M71.5 385.5h0.6M71.1 407.8h0.6M70.8 391.9h0.6M74.6 397.3h0.6M67.1 402.4h0.6M72.1 392.4h0.6M69.9 401.4h0.6M76.9 409.9h0.6M82.4 396.4h0.6M65.5 403.5h0.6M77.8 394.0h0.6M68.2 395.8h0.6M72.5 403.8h0.6M69.7 405.6h0.6M66.1 398.4h0.6M69.7 401.4h0.6M76.3 401.5h0.6M76.3 402.7h0.6M75.6 402.3h0.6M65.4 395.1h0.6M79.0 398.8h0.6M82.1 393.3h0.6M65.8 407.5h0.6M62.5 407.3h0.6M71.8 405.4h0.6M64.0 403.7h0.6M74.5 400.6h0.6M75.0 401.2h0.6M71.6 398.8h0.6M63.3 399.9h0.6M72.4 395.7h0.6M60.4 390.2h0.6M76.4 399.4h0.6M66.2 409.6h0.6M69.1 390.5h0.6M67.8 394.9h0.6M69.0 394.6h0.6M70.3 404.2h0.6M67.1 399.6h0.6M69.2 406.8h0.6M66.4 406.2h0.6M76.0 399.6h0.6M65.2 398.8h0.6M61.2 397.2h0.6M64.1 399.8h0.6M68.1 404.6h0.6M70.5 403.9h0.6M69.7 403.0h0.6M64.4 405.6h0.6M76.3 408.8h0.6M63.3 403.9h0.6M61.9 406.3h0.6M68.9 397.8h0.6M66.3 399.3h0.6M69.9 394.3h0.6M70.2 402.8h0.6M72.5 400.7h0.6M74.9 403.3h0.6M63.1 405.3h0.6M72.7 382.4h0.6M69.1 403.7h0.6M70.1 401.7h0.6M69.2 410.7h0.6M71.8 399.0h0.6M65.7 397.3h0.6M71.5 402.0h0.6M71.4 410.5h0.6M75.5 403.9h0.6M70.1 400.6h0.6M68.8 408.0h0.6M63.7 393.7h0.6M67.7 394.3h0.6M66.3 409.4h0.6M58.9 405.0h0.6M63.5 399.3h0.6M67.1 394.1h0.6M62.6 401.5h0.6M55.4 386.2h0.6M68.0 408.7h0.6M79.1 399.0h0.6M66.0 399.0h0.6M72.2 407.5h0.6M65.2 404.3h0.6M69.8 409.0h0.6M67.9 399.5h0.6M65.7 391.7h0.6M71.3 406.0h0.6M75.5 402.9h0.6M67.7 394.6h0.6M64.2 395.9h0.6M71.6 401.6h0.6M58.6 400.3h0.6M68.5 393.7h0.6M69.8 404.7h0.6M64.8 391.5h0.6M68.3 402.8h0.6M68.7 411.8h0.6M70.7 394.0h0.6M73.8 396.5h0.6M73.3 401.7h0.6M76.0 394.0h0.6M73.5 404.0h0.6M65.5 405.9h0.6M81.1 403.5h0.6M66.2 399.9h0.6M76.4 402.8h0.6M77.3 396.4h0.6M76.4 390.0h0.6M69.1 398.9h0.6M67.5 409.6h0.6" stroke="#444" stroke-width="0.6" fill="none"/>
<path d="M59.4 381.5h0.55M74.0 386.3h0.55M60.5 370.7h0.55M51.0 381.8h0.55M68.2 389.1h0.55M64.4 399.6h0.55M67.5 354.9h0.55M57.7 386.0h0.55M60.6 386.4h0.55M78.2 370.4h0.55M76.1 377.2h0.55M54.2 379.0h0.55M68.3 372.2h0.55M72.4 369.3h0.55M61.8 387.2h0.55M61.7 372.4h0.55M62.9 384.6h0.55M73.3 391.6h0.55M74.1 377.7h0.55M53.1 377.6h0.55M60.5 368.0h0.55M59.9 377.3h0.55M63.3 387.2h0.55M57.5 389.5h0.55M63.2 385.4h0.55M70.4 365.6h0.55M72.5 370.8h0.55M65.3 388.9h0.55M68.5 362.3h0.55M63.9 389.4h0.55M62.2 377.2h0.55M63.4 394.4h0.55M59.7 368.6h0.55M56.4 372.7h0.55M61.6 381.5h0.55M62.5 360.8h0.55M53.6 384.8h0.55M67.3 364.4h0.55M68.6 353.7h0.55M76.9 383.9h0.55M53.1 383.1h0.55M62.8 373.5h0.55M60.8 375.8h0.55M62.4 369.0h0.55M59.6 383.6h0.55M66.1 364.7h0.55M60.0 393.7h0.55M67.3 394.5h0.55M54.9 367.6h0.55M50.0 358.6h0.55M60.7 367.5h0.55M56.5 371.0h0.55M61.9 386.3h0.55M66.3 360.4h0.55M71.9 374.7h0.55M57.0 377.7h0.55M60.6 364.1h0.55M72.3 372.2h0.55M59.4 383.4h0.55M73.0 382.9h0.55M57.6 382.4h0.55M69.6 381.8h0.55M66.9 373.2h0.55M62.6 361.1h0.55M58.7 366.6h0.55M63.0 393.0h0.55M49.5 364.8h0.55M57.4 377.1h0.55M70.0 370.2h0.55M58.3 390.2h0.55" stroke="#777" stroke-width="0.55" fill="none"/>
<path d="M83.3 368.3h0.55M87.5 353.1h0.55M82.0 354.1h0.55M73.5 363.6h0.55M83.9 346.7h0.55M73.0 369.3h0.55M81.5 370.0h0.55M77.2 352.3h0.55M87.0 369.2h0.55M54.4 372.4h0.55M73.1 370.0h0.55M94.2 358.6h0.55M71.2 365.1h0.55M80.8 368.8h0.55M67.3 365.0h0.55M88.1 370.4h0.55M85.7 376.4h0.55M72.5 376.7h0.55M81.9 350.0h0.55M77.3 365.3h0.55M83.0 378.3h0.55M81.7 355.9h0.55M99.7 358.0h0.55M72.6 373.2h0.55M76.2 352.5h0.55M70.4 376.3h0.55M70.4 363.2h0.55M75.9 359.7h0.55M72.6 363.8h0.55M85.5 374.7h0.55M76.8 348.0h0.55M66.6 362.1h0.55M57.6 378.0h0.55M80.3 363.5h0.55M67.4 354.3h0.55M80.1 403.2h0.55M86.8 402.5h0.55M105.3 371.9h0.55M90.3 410.2h0.55M84.7 396.6h0.55M92.5 380.3h0.55M107.8 389.7h0.55M123.1 408.9h0.55M118.7 406.5h0.55M109.1 411.7h0.55M103.1 396.7h0.55M111.2 384.3h0.55M98.1 386.6h0.55M89.6 383.6h0.55M78.1 397.3h0.55M97.4 405.1h0.55M93.2 402.7h0.55M108.7 386.7h0.55M57.7 339.8h0.55M89.4 342.1h0.55M105.5 338.6h0.55M110.2 331.2h0.55M116.0 352.8h0.55M86.2 332.2h0.55M68.5 377.3h0.55M117.0 359.3h0.55M87.1 352.1h0.55M69.7 330.0h0.55M97.7 361.1h0.55" stroke="#aaa" stroke-width="0.55" fill="none"/>
<line x1="45.9" y1="413.5" x2="45.9" y2="415.0" stroke="#555" stroke-width="0.5"/>
<text x="46.4" y="418.6" text-anchor="middle" font-size="3.6" fill="#222" font-weight="normal" style="stroke:none">10</text>
<line x1="44.4" y1="413.5" x2="45.9" y2="413.5" stroke="#555" stroke-width="0.5"/>
<text x="42.5" y="414.3" text-anchor="middle" font-size="3.6" transform="rotate(-90 42.5 413.0)" fill="#222" font-weight="normal" style="stroke:none">10</text>
<line x1="67.6" y1="413.5" x2="67.6" y2="415.0" stroke="#555" stroke-width="0.5"/>
<text x="68.1" y="418.6" text-anchor="middle" font-size="3.6" fill="#222" font-weight="normal" style="stroke:none">10</text>
<line x1="44.4" y1="391.1" x2="45.9" y2="391.1" stroke="#555" stroke-width="0.5"/>
<text x="42.5" y="391.9" text-anchor="middle" font-size="3.6" transform="rotate(-90 42.5 390.6)" fill="#222" font-weight="normal" style="stroke:none">10</text>
<line x1="89.2" y1="413.5" x2="89.2" y2="415.0" stroke="#555" stroke-width="0.5"/>
<text x="89.8" y="418.6" text-anchor="middle" font-size="3.6" fill="#222" font-weight="normal" style="stroke:none">10</text>
<line x1="44.4" y1="368.6" x2="45.9" y2="368.6" stroke="#555" stroke-width="0.5"/>
<text x="42.5" y="369.4" text-anchor="middle" font-size="3.6" transform="rotate(-90 42.5 368.1)" fill="#222" font-weight="normal" style="stroke:none">10</text>
<line x1="110.9" y1="413.5" x2="110.9" y2="415.0" stroke="#555" stroke-width="0.5"/>
<text x="111.4" y="418.6" text-anchor="middle" font-size="3.6" fill="#222" font-weight="normal" style="stroke:none">10</text>
<line x1="44.4" y1="346.2" x2="45.9" y2="346.2" stroke="#555" stroke-width="0.5"/>
<text x="42.5" y="347.0" text-anchor="middle" font-size="3.6" transform="rotate(-90 42.5 345.7)" fill="#222" font-weight="normal" style="stroke:none">10</text>
<line x1="132.6" y1="413.5" x2="132.6" y2="415.0" stroke="#555" stroke-width="0.5"/>
<text x="133.1" y="418.6" text-anchor="middle" font-size="3.6" fill="#222" font-weight="normal" style="stroke:none">10</text>
<line x1="44.4" y1="323.8" x2="45.9" y2="323.8" stroke="#555" stroke-width="0.5"/>
<text x="42.5" y="324.6" text-anchor="middle" font-size="3.6" transform="rotate(-90 42.5 323.3)" fill="#222" font-weight="normal" style="stroke:none">10</text>
<text x="74.0" y="320.9" text-anchor="start" font-size="11">Day 0</text>
<text x="104.0" y="341.2" text-anchor="start" font-size="11">1.2%</text>
<rect x="154.8" y="323.6" width="87.0" height="89.69999999999999" fill="none" stroke="#3a3a3a" stroke-width="0.6"/>
<line x1="182.0" y1="323.6" x2="182.0" y2="413.3" stroke="#3a3a3a" stroke-width="0.55"/>
<line x1="154.8" y1="384.7" x2="241.8" y2="384.7" stroke="#3a3a3a" stroke-width="0.55"/>
<clipPath id="cl154"><rect x="154.8" y="323.6" width="87.0" height="89.69999999999999"/></clipPath>
<ellipse cx="173" cy="402.5" rx="8.5" ry="12.5" fill="url(#rg)" clip-path="url(#cl154)"/>
<ellipse cx="173" cy="350.5" rx="10.5" ry="5.5" fill="url(#rg)" clip-path="url(#cl154)"/>
<path d="M172.7 347.3h0.8M175.6 350.8h0.8M175.2 349.8h0.8M170.9 353.3h0.8M177.8 347.4h0.8M167.3 353.0h0.8M173.5 350.7h0.8M167.9 353.2h0.8M172.8 351.1h0.8M173.6 349.2h0.8M173.7 350.9h0.8M175.0 351.5h0.8M166.6 348.7h0.8M170.9 353.6h0.8M169.3 353.5h0.8M176.5 352.8h0.8M181.5 350.5h0.8M173.4 353.7h0.8M173.7 353.1h0.8M171.5 354.2h0.8M173.5 345.6h0.8M176.6 350.0h0.8M168.3 349.8h0.8M170.8 353.5h0.8M173.4 350.4h0.8M171.9 348.2h0.8M169.3 349.3h0.8M171.0 347.5h0.8M170.3 353.1h0.8M173.9 350.5h0.8M173.5 349.9h0.8M167.0 352.8h0.8M181.5 351.9h0.8M174.9 356.9h0.8M166.9 351.9h0.8M170.6 349.8h0.8M165.0 350.3h0.8M173.7 346.4h0.8M171.1 349.3h0.8M167.8 352.2h0.8M178.9 351.6h0.8M176.3 352.5h0.8M171.7 352.0h0.8M177.6 349.4h0.8M171.4 347.0h0.8M164.2 348.4h0.8M175.8 351.5h0.8M173.1 353.9h0.8M164.6 354.1h0.8M172.4 352.5h0.8M177.8 348.4h0.8M168.3 351.6h0.8M171.8 349.0h0.8M171.5 348.7h0.8M172.6 349.5h0.8M179.2 347.8h0.8M174.4 350.7h0.8M178.7 348.0h0.8M170.0 355.0h0.8M169.2 349.6h0.8M170.3 348.0h0.8M177.1 354.4h0.8M171.4 348.6h0.8M166.3 352.2h0.8M169.8 352.0h0.8M161.8 349.4h0.8M174.6 351.6h0.8M159.9 351.3h0.8M172.5 350.5h0.8M170.6 349.4h0.8M172.6 351.9h0.8M158.7 350.5h0.8M175.9 350.0h0.8M177.2 348.1h0.8M180.1 353.0h0.8M170.3 357.6h0.8M178.1 354.6h0.8M167.0 350.2h0.8M174.0 353.2h0.8M172.3 347.2h0.8M177.2 350.1h0.8M173.9 349.7h0.8M171.5 347.0h0.8M174.8 348.9h0.8M164.5 351.6h0.8M171.9 353.0h0.8M175.5 347.4h0.8M171.3 350.5h0.8M172.4 347.8h0.8M172.3 353.1h0.8M177.2 354.3h0.8M175.2 344.0h0.8M170.9 349.1h0.8M159.8 354.5h0.8M175.8 350.5h0.8M173.5 351.8h0.8M171.1 354.1h0.8M179.7 352.6h0.8M169.7 351.2h0.8M176.1 352.4h0.8M169.1 353.0h0.8M175.1 352.0h0.8M170.2 350.5h0.8M164.0 350.5h0.8M170.1 349.8h0.8M170.8 349.7h0.8M172.4 350.8h0.8M169.4 350.2h0.8M171.6 351.8h0.8M173.9 349.6h0.8M168.5 346.3h0.8M166.7 351.6h0.8M168.1 354.7h0.8M171.3 349.5h0.8M171.3 349.1h0.8M169.3 350.7h0.8M165.9 350.9h0.8M171.6 348.2h0.8M176.3 351.5h0.8M176.6 348.8h0.8M166.8 347.5h0.8M165.4 345.7h0.8M178.6 349.3h0.8M172.8 349.2h0.8M171.4 354.6h0.8M164.7 348.0h0.8M172.6 348.2h0.8M174.9 353.9h0.8M175.8 352.5h0.8M171.3 353.1h0.8M168.6 347.5h0.8M170.9 349.9h0.8M177.2 348.0h0.8M176.8 348.5h0.8M166.7 346.2h0.8M171.9 346.8h0.8M172.9 350.6h0.8M170.3 345.6h0.8M169.8 351.7h0.8M164.5 352.3h0.8M172.1 349.1h0.8M172.9 352.2h0.8M171.9 348.5h0.8M175.3 348.8h0.8M173.5 353.0h0.8M177.5 354.6h0.8M176.3 350.9h0.8M171.1 351.0h0.8M174.2 358.2h0.8M174.8 348.4h0.8M178.4 346.4h0.8M176.2 347.2h0.8M167.4 349.2h0.8M170.8 347.1h0.8M174.6 350.2h0.8M177.7 347.9h0.8M164.4 352.3h0.8M171.1 353.0h0.8M162.2 347.3h0.8M172.4 355.5h0.8M166.8 345.6h0.8M170.1 354.2h0.8M178.7 347.0h0.8M169.4 345.8h0.8M168.5 348.0h0.8M173.8 353.4h0.8M182.0 349.6h0.8M175.4 351.1h0.8M172.5 355.5h0.8M175.0 354.5h0.8M173.3 352.7h0.8M174.1 350.3h0.8M169.1 349.5h0.8M172.1 349.5h0.8M170.6 348.7h0.8M175.6 349.9h0.8M171.5 350.0h0.8M177.5 349.1h0.8M177.9 348.3h0.8M178.4 352.1h0.8M169.9 351.7h0.8M176.8 348.1h0.8M171.1 351.3h0.8M171.1 349.8h0.8M172.1 351.3h0.8M175.3 354.3h0.8M170.7 358.1h0.8M170.6 355.1h0.8M171.5 346.8h0.8M170.2 349.6h0.8M176.5 345.3h0.8M169.3 350.2h0.8M174.8 351.5h0.8M175.6 350.1h0.8M171.0 353.6h0.8M179.2 351.5h0.8M172.7 348.3h0.8M180.9 351.5h0.8M174.6 346.4h0.8M174.6 356.8h0.8M171.3 350.0h0.8M178.5 350.0h0.8M175.6 355.5h0.8M167.1 348.4h0.8M174.9 350.8h0.8M172.2 350.1h0.8M172.6 351.4h0.8M170.0 349.8h0.8M173.0 347.7h0.8M173.9 344.9h0.8M174.7 350.2h0.8M167.1 354.0h0.8M167.1 355.8h0.8M169.0 353.6h0.8M171.7 354.7h0.8M171.1 353.2h0.8M170.7 345.7h0.8M173.6 351.7h0.8M173.7 354.8h0.8M168.9 346.8h0.8M173.1 348.7h0.8M171.6 350.5h0.8M168.6 353.3h0.8M171.5 355.1h0.8M173.1 353.2h0.8M170.8 348.8h0.8M169.8 348.2h0.8M173.9 350.9h0.8M167.5 346.5h0.8M168.4 345.8h0.8M168.3 346.6h0.8M175.0 347.5h0.8M169.6 350.2h0.8M172.2 351.6h0.8M175.2 352.2h0.8M170.6 353.7h0.8M173.6 348.7h0.8M178.3 347.5h0.8M174.0 353.7h0.8M172.5 351.4h0.8M172.5 352.2h0.8M173.0 350.5h0.8M175.0 345.6h0.8M173.1 349.7h0.8M180.2 351.3h0.8M169.3 352.2h0.8M170.4 347.5h0.8M170.9 351.8h0.8M177.0 353.2h0.8M173.0 350.1h0.8M172.9 353.6h0.8M171.5 353.5h0.8M168.7 350.5h0.8M175.2 352.3h0.8M172.9 349.2h0.8M164.6 349.4h0.8M168.5 349.5h0.8M178.6 348.5h0.8M175.5 350.5h0.8M167.4 350.8h0.8M175.1 347.5h0.8M167.2 349.5h0.8M175.0 349.0h0.8M173.8 351.7h0.8M172.1 351.7h0.8M177.3 350.0h0.8M173.4 347.8h0.8M169.0 350.3h0.8M175.4 348.8h0.8M166.3 352.9h0.8M181.9 343.9h0.8M167.6 350.8h0.8M174.0 348.1h0.8M173.4 353.3h0.8M170.9 352.4h0.8M172.6 348.1h0.8M169.5 348.9h0.8M177.5 353.5h0.8M173.0 346.5h0.8M170.0 349.5h0.8M164.1 350.5h0.8M173.2 347.1h0.8M170.3 349.3h0.8M179.6 352.2h0.8M175.2 350.7h0.8M166.7 352.9h0.8M169.2 345.6h0.8M175.0 349.6h0.8M172.0 351.8h0.8M171.1 351.6h0.8M177.3 349.7h0.8M170.6 350.6h0.8M174.7 349.5h0.8M172.4 348.8h0.8M171.7 351.9h0.8M168.6 350.0h0.8M166.0 348.7h0.8M172.3 351.9h0.8M167.8 350.2h0.8M168.2 351.3h0.8M173.1 351.6h0.8M171.1 346.9h0.8M169.7 347.1h0.8M169.2 350.4h0.8M176.4 348.9h0.8M168.8 351.0h0.8M163.5 355.6h0.8M165.7 353.1h0.8M176.0 353.0h0.8M171.6 352.4h0.8M170.6 353.0h0.8M169.3 348.4h0.8M173.6 349.3h0.8M174.8 348.3h0.8M173.1 348.0h0.8M171.6 356.0h0.8M167.6 347.4h0.8M165.5 349.9h0.8M178.6 349.3h0.8M175.8 350.0h0.8M169.4 355.6h0.8M176.4 345.8h0.8M168.0 351.6h0.8M174.7 349.9h0.8M173.3 351.9h0.8M170.6 353.1h0.8M168.5 352.4h0.8M175.7 351.0h0.8M170.6 350.5h0.8M162.9 351.2h0.8M166.2 345.3h0.8M175.1 348.2h0.8M173.5 350.6h0.8M164.8 348.2h0.8M170.9 351.7h0.8M172.3 347.3h0.8M169.8 350.8h0.8M166.8 349.4h0.8M169.8 345.1h0.8M179.0 352.7h0.8M170.1 352.9h0.8M167.8 354.4h0.8M170.5 350.9h0.8M169.7 350.7h0.8M173.4 350.6h0.8M168.6 352.4h0.8M174.3 350.5h0.8M176.3 348.6h0.8M177.2 350.1h0.8M178.2 349.4h0.8M171.0 351.0h0.8M176.5 354.2h0.8M170.2 348.6h0.8M175.1 353.7h0.8M174.9 349.7h0.8M177.2 350.4h0.8M172.7 352.1h0.8M169.7 344.7h0.8M172.9 352.3h0.8M173.8 351.9h0.8M172.7 353.2h0.8M172.5 354.3h0.8M172.2 352.5h0.8M169.8 351.3h0.8M173.7 350.9h0.8M178.3 350.6h0.8M176.6 351.4h0.8M176.4 348.2h0.8M170.5 353.0h0.8M168.7 351.5h0.8M174.3 351.0h0.8M173.8 351.9h0.8M171.0 351.6h0.8M169.9 349.3h0.8M165.6 350.2h0.8M165.1 350.6h0.8M172.9 347.7h0.8M172.3 351.2h0.8M170.6 348.2h0.8M171.6 351.6h0.8M175.8 355.5h0.8M164.0 351.4h0.8M173.8 348.9h0.8M173.3 355.9h0.8M172.5 354.0h0.8M176.3 349.4h0.8M162.6 353.5h0.8M178.3 346.0h0.8M171.2 348.7h0.8M172.8 350.7h0.8M176.7 349.0h0.8M179.8 346.1h0.8M172.9 357.4h0.8M171.6 352.1h0.8M170.1 359.0h0.8M175.6 349.6h0.8M164.2 351.0h0.8M175.0 345.3h0.8M170.0 351.9h0.8M162.2 350.0h0.8M165.5 347.1h0.8M173.7 353.4h0.8M176.7 348.8h0.8M174.1 346.0h0.8M166.0 351.9h0.8M170.4 347.9h0.8M164.4 349.9h0.8M181.1 345.3h0.8M167.8 353.4h0.8M164.2 348.9h0.8M172.3 353.4h0.8M171.7 355.2h0.8M171.9 350.2h0.8M173.8 351.4h0.8M165.9 348.1h0.8M171.0 351.4h0.8M167.0 348.7h0.8M169.0 351.4h0.8M170.3 352.1h0.8M173.6 348.1h0.8M170.8 347.3h0.8M172.4 352.6h0.8M168.0 345.9h0.8M174.1 349.8h0.8M171.9 351.7h0.8M173.5 352.9h0.8M170.1 344.8h0.8M170.0 349.7h0.8M170.3 351.5h0.8M171.0 353.8h0.8M169.4 350.5h0.8M170.5 356.0h0.8M168.1 347.9h0.8M170.5 352.5h0.8M172.1 350.0h0.8M166.0 345.1h0.8M171.1 349.9h0.8M179.2 351.5h0.8M173.7 353.0h0.8M168.3 347.3h0.8M170.5 354.3h0.8M176.0 349.0h0.8M166.9 352.9h0.8M176.5 347.7h0.8M178.6 348.5h0.8M175.1 350.0h0.8M170.7 348.9h0.8M174.8 352.1h0.8M175.3 349.8h0.8M168.5 356.0h0.8M179.0 350.0h0.8M167.3 354.4h0.8M172.5 350.6h0.8M175.5 351.4h0.8M172.5 355.6h0.8M164.3 352.2h0.8M168.0 350.7h0.8M171.3 351.2h0.8M162.1 352.3h0.8M181.6 349.4h0.8M175.7 352.1h0.8M173.2 349.2h0.8M174.6 351.2h0.8M178.0 352.7h0.8M169.1 342.9h0.8M178.2 351.8h0.8M172.7 348.9h0.8M182.3 354.0h0.8M172.4 349.5h0.8M174.4 354.0h0.8M174.1 352.9h0.8M173.1 351.4h0.8M166.8 350.8h0.8M172.2 350.3h0.8M171.0 351.3h0.8M169.6 350.0h0.8M166.6 356.5h0.8M168.3 347.4h0.8M169.8 349.4h0.8M167.6 344.2h0.8M178.8 353.1h0.8M170.4 351.9h0.8M167.4 346.3h0.8M173.4 352.0h0.8M169.2 350.5h0.8M159.3 350.2h0.8M176.4 350.9h0.8M172.8 352.0h0.8M163.3 347.2h0.8M166.7 351.1h0.8M169.4 345.6h0.8M175.7 350.0h0.8M176.1 355.7h0.8M165.1 347.2h0.8M176.5 354.2h0.8M173.6 351.4h0.8M174.9 352.2h0.8M166.7 352.4h0.8M176.1 349.4h0.8M168.2 349.2h0.8M169.6 351.9h0.8M175.2 350.6h0.8M170.7 345.9h0.8M170.2 347.9h0.8M169.7 351.4h0.8M172.7 359.6h0.8M168.4 349.1h0.8M167.2 349.8h0.8M170.8 353.1h0.8M163.9 352.9h0.8M174.7 349.1h0.8M169.1 351.0h0.8M174.2 350.1h0.8M171.3 350.5h0.8M167.5 351.2h0.8M174.4 350.6h0.8M167.2 350.5h0.8M171.5 351.3h0.8M170.3 352.6h0.8M176.5 352.6h0.8M173.0 353.6h0.8M171.8 350.1h0.8M166.0 350.6h0.8M177.1 348.0h0.8M175.2 347.2h0.8M173.2 355.2h0.8M172.2 347.5h0.8M173.2 350.1h0.8M175.3 349.2h0.8M164.8 349.3h0.8M174.4 353.1h0.8M173.1 350.6h0.8M174.8 350.0h0.8M170.1 351.1h0.8M176.5 349.2h0.8M174.1 348.9h0.8M168.9 350.9h0.8M166.4 348.3h0.8M167.0 349.0h0.8M168.2 356.5h0.8M174.5 350.7h0.8M166.4 344.4h0.8M173.8 348.9h0.8M176.3 349.5h0.8M166.5 348.9h0.8M165.6 346.9h0.8M174.9 349.2h0.8M174.9 349.1h0.8M171.0 349.1h0.8M169.7 348.8h0.8M178.2 350.4h0.8M163.8 354.8h0.8M177.2 353.4h0.8M171.5 350.1h0.8M170.0 350.8h0.8M173.9 350.5h0.8M168.5 348.1h0.8M178.9 354.8h0.8M166.8 348.9h0.8M171.8 352.0h0.8M171.5 351.1h0.8M173.5 353.4h0.8M166.5 353.3h0.8M173.8 351.9h0.8M165.7 349.9h0.8M170.9 352.1h0.8M174.8 352.2h0.8M166.6 353.7h0.8M172.2 352.9h0.8M171.9 348.7h0.8M182.9 352.2h0.8M175.1 349.3h0.8M171.0 353.3h0.8M173.8 354.9h0.8M177.0 347.8h0.8M165.5 353.4h0.8M174.5 349.9h0.8M170.7 349.1h0.8M179.5 350.1h0.8M166.2 352.8h0.8M171.6 351.4h0.8M170.3 350.4h0.8M164.1 351.9h0.8M169.1 349.5h0.8M173.3 353.7h0.8M162.9 350.2h0.8M174.2 353.1h0.8M168.1 351.3h0.8M173.6 352.9h0.8M169.3 350.0h0.8M169.8 353.4h0.8M176.5 349.4h0.8M171.4 351.1h0.8M168.2 350.2h0.8M175.6 352.5h0.8M169.1 348.9h0.8M171.4 346.8h0.8M173.2 350.8h0.8M166.3 349.9h0.8M169.2 349.8h0.8M168.3 353.9h0.8M167.9 352.4h0.8M172.8 354.1h0.8M171.7 350.5h0.8M172.2 345.8h0.8M182.0 350.0h0.8M170.6 347.7h0.8M171.4 354.5h0.8M168.8 351.6h0.8M176.3 352.9h0.8M170.2 346.2h0.8M173.6 351.9h0.8M170.6 349.5h0.8M179.3 346.6h0.8M169.8 349.0h0.8M165.4 348.8h0.8M168.6 353.6h0.8M164.6 347.1h0.8M173.0 346.7h0.8M163.5 349.0h0.8M166.9 348.1h0.8M171.3 351.7h0.8M169.2 349.8h0.8M174.9 350.2h0.8M175.0 349.1h0.8M174.0 353.7h0.8M166.1 357.9h0.8M170.6 349.7h0.8M171.2 351.7h0.8M166.9 350.6h0.8M169.5 354.1h0.8M164.7 352.1h0.8M170.6 348.7h0.8M172.5 349.9h0.8M172.1 351.1h0.8M177.0 349.5h0.8M178.9 343.9h0.8M179.6 353.5h0.8M178.5 351.0h0.8M173.1 348.0h0.8M177.5 347.7h0.8M168.6 350.5h0.8M172.9 351.4h0.8M167.0 349.7h0.8M174.0 353.5h0.8M175.1 351.6h0.8M170.8 349.2h0.8M169.8 350.3h0.8M174.1 349.3h0.8M180.5 348.1h0.8M175.3 350.0h0.8M171.3 349.6h0.8M178.3 349.8h0.8M174.2 350.8h0.8M175.1 352.0h0.8M178.8 348.7h0.8M168.5 354.7h0.8M177.3 350.7h0.8M170.7 351.2h0.8M177.4 348.7h0.8M178.0 350.4h0.8M170.4 349.6h0.8M163.1 351.3h0.8M166.4 349.2h0.8M168.2 351.1h0.8M174.9 350.6h0.8M172.7 351.5h0.8M178.6 352.0h0.8M178.5 350.4h0.8M173.4 348.9h0.8M174.4 348.4h0.8M173.9 349.0h0.8M170.4 353.5h0.8M172.5 352.5h0.8M170.9 346.0h0.8M178.1 350.1h0.8M169.2 352.9h0.8M167.2 348.7h0.8M176.7 348.8h0.8M176.6 349.8h0.8M171.0 350.7h0.8M169.8 353.2h0.8M176.5 350.7h0.8M174.5 351.9h0.8M179.0 346.7h0.8M176.2 352.8h0.8M170.6 350.6h0.8M170.5 353.6h0.8M167.1 352.0h0.8M177.3 351.9h0.8M169.9 349.4h0.8M163.1 348.0h0.8M176.5 348.2h0.8M165.1 349.9h0.8M165.7 351.7h0.8M168.3 352.9h0.8M171.4 347.1h0.8M168.7 349.0h0.8M168.4 353.6h0.8M167.7 351.4h0.8M169.5 352.0h0.8M165.9 346.7h0.8M174.1 354.0h0.8M166.1 349.8h0.8M169.8 348.3h0.8M176.0 350.7h0.8M166.1 350.0h0.8M177.5 348.8h0.8M169.8 348.5h0.8M172.6 349.2h0.8M175.7 348.5h0.8M165.8 351.6h0.8M158.6 348.2h0.8M173.1 351.1h0.8M169.5 349.5h0.8M174.1 359.7h0.8M168.6 350.1h0.8M170.0 351.9h0.8M172.0 351.9h0.8M178.8 349.9h0.8M170.7 351.5h0.8M180.7 349.7h0.8M179.0 353.4h0.8M160.5 348.1h0.8M167.8 351.5h0.8M177.5 350.7h0.8M172.6 355.9h0.8M173.4 355.8h0.8M168.2 354.6h0.8M169.8 344.6h0.8M168.5 349.4h0.8M171.8 352.4h0.8M174.8 351.8h0.8M168.8 354.9h0.8M177.0 350.6h0.8M169.5 350.4h0.8M171.0 348.8h0.8M171.9 348.9h0.8M174.6 348.9h0.8M174.0 351.3h0.8M172.6 351.8h0.8M167.6 356.9h0.8M169.0 352.3h0.8M172.0 349.5h0.8M179.2 353.2h0.8M170.8 351.9h0.8M174.8 354.4h0.8M176.2 350.1h0.8M170.9 347.7h0.8M173.0 352.7h0.8M170.3 352.2h0.8M172.5 349.4h0.8M166.8 353.3h0.8M182.6 351.9h0.8M167.4 348.0h0.8M173.0 352.1h0.8M178.3 344.6h0.8M179.7 350.9h0.8M172.5 351.5h0.8M170.5 349.8h0.8M176.4 346.3h0.8M171.5 351.9h0.8M165.0 350.1h0.8M178.4 351.5h0.8M174.9 352.3h0.8M172.9 351.4h0.8M168.5 350.0h0.8M179.7 347.5h0.8M171.3 347.4h0.8M169.7 348.6h0.8M166.8 351.1h0.8M168.0 351.8h0.8M179.5 344.2h0.8M171.3 345.4h0.8M171.4 351.5h0.8M172.8 353.5h0.8M172.6 346.3h0.8M178.3 348.2h0.8M171.6 351.3h0.8M168.3 350.8h0.8M178.2 346.4h0.8M165.0 349.4h0.8M171.3 347.4h0.8M162.3 352.8h0.8M173.6 347.3h0.8M174.4 350.4h0.8M172.6 347.2h0.8M171.0 351.7h0.8M164.6 347.9h0.8M176.0 355.5h0.8M174.7 350.4h0.8M167.4 349.5h0.8M170.9 351.6h0.8M170.9 356.7h0.8M177.5 345.1h0.8M167.1 350.5h0.8M176.1 351.5h0.8M160.4 346.5h0.8M177.6 352.0h0.8M182.7 352.5h0.8M173.9 354.3h0.8M170.1 349.2h0.8M167.7 351.1h0.8M173.8 352.9h0.8M178.1 352.1h0.8M177.2 349.9h0.8M167.9 352.3h0.8M176.2 353.9h0.8M171.3 349.4h0.8M170.5 351.4h0.8M171.8 350.1h0.8M173.1 349.8h0.8M173.4 349.0h0.8M165.5 349.8h0.8M179.9 348.5h0.8M175.8 353.9h0.8M169.7 351.2h0.8M162.4 351.9h0.8M178.5 351.0h0.8M163.6 349.1h0.8M168.9 350.8h0.8M173.2 349.5h0.8M170.7 348.5h0.8M174.4 351.0h0.8M173.4 349.3h0.8M174.1 349.8h0.8M173.2 350.1h0.8M169.2 347.8h0.8M164.1 347.1h0.8M173.9 358.6h0.8M165.1 348.5h0.8M172.0 359.4h0.8M171.1 347.6h0.8M173.8 355.7h0.8M160.2 347.6h0.8M177.2 347.6h0.8M171.6 348.9h0.8M175.2 346.9h0.8M173.3 351.1h0.8M174.4 351.6h0.8M172.6 346.1h0.8M170.6 348.2h0.8M174.2 349.9h0.8M172.6 353.3h0.8M171.5 354.7h0.8M175.5 346.8h0.8M169.5 353.6h0.8M169.9 353.5h0.8M169.6 350.2h0.8M176.3 346.6h0.8M172.3 349.4h0.8M172.7 354.8h0.8M174.1 347.1h0.8M176.0 349.4h0.8M172.7 353.4h0.8M170.7 352.9h0.8M172.7 348.2h0.8M170.7 347.1h0.8M177.0 350.9h0.8M176.1 347.7h0.8M175.6 347.5h0.8M173.2 350.5h0.8M169.5 351.3h0.8M172.1 348.3h0.8M168.9 347.2h0.8M177.8 350.9h0.8M170.5 352.2h0.8M168.4 347.6h0.8M173.5 354.5h0.8M173.3 350.9h0.8M179.3 346.6h0.8M184.9 347.7h0.8M171.7 347.1h0.8M166.9 349.9h0.8M182.3 348.1h0.8M169.4 351.2h0.8M167.7 349.9h0.8M175.4 345.0h0.8M170.7 349.8h0.8M169.8 350.2h0.8M164.4 349.4h0.8M169.8 347.9h0.8M177.3 355.5h0.8M175.4 348.3h0.8M178.0 351.8h0.8M168.6 352.0h0.8M169.6 351.9h0.8M175.9 353.4h0.8M167.6 350.2h0.8M172.0 347.4h0.8M173.7 352.2h0.8M166.2 349.1h0.8M167.4 347.3h0.8M167.5 354.0h0.8M169.2 349.5h0.8M176.2 353.1h0.8M177.9 345.3h0.8M175.2 346.1h0.8M169.3 349.5h0.8M169.6 355.5h0.8M171.3 353.5h0.8M171.2 350.4h0.8M174.1 351.6h0.8M174.1 346.1h0.8M174.1 351.3h0.8M174.5 350.4h0.8M173.7 347.2h0.8M176.8 347.4h0.8M177.9 353.1h0.8M171.7 349.8h0.8M175.3 349.7h0.8M167.0 351.2h0.8M166.9 349.3h0.8M179.5 352.5h0.8M170.1 350.3h0.8M169.3 350.5h0.8M165.9 352.2h0.8M172.1 349.0h0.8M169.4 357.1h0.8M170.1 349.3h0.8M169.6 349.3h0.8M177.5 352.2h0.8M173.8 351.4h0.8M167.2 344.4h0.8M178.3 352.3h0.8M172.9 351.2h0.8M172.8 350.6h0.8M170.9 344.9h0.8M174.4 350.6h0.8M176.1 351.3h0.8M170.8 352.0h0.8M172.8 349.4h0.8M170.4 349.4h0.8M170.7 349.4h0.8M176.1 357.9h0.8M171.5 353.3h0.8M163.7 342.3h0.8M170.0 350.1h0.8M168.9 347.1h0.8M168.4 349.2h0.8M172.6 349.6h0.8M167.0 349.6h0.8M178.4 348.3h0.8M172.3 353.0h0.8M168.6 349.1h0.8M184.2 353.6h0.8M169.8 350.9h0.8M172.4 350.9h0.8M174.0 349.7h0.8M162.7 348.1h0.8M172.6 347.0h0.8M170.6 354.3h0.8M173.0 348.8h0.8M172.6 353.2h0.8M164.8 347.3h0.8M169.2 349.4h0.8M171.6 349.0h0.8M172.5 350.7h0.8M167.1 348.9h0.8M166.8 351.2h0.8M173.1 352.2h0.8M168.3 349.2h0.8M162.7 350.5h0.8M165.2 351.4h0.8M176.5 351.6h0.8M174.6 351.1h0.8M173.6 352.9h0.8M177.3 355.6h0.8M170.9 352.6h0.8M175.6 351.6h0.8M173.1 347.3h0.8M176.6 348.3h0.8M169.3 348.3h0.8M174.3 348.1h0.8M173.9 351.9h0.8M172.4 349.6h0.8M174.5 353.8h0.8M170.1 347.8h0.8M169.5 348.3h0.8M171.0 350.1h0.8M162.3 354.2h0.8M168.6 349.4h0.8M163.8 345.5h0.8M167.7 351.1h0.8M175.6 345.9h0.8M172.9 354.3h0.8M170.8 352.8h0.8M173.3 348.2h0.8M176.2 349.0h0.8M173.5 349.5h0.8M171.1 350.9h0.8M177.5 346.3h0.8M167.3 350.8h0.8M176.1 350.0h0.8M171.2 351.8h0.8M178.6 348.2h0.8M165.3 349.8h0.8M175.2 347.2h0.8M176.7 352.9h0.8M175.3 348.4h0.8M166.6 352.2h0.8M173.1 352.2h0.8M166.4 343.0h0.8M176.7 353.0h0.8M170.8 350.5h0.8M173.9 352.4h0.8M171.2 349.2h0.8M167.9 353.1h0.8M172.4 341.9h0.8M173.4 349.1h0.8M166.7 349.2h0.8M166.6 349.4h0.8M169.7 351.8h0.8M167.8 345.9h0.8M169.5 347.0h0.8M175.1 350.0h0.8M165.0 348.3h0.8M171.9 350.4h0.8M164.3 350.2h0.8M173.2 353.0h0.8M176.6 350.2h0.8M166.5 349.6h0.8M174.7 348.2h0.8M177.3 348.1h0.8M167.3 352.6h0.8M171.6 351.3h0.8M170.7 350.6h0.8M169.5 355.3h0.8M174.7 350.2h0.8M174.0 352.6h0.8M169.8 350.9h0.8M172.9 349.1h0.8M168.8 350.0h0.8M170.7 349.5h0.8M163.9 350.7h0.8M174.7 350.7h0.8M179.2 352.7h0.8M170.5 348.8h0.8M174.1 349.6h0.8M165.2 350.8h0.8M170.8 349.9h0.8M174.6 351.0h0.8M180.5 348.6h0.8M171.6 351.3h0.8M170.2 349.2h0.8M179.3 346.8h0.8M173.5 346.1h0.8M173.4 345.7h0.8M167.1 353.4h0.8M178.4 350.8h0.8M160.6 353.0h0.8M173.0 347.7h0.8M170.5 347.2h0.8M171.6 350.3h0.8M172.5 352.5h0.8M169.3 345.0h0.8M167.1 347.3h0.8M170.5 349.4h0.8M171.8 353.9h0.8M172.1 347.8h0.8M170.7 348.3h0.8M171.0 352.0h0.8M167.3 352.3h0.8M179.5 354.3h0.8M178.8 350.7h0.8M166.3 355.5h0.8M171.8 351.1h0.8M170.5 348.1h0.8M174.6 347.0h0.8M166.2 351.9h0.8M170.4 348.4h0.8M174.1 354.1h0.8M170.8 350.2h0.8M174.3 352.8h0.8M176.3 352.2h0.8M169.2 351.8h0.8M172.0 346.2h0.8M177.2 351.9h0.8M177.7 350.3h0.8M175.0 350.3h0.8M172.7 352.8h0.8M172.2 352.0h0.8M171.9 353.6h0.8M174.7 346.4h0.8M178.9 351.6h0.8M169.9 348.9h0.8M180.3 350.7h0.8M174.1 352.0h0.8M169.5 354.9h0.8M180.8 348.6h0.8M176.7 346.4h0.8M170.6 350.7h0.8M172.2 351.9h0.8M173.7 351.4h0.8M171.4 351.3h0.8M169.7 355.4h0.8M172.3 353.6h0.8M172.4 350.1h0.8M171.2 347.3h0.8M180.7 351.5h0.8M171.6 404.9h0.8M168.7 393.2h0.8M173.6 410.6h0.8M171.3 404.6h0.8M173.9 402.7h0.8M172.9 398.5h0.8M172.2 409.6h0.8M174.5 410.1h0.8M170.6 402.8h0.8M170.9 393.6h0.8M175.9 400.2h0.8M173.8 393.0h0.8M172.2 401.2h0.8M171.7 408.4h0.8M174.5 402.8h0.8M173.7 399.2h0.8M170.7 400.2h0.8M169.7 400.9h0.8M172.6 409.1h0.8M171.3 402.8h0.8M172.9 398.1h0.8M172.8 390.8h0.8M176.6 398.3h0.8M172.9 390.5h0.8M174.8 393.9h0.8M177.4 395.4h0.8M170.6 406.2h0.8M177.2 389.4h0.8M167.5 412.3h0.8M174.4 392.4h0.8M171.6 406.4h0.8M171.7 411.6h0.8M170.7 403.1h0.8M176.8 411.4h0.8M173.8 405.7h0.8M171.9 401.6h0.8M171.1 404.5h0.8M175.7 395.6h0.8M169.2 402.3h0.8M179.5 403.4h0.8M173.4 401.7h0.8M167.5 397.5h0.8M177.9 388.6h0.8M178.8 394.4h0.8M177.9 401.1h0.8M174.9 398.5h0.8M171.5 403.3h0.8M162.7 405.6h0.8M172.0 395.1h0.8M172.1 406.1h0.8M170.5 404.3h0.8M168.6 402.6h0.8M169.2 406.9h0.8M169.6 405.9h0.8M166.5 403.1h0.8M176.6 396.7h0.8M173.2 396.5h0.8M174.5 406.8h0.8M176.7 410.5h0.8M177.2 397.3h0.8M173.4 405.4h0.8M173.6 393.6h0.8M173.2 385.3h0.8M178.9 400.8h0.8M180.4 395.3h0.8M174.7 407.1h0.8M168.3 399.9h0.8M174.6 406.2h0.8M174.2 385.2h0.8M165.2 404.3h0.8M178.2 392.1h0.8M174.3 407.9h0.8M169.8 391.8h0.8M173.8 399.1h0.8M172.7 400.7h0.8M172.6 404.0h0.8M171.2 401.8h0.8M171.1 396.4h0.8M174.1 396.7h0.8M174.7 401.8h0.8M176.5 405.8h0.8M166.4 401.8h0.8M175.1 402.7h0.8M173.1 408.9h0.8M175.2 393.3h0.8M173.3 408.4h0.8M173.5 393.8h0.8M175.5 405.9h0.8M176.7 403.1h0.8M173.3 407.5h0.8M174.3 403.4h0.8M175.4 407.1h0.8M165.8 408.0h0.8M172.6 396.9h0.8M175.9 408.0h0.8M174.2 398.0h0.8M173.3 395.8h0.8M181.2 397.7h0.8M175.8 412.5h0.8M170.2 398.5h0.8M165.7 400.4h0.8M168.6 403.0h0.8M172.2 402.0h0.8M173.1 398.9h0.8M173.3 401.5h0.8M170.6 399.9h0.8M171.1 393.6h0.8M172.9 390.0h0.8M174.7 401.8h0.8M173.5 409.4h0.8M176.1 399.1h0.8M174.1 409.6h0.8M172.4 404.4h0.8M174.3 395.3h0.8M173.9 399.5h0.8M172.1 404.8h0.8M175.1 396.2h0.8M172.1 400.7h0.8M169.9 404.4h0.8M172.3 397.4h0.8M176.0 401.4h0.8M169.2 401.4h0.8M172.4 403.9h0.8M180.3 405.5h0.8M177.7 400.9h0.8M174.5 405.2h0.8M172.6 403.5h0.8M171.5 406.4h0.8M160.8 393.0h0.8M172.5 404.3h0.8M173.4 391.5h0.8M174.3 396.3h0.8M173.6 399.3h0.8M172.1 392.2h0.8M168.7 398.4h0.8M169.5 403.5h0.8M168.4 403.4h0.8M174.8 397.2h0.8M169.8 399.7h0.8M175.5 410.9h0.8M180.0 402.5h0.8M175.0 403.2h0.8M172.9 395.1h0.8M171.8 409.2h0.8M177.4 398.1h0.8M173.1 404.9h0.8M172.4 390.3h0.8M174.0 395.7h0.8M172.0 397.9h0.8M177.9 389.4h0.8M167.9 398.7h0.8M170.8 407.0h0.8M178.0 397.3h0.8M174.8 400.6h0.8M166.5 409.5h0.8M178.6 396.7h0.8M175.0 398.6h0.8M172.6 399.0h0.8M172.5 402.3h0.8M171.0 403.7h0.8M168.7 407.2h0.8M169.8 390.0h0.8M175.7 399.8h0.8M171.2 407.9h0.8M174.3 392.8h0.8M171.3 397.7h0.8M174.4 405.5h0.8M173.5 387.7h0.8M171.2 401.8h0.8M170.6 400.7h0.8M170.1 394.7h0.8M176.9 389.4h0.8M176.3 394.6h0.8M172.1 389.0h0.8M175.1 395.5h0.8M181.1 396.0h0.8M173.8 406.2h0.8M169.8 396.6h0.8M169.5 405.6h0.8M173.9 408.5h0.8M168.3 396.0h0.8M172.6 399.1h0.8M174.0 409.2h0.8M173.4 396.8h0.8M172.8 397.3h0.8M172.3 401.5h0.8M168.8 403.5h0.8M175.3 406.4h0.8M169.2 402.7h0.8M176.0 399.0h0.8M175.3 398.7h0.8M172.9 398.2h0.8M168.1 396.6h0.8M173.5 400.1h0.8M172.9 398.2h0.8M175.8 400.8h0.8M174.2 398.9h0.8M177.2 401.3h0.8M174.4 391.9h0.8M170.8 404.1h0.8M168.7 392.5h0.8M172.6 391.8h0.8M176.5 404.8h0.8M171.9 409.8h0.8M170.7 394.3h0.8M175.9 402.1h0.8M172.2 408.6h0.8M172.5 406.1h0.8M173.7 409.4h0.8M174.8 398.9h0.8M177.9 399.7h0.8M178.6 393.8h0.8M173.1 387.6h0.8M174.7 410.6h0.8M171.7 405.0h0.8M172.2 411.3h0.8M174.1 404.3h0.8M176.5 392.2h0.8M175.2 402.8h0.8M177.2 402.2h0.8M174.9 401.6h0.8M169.8 398.7h0.8M172.4 393.4h0.8M172.8 398.9h0.8M178.9 400.4h0.8M173.4 402.6h0.8M175.2 391.6h0.8M167.3 412.2h0.8M170.3 396.2h0.8M176.8 403.9h0.8M170.4 406.8h0.8M169.3 412.5h0.8M172.0 404.1h0.8M169.9 401.4h0.8M180.0 388.8h0.8M171.4 403.8h0.8M172.3 404.9h0.8M176.8 394.7h0.8M170.9 410.5h0.8M179.3 384.8h0.8M174.7 408.4h0.8M170.8 396.4h0.8M169.3 400.7h0.8M169.3 406.6h0.8M170.7 405.3h0.8M167.9 407.7h0.8M175.2 408.1h0.8M176.1 402.3h0.8M178.2 399.7h0.8M171.5 402.0h0.8M173.8 403.2h0.8M172.2 408.5h0.8M180.0 399.5h0.8M168.2 399.0h0.8M168.5 393.8h0.8M169.6 408.8h0.8M173.5 406.6h0.8M172.6 408.6h0.8M171.7 410.4h0.8M175.9 403.4h0.8M168.2 394.9h0.8M173.8 395.3h0.8M172.4 401.0h0.8M177.5 397.6h0.8M173.4 399.0h0.8M170.5 404.8h0.8M176.2 392.8h0.8M173.5 405.3h0.8M169.6 399.4h0.8M174.0 401.4h0.8M177.5 396.3h0.8M172.2 405.4h0.8M172.8 400.4h0.8M172.6 404.6h0.8M175.4 395.2h0.8M170.1 394.7h0.8M174.4 390.1h0.8M181.0 398.5h0.8M173.0 405.2h0.8M172.4 400.4h0.8M179.7 389.3h0.8M173.8 397.2h0.8M171.9 401.6h0.8M167.0 406.0h0.8M173.7 405.6h0.8M171.1 406.8h0.8M171.5 407.0h0.8M177.4 406.0h0.8M168.3 402.5h0.8M173.7 393.8h0.8M168.1 410.5h0.8M169.7 404.6h0.8M171.9 401.1h0.8M171.6 402.1h0.8M178.3 396.4h0.8M174.7 405.1h0.8M170.8 395.0h0.8M170.1 405.7h0.8M173.5 408.6h0.8M174.2 402.8h0.8M173.1 403.5h0.8M173.2 406.3h0.8M170.2 408.9h0.8M178.3 401.4h0.8M174.9 394.5h0.8M173.3 392.8h0.8M176.2 402.3h0.8M176.5 409.2h0.8M170.6 407.2h0.8M172.7 405.5h0.8M170.9 406.1h0.8M175.0 411.3h0.8M172.5 402.4h0.8M174.6 401.0h0.8M179.7 387.9h0.8M167.4 398.8h0.8M175.3 402.2h0.8M174.4 392.3h0.8M175.0 405.5h0.8M178.3 407.3h0.8M171.0 397.3h0.8M169.3 398.9h0.8M172.7 410.0h0.8M178.4 402.5h0.8M175.0 401.0h0.8M168.8 405.4h0.8M170.7 391.7h0.8M170.3 411.5h0.8M169.3 410.7h0.8M168.6 401.6h0.8M174.7 399.5h0.8M169.9 402.1h0.8M178.5 406.2h0.8M173.7 405.7h0.8M176.9 410.5h0.8M172.1 396.4h0.8M169.8 402.4h0.8M172.0 402.1h0.8M170.7 411.1h0.8M170.2 397.0h0.8M169.2 395.1h0.8M167.7 396.8h0.8M172.2 406.5h0.8M167.2 404.8h0.8M172.6 402.0h0.8M166.0 405.1h0.8M175.2 409.3h0.8M172.1 409.9h0.8M173.3 396.2h0.8M174.7 408.3h0.8M173.8 401.8h0.8M172.2 406.3h0.8M167.1 404.0h0.8M168.8 398.7h0.8M173.7 409.9h0.8M173.0 396.2h0.8M181.9 404.1h0.8M164.2 401.4h0.8M170.6 398.2h0.8M173.3 393.5h0.8M175.9 402.6h0.8M171.7 403.3h0.8M169.2 403.3h0.8M174.2 409.6h0.8M179.6 398.1h0.8M174.3 397.0h0.8M173.4 409.4h0.8M175.1 400.2h0.8M178.9 407.7h0.8M177.1 402.6h0.8M177.4 401.1h0.8M175.9 402.3h0.8M173.0 392.2h0.8M176.2 405.7h0.8M171.0 402.5h0.8M175.0 406.1h0.8M166.2 411.5h0.8M176.8 402.9h0.8M173.7 403.9h0.8M171.7 411.7h0.8M170.8 398.7h0.8M172.3 392.0h0.8M176.4 394.5h0.8M178.0 408.1h0.8M179.7 398.3h0.8M172.0 399.2h0.8M175.6 396.4h0.8M172.0 387.3h0.8M173.2 403.4h0.8M179.6 396.7h0.8M176.2 405.7h0.8M175.9 395.0h0.8M161.5 399.0h0.8M176.2 403.1h0.8M170.7 399.4h0.8M178.1 391.4h0.8M164.7 403.8h0.8M174.1 411.7h0.8M175.5 401.8h0.8M171.1 390.3h0.8M174.8 398.1h0.8M171.8 404.1h0.8M166.2 401.5h0.8M172.6 409.3h0.8M169.7 391.9h0.8M176.0 399.8h0.8M168.6 408.9h0.8M174.7 391.0h0.8M173.4 393.3h0.8M170.2 411.0h0.8M178.1 406.5h0.8M168.0 407.4h0.8M170.3 398.8h0.8M171.4 409.0h0.8M174.7 405.8h0.8M171.5 398.7h0.8M176.6 398.1h0.8M172.1 405.7h0.8M172.4 408.4h0.8M174.9 406.2h0.8M180.8 398.5h0.8M180.1 393.7h0.8M170.4 385.9h0.8M170.8 396.9h0.8M175.4 410.2h0.8M180.8 398.6h0.8M176.6 400.8h0.8M166.8 375.0h0.8M171.8 389.4h0.8M176.0 396.0h0.8M175.2 397.7h0.8M174.7 395.8h0.8M174.3 393.1h0.8M170.4 402.9h0.8M175.8 394.0h0.8M170.0 391.4h0.8M179.0 403.9h0.8M174.1 399.2h0.8M179.5 405.8h0.8M172.7 410.0h0.8M175.0 400.2h0.8M171.8 402.1h0.8M177.7 392.7h0.8M167.4 406.5h0.8M176.6 411.6h0.8M175.0 392.2h0.8M175.8 403.1h0.8M169.6 391.5h0.8M167.8 402.5h0.8M168.7 404.4h0.8M172.5 406.3h0.8M176.0 396.0h0.8M171.8 406.9h0.8M170.9 408.7h0.8M175.0 407.9h0.8M171.0 407.2h0.8M172.3 403.5h0.8M175.2 398.3h0.8M172.9 386.3h0.8M170.7 406.1h0.8M169.4 388.1h0.8M168.2 400.1h0.8M175.3 405.5h0.8M168.3 404.7h0.8M168.9 409.2h0.8M174.3 397.8h0.8M171.5 401.5h0.8M171.1 409.7h0.8M174.1 398.3h0.8M174.6 392.9h0.8M173.6 399.8h0.8M171.1 401.6h0.8M173.8 392.3h0.8M175.7 398.1h0.8M170.3 408.9h0.8M171.1 410.3h0.8M176.0 404.2h0.8M170.2 408.9h0.8M174.3 394.8h0.8M174.9 400.9h0.8M172.6 395.5h0.8M173.7 407.7h0.8M170.2 407.3h0.8M167.0 402.7h0.8M173.9 395.7h0.8M173.5 393.3h0.8M179.2 404.6h0.8M176.6 395.8h0.8M165.6 401.4h0.8M177.5 400.9h0.8M176.9 404.7h0.8M174.1 409.0h0.8M171.1 399.3h0.8M176.6 405.0h0.8M171.2 394.8h0.8M177.9 380.6h0.8M176.0 401.0h0.8M168.8 404.7h0.8M174.0 385.3h0.8M170.0 407.0h0.8M171.4 401.6h0.8M172.8 411.5h0.8M174.1 401.0h0.8M170.9 408.7h0.8M170.8 404.7h0.8M174.4 406.9h0.8M175.6 403.9h0.8M179.5 407.2h0.8M170.6 396.0h0.8M170.8 410.8h0.8M169.5 412.4h0.8M174.4 398.1h0.8M169.8 401.3h0.8M175.5 401.5h0.8M175.3 403.1h0.8M177.4 398.8h0.8M172.6 394.5h0.8M172.0 395.4h0.8M168.1 400.5h0.8M175.2 387.1h0.8M168.9 392.7h0.8M174.2 405.7h0.8M174.1 400.8h0.8M170.5 403.2h0.8M170.2 400.5h0.8M174.3 400.3h0.8M176.9 387.6h0.8M167.9 408.6h0.8M171.2 398.9h0.8M171.2 401.6h0.8M172.5 404.4h0.8M166.2 401.2h0.8M170.2 403.4h0.8M169.8 402.4h0.8M173.9 401.7h0.8M173.8 406.3h0.8M169.6 401.7h0.8M176.4 408.2h0.8M176.2 396.5h0.8M170.9 408.5h0.8M173.0 403.9h0.8M171.9 408.0h0.8M173.6 395.4h0.8M174.2 399.7h0.8M172.2 405.7h0.8M173.5 398.2h0.8M169.3 399.0h0.8M172.6 394.1h0.8M171.0 402.4h0.8M169.1 399.8h0.8M173.8 403.1h0.8M167.6 402.2h0.8M169.9 409.2h0.8M172.7 412.5h0.8M174.2 394.3h0.8M176.0 398.8h0.8M172.7 402.6h0.8M168.9 409.7h0.8M173.5 395.2h0.8M168.6 405.0h0.8M176.9 404.7h0.8M174.0 399.2h0.8M176.5 405.6h0.8M170.5 397.9h0.8M166.1 409.6h0.8M182.6 401.2h0.8M174.4 407.0h0.8M169.8 396.5h0.8M178.2 408.0h0.8M175.4 401.3h0.8M172.9 403.0h0.8M174.4 398.0h0.8M171.3 395.7h0.8M169.9 410.9h0.8M170.9 397.0h0.8M176.5 400.9h0.8M172.9 406.7h0.8M176.6 403.6h0.8M178.0 397.6h0.8M171.3 406.5h0.8M175.1 390.6h0.8M172.0 406.6h0.8M168.0 403.4h0.8M170.3 391.5h0.8M172.3 401.6h0.8M171.7 397.9h0.8M175.8 395.2h0.8M171.0 392.8h0.8M176.7 392.4h0.8M178.5 396.0h0.8M169.6 410.7h0.8M168.8 399.0h0.8M174.8 404.3h0.8M174.1 404.1h0.8M178.0 391.5h0.8M170.8 407.8h0.8M168.3 397.5h0.8M180.8 410.9h0.8M174.6 402.6h0.8M172.5 396.3h0.8M170.2 395.6h0.8M168.9 403.0h0.8M174.4 395.9h0.8M173.4 393.4h0.8M174.2 400.0h0.8M172.8 403.4h0.8M177.2 403.5h0.8M170.9 403.1h0.8M174.3 405.6h0.8M176.4 396.7h0.8M169.2 406.2h0.8M169.4 405.1h0.8M181.7 410.3h0.8M168.3 396.7h0.8M174.3 400.2h0.8M175.2 403.7h0.8M174.1 405.8h0.8M168.0 409.6h0.8M168.5 396.3h0.8M165.3 402.1h0.8M174.3 399.6h0.8M169.2 387.8h0.8M174.8 394.5h0.8M171.8 403.7h0.8M172.8 404.8h0.8M178.3 406.8h0.8M169.7 401.8h0.8M172.3 396.5h0.8M175.1 399.6h0.8M173.8 406.3h0.8M179.8 398.1h0.8M178.1 404.1h0.8M170.6 403.2h0.8M171.0 399.4h0.8M167.5 400.2h0.8M166.5 408.6h0.8M174.7 399.5h0.8M173.1 402.9h0.8M172.2 404.1h0.8M172.4 405.1h0.8M170.4 402.6h0.8M178.4 396.8h0.8M170.4 408.4h0.8M174.0 403.2h0.8M173.6 399.5h0.8M171.3 405.5h0.8M173.6 406.4h0.8M173.3 411.4h0.8M176.2 397.2h0.8M178.1 398.5h0.8M176.3 397.2h0.8M174.2 403.2h0.8M177.6 388.1h0.8M166.8 408.7h0.8M175.5 398.9h0.8M173.3 390.7h0.8M171.8 397.9h0.8M175.9 403.9h0.8M172.5 409.8h0.8M170.9 407.2h0.8M172.3 405.3h0.8M172.1 411.5h0.8M175.6 396.8h0.8M171.6 411.1h0.8M177.8 394.3h0.8M173.6 406.4h0.8M180.7 406.7h0.8M172.4 408.4h0.8M173.3 396.6h0.8M172.9 400.8h0.8M172.3 402.8h0.8M174.2 397.2h0.8M175.2 392.0h0.8M175.2 405.5h0.8M174.4 392.5h0.8M171.4 403.7h0.8M174.5 407.2h0.8M168.1 402.5h0.8M176.5 394.7h0.8M169.1 399.3h0.8M172.2 400.6h0.8M177.1 404.2h0.8M166.8 407.5h0.8M173.3 408.0h0.8M172.9 411.5h0.8M173.5 399.2h0.8M169.1 408.5h0.8M172.6 390.9h0.8M175.8 410.9h0.8M166.2 406.1h0.8M177.0 397.5h0.8M174.5 407.3h0.8M168.2 411.9h0.8M174.6 407.9h0.8M170.2 407.9h0.8M172.9 400.4h0.8M173.1 404.7h0.8M168.1 402.4h0.8M174.2 391.8h0.8M175.2 402.4h0.8M169.7 395.2h0.8M169.0 408.2h0.8M170.2 403.7h0.8M171.6 408.3h0.8M177.2 408.5h0.8M175.2 409.5h0.8M178.6 396.8h0.8M173.9 398.2h0.8M173.2 401.0h0.8M173.4 407.2h0.8M168.8 385.4h0.8M173.9 409.4h0.8M171.7 412.2h0.8M180.4 402.9h0.8M172.3 405.9h0.8M175.5 392.7h0.8M174.7 389.0h0.8M169.5 404.0h0.8M174.0 394.7h0.8M173.2 411.0h0.8M167.7 406.2h0.8M177.2 393.7h0.8M176.9 405.5h0.8M172.0 402.7h0.8M172.9 402.7h0.8M172.4 397.7h0.8M172.4 411.8h0.8M170.5 394.1h0.8M175.1 404.1h0.8M174.5 396.2h0.8M171.7 409.2h0.8M178.2 404.2h0.8M174.3 385.2h0.8M170.9 411.1h0.8M179.2 397.1h0.8M164.8 405.9h0.8M168.8 399.8h0.8M171.1 400.1h0.8M169.9 406.8h0.8M174.0 393.9h0.8M174.9 403.9h0.8M169.6 403.4h0.8M174.1 397.8h0.8M173.4 399.5h0.8M166.3 393.4h0.8M171.0 399.1h0.8M171.6 403.3h0.8M172.3 391.4h0.8M172.8 401.2h0.8M170.3 407.5h0.8M174.3 400.5h0.8M170.1 404.5h0.8M170.4 396.9h0.8M171.4 408.8h0.8M172.1 401.5h0.8M171.9 406.5h0.8M172.5 408.0h0.8M172.5 408.1h0.8M172.0 397.7h0.8M174.3 401.2h0.8M171.5 412.1h0.8M171.4 397.4h0.8M171.9 412.1h0.8M168.6 410.3h0.8M174.6 400.0h0.8M171.9 397.8h0.8M166.4 396.5h0.8M168.4 392.0h0.8M171.5 406.5h0.8M169.9 400.4h0.8M170.4 401.3h0.8M174.2 410.6h0.8M174.9 405.1h0.8M177.4 407.3h0.8M174.5 406.3h0.8M175.6 395.8h0.8M170.0 403.2h0.8M167.1 400.8h0.8M171.8 404.7h0.8M175.1 411.2h0.8M165.2 404.0h0.8M174.0 412.1h0.8M170.9 405.4h0.8M172.4 396.4h0.8M173.7 409.0h0.8M171.7 403.2h0.8M176.4 401.4h0.8M171.8 404.6h0.8M174.3 405.3h0.8M176.9 405.6h0.8M169.0 391.9h0.8M173.0 399.8h0.8M173.7 406.1h0.8M176.9 394.2h0.8M175.3 403.9h0.8M175.5 409.8h0.8M165.6 408.7h0.8M174.5 397.5h0.8M172.4 409.6h0.8M168.0 408.5h0.8M170.1 398.6h0.8M176.1 400.8h0.8M174.2 385.4h0.8M180.6 390.4h0.8M167.5 405.9h0.8M174.4 397.3h0.8M165.7 406.3h0.8M173.6 396.6h0.8M173.3 398.8h0.8M169.5 407.3h0.8M172.8 402.9h0.8M168.8 398.0h0.8M171.9 398.7h0.8M173.9 402.8h0.8M172.1 401.5h0.8M174.1 409.3h0.8M169.3 408.9h0.8M175.7 407.8h0.8M171.0 404.0h0.8M179.6 393.8h0.8M175.5 400.9h0.8M178.2 403.5h0.8M175.6 398.5h0.8M168.7 399.2h0.8M172.0 394.3h0.8M174.8 394.5h0.8M173.0 401.0h0.8M165.7 403.6h0.8M167.8 402.8h0.8M165.3 399.1h0.8M175.5 404.4h0.8M175.2 401.3h0.8M172.4 406.8h0.8M168.8 395.7h0.8M169.2 404.3h0.8M170.5 407.4h0.8M173.9 402.4h0.8M175.7 400.9h0.8M172.4 404.7h0.8M175.3 397.2h0.8M171.3 397.6h0.8M174.7 405.3h0.8M173.4 393.9h0.8M170.1 393.0h0.8M168.4 397.7h0.8M173.8 405.9h0.8M167.0 406.8h0.8M175.6 392.6h0.8M174.4 404.1h0.8M173.9 397.7h0.8M177.5 403.2h0.8M170.9 390.6h0.8M172.0 393.5h0.8M172.6 409.1h0.8M176.4 407.5h0.8M171.4 394.8h0.8M172.3 403.4h0.8M172.3 400.6h0.8M173.3 393.0h0.8M176.2 394.7h0.8M173.2 396.7h0.8M177.2 398.9h0.8M169.8 400.1h0.8M175.7 394.3h0.8M168.6 399.0h0.8M175.3 383.0h0.8M172.2 408.8h0.8M172.4 390.2h0.8M171.4 406.7h0.8M169.2 400.6h0.8M170.7 405.2h0.8M180.9 403.1h0.8M171.9 399.8h0.8M174.4 407.7h0.8M173.5 404.9h0.8M173.4 394.5h0.8M175.4 408.4h0.8M170.3 390.8h0.8M170.8 403.8h0.8M177.4 404.0h0.8M162.2 398.4h0.8M173.0 404.2h0.8M167.9 400.1h0.8M173.3 407.2h0.8M170.6 399.6h0.8M171.3 405.9h0.8M179.3 403.8h0.8M173.3 396.4h0.8M172.5 412.1h0.8M175.5 399.2h0.8M173.6 396.5h0.8M174.9 401.5h0.8M175.4 410.9h0.8M170.9 407.9h0.8M174.2 399.0h0.8M173.7 410.9h0.8M173.4 409.1h0.8M174.0 411.0h0.8M172.4 400.3h0.8M174.9 387.1h0.8M178.1 399.2h0.8M170.4 405.2h0.8M177.9 397.8h0.8M175.7 399.1h0.8M176.4 405.7h0.8M177.6 401.9h0.8M175.6 394.0h0.8M169.7 406.0h0.8M173.2 408.5h0.8M180.4 398.3h0.8M169.0 395.4h0.8M170.8 410.4h0.8M174.1 400.5h0.8M175.1 401.4h0.8M173.7 402.4h0.8M168.4 408.0h0.8M173.2 398.5h0.8M173.4 397.6h0.8M172.7 400.0h0.8M174.0 396.3h0.8M172.5 399.7h0.8M169.6 402.0h0.8M175.2 407.4h0.8M173.9 401.7h0.8M176.0 400.6h0.8M175.1 390.8h0.8M168.9 397.5h0.8M176.6 400.7h0.8M174.4 395.0h0.8M172.9 398.0h0.8M173.7 400.8h0.8M171.3 385.7h0.8M173.6 387.5h0.8M171.2 392.1h0.8M179.5 393.7h0.8M171.6 405.0h0.8M171.8 404.1h0.8M176.0 398.1h0.8M174.6 401.6h0.8M168.5 404.4h0.8M169.3 409.4h0.8M172.9 403.6h0.8M176.2 396.8h0.8M170.3 412.1h0.8M175.3 405.3h0.8M166.3 402.6h0.8M169.8 398.3h0.8M167.5 391.2h0.8M171.5 405.0h0.8M171.2 401.2h0.8M173.2 411.5h0.8M171.0 403.3h0.8M182.1 402.2h0.8M175.7 394.3h0.8M169.4 399.3h0.8M183.2 398.1h0.8M177.6 399.0h0.8M168.7 389.6h0.8M173.5 409.5h0.8M170.3 399.6h0.8M169.2 397.4h0.8M176.4 398.7h0.8M169.4 406.5h0.8M173.8 402.0h0.8M179.9 404.4h0.8M176.8 393.9h0.8M172.7 411.0h0.8M175.5 408.6h0.8M168.0 400.4h0.8M178.6 412.3h0.8M162.5 389.5h0.8M177.6 407.7h0.8M177.5 383.3h0.8M173.3 407.8h0.8M177.1 395.7h0.8M176.6 407.7h0.8M177.3 408.4h0.8M171.4 404.2h0.8M181.3 396.5h0.8M179.8 405.3h0.8M170.6 397.4h0.8M178.2 404.5h0.8M170.7 401.0h0.8M171.6 401.4h0.8M179.2 397.6h0.8M171.9 381.6h0.8M174.7 408.7h0.8M180.1 398.1h0.8M172.0 399.6h0.8M168.7 402.3h0.8M170.3 400.7h0.8M173.5 407.4h0.8M174.1 405.9h0.8M174.8 401.6h0.8M176.3 403.3h0.8M168.3 398.7h0.8M178.1 391.3h0.8M179.1 403.1h0.8M173.9 410.8h0.8M173.8 399.0h0.8M165.4 398.1h0.8M168.9 407.0h0.8M173.3 395.8h0.8M177.1 408.3h0.8M180.7 404.1h0.8M168.7 403.0h0.8M175.6 408.3h0.8M168.4 405.5h0.8M175.3 404.9h0.8M167.3 399.1h0.8M172.6 400.7h0.8M176.2 399.6h0.8M166.6 387.8h0.8M174.7 396.7h0.8M172.9 409.7h0.8M171.2 402.0h0.8M168.0 394.0h0.8M175.0 410.1h0.8M170.7 400.9h0.8M174.1 399.2h0.8M173.3 399.5h0.8M175.1 398.7h0.8M171.3 392.9h0.8M170.3 392.1h0.8M172.5 408.9h0.8M168.5 396.4h0.8M170.3 405.3h0.8M171.9 400.0h0.8M169.7 400.4h0.8M171.8 396.7h0.8M177.9 405.5h0.8M172.4 404.3h0.8M181.0 406.3h0.8M171.1 401.9h0.8M177.0 405.2h0.8M172.0 402.8h0.8M169.1 400.0h0.8M171.6 400.5h0.8M177.7 402.3h0.8M177.1 402.1h0.8M167.8 410.3h0.8M171.1 401.3h0.8M176.9 411.5h0.8M173.6 410.7h0.8M171.3 406.5h0.8M169.8 408.7h0.8M171.0 406.5h0.8M168.8 411.8h0.8M178.7 400.4h0.8M173.2 395.7h0.8M172.3 392.4h0.8M175.5 401.6h0.8M177.1 402.1h0.8M172.2 396.5h0.8M175.2 401.3h0.8M168.8 392.1h0.8M176.3 401.4h0.8M172.8 398.4h0.8M171.2 402.0h0.8M173.7 394.1h0.8M181.6 408.2h0.8M166.3 402.5h0.8M176.9 397.7h0.8M168.2 405.7h0.8M170.8 402.0h0.8M178.8 402.1h0.8M177.7 396.8h0.8M166.6 399.5h0.8M171.7 406.6h0.8M174.6 388.8h0.8M169.1 399.1h0.8M170.5 397.7h0.8M171.9 403.1h0.8M167.8 395.9h0.8M169.8 410.1h0.8M172.4 392.2h0.8M174.7 408.3h0.8M167.4 393.9h0.8M174.6 402.4h0.8M175.3 408.7h0.8M171.3 411.5h0.8M170.6 404.3h0.8M166.0 399.3h0.8M175.7 395.9h0.8M171.4 387.6h0.8M171.8 393.3h0.8M173.2 398.8h0.8M170.6 399.8h0.8M171.6 402.0h0.8M172.1 409.6h0.8M176.7 385.3h0.8M177.7 400.6h0.8M174.2 396.0h0.8M175.1 405.8h0.8M171.0 394.5h0.8M174.8 405.0h0.8M169.9 387.8h0.8M169.1 404.7h0.8M177.4 395.5h0.8M171.0 394.8h0.8M174.2 396.7h0.8M178.9 405.9h0.8M172.3 399.3h0.8M176.5 399.4h0.8M171.7 402.7h0.8M176.7 411.5h0.8M171.8 393.9h0.8M169.9 400.9h0.8M175.2 384.5h0.8M175.3 404.7h0.8M173.7 392.2h0.8M173.4 398.6h0.8M169.8 406.0h0.8M177.4 403.2h0.8M175.0 408.6h0.8M173.2 399.2h0.8M178.2 397.8h0.8M172.0 404.2h0.8M171.6 395.6h0.8M176.8 401.8h0.8M170.7 398.1h0.8M175.1 407.3h0.8M173.8 409.6h0.8M173.0 412.4h0.8M176.2 394.4h0.8M172.8 404.1h0.8M173.0 395.4h0.8M174.7 401.5h0.8M168.0 393.5h0.8M171.8 408.0h0.8M173.0 403.2h0.8M176.3 400.5h0.8M173.1 401.5h0.8M176.2 397.6h0.8M174.4 397.2h0.8M173.4 409.2h0.8M170.4 405.1h0.8M173.4 403.4h0.8M174.9 402.5h0.8M170.8 394.8h0.8M175.7 404.5h0.8M179.9 397.8h0.8M175.6 398.3h0.8M171.5 398.0h0.8M170.4 395.7h0.8M172.0 400.9h0.8M173.3 407.3h0.8M170.1 401.4h0.8M170.2 407.4h0.8M170.0 399.6h0.8M170.5 409.0h0.8M169.1 394.4h0.8M171.8 399.6h0.8M170.0 409.3h0.8M171.3 388.2h0.8M172.5 393.3h0.8M170.9 398.7h0.8M170.1 399.2h0.8M171.8 406.0h0.8M181.6 397.4h0.8M171.6 409.3h0.8M178.8 407.1h0.8M173.4 409.8h0.8M171.3 393.9h0.8M177.6 396.1h0.8M169.6 402.8h0.8M170.0 406.3h0.8M173.4 400.6h0.8M171.3 411.5h0.8M177.7 409.4h0.8M174.9 397.5h0.8M167.6 397.6h0.8M177.1 399.0h0.8M178.6 393.5h0.8M175.3 401.2h0.8M168.5 404.4h0.8M171.8 400.1h0.8M166.2 395.4h0.8M170.9 401.0h0.8M171.8 403.3h0.8M172.0 410.3h0.8M175.0 408.5h0.8M168.0 403.0h0.8M172.6 406.1h0.8M170.9 402.9h0.8M169.8 399.6h0.8M174.3 398.7h0.8M170.3 401.0h0.8M174.2 404.7h0.8M169.2 399.1h0.8M169.2 395.4h0.8M181.0 409.9h0.8M175.4 400.1h0.8M175.9 412.1h0.8M177.2 406.7h0.8M175.6 407.6h0.8M174.3 404.4h0.8M171.7 390.8h0.8M174.7 406.4h0.8M173.0 407.0h0.8M172.6 401.4h0.8M175.2 390.8h0.8M177.7 399.4h0.8M174.9 406.0h0.8M168.7 395.7h0.8M173.6 391.2h0.8M175.1 401.2h0.8M170.4 407.5h0.8M169.9 397.1h0.8M173.0 407.7h0.8M172.4 399.7h0.8M173.7 399.5h0.8M166.8 408.0h0.8M174.6 409.2h0.8M173.4 405.1h0.8M167.4 393.0h0.8M166.6 409.7h0.8M170.7 410.7h0.8M174.4 399.0h0.8M172.7 396.8h0.8M171.5 404.2h0.8M175.2 398.8h0.8M167.7 409.4h0.8M169.3 406.7h0.8M167.9 396.0h0.8M166.3 406.3h0.8M179.2 402.8h0.8M166.1 400.5h0.8M173.8 404.4h0.8M173.5 395.3h0.8M171.1 399.4h0.8M168.9 397.9h0.8M176.9 404.4h0.8M171.2 399.6h0.8M175.6 398.2h0.8M170.2 399.9h0.8M164.3 409.5h0.8M170.2 406.9h0.8M172.9 408.6h0.8M174.7 400.6h0.8M173.9 388.3h0.8M169.1 388.5h0.8M174.0 392.4h0.8M167.7 404.5h0.8M175.0 400.6h0.8M177.8 403.6h0.8M179.7 407.5h0.8M179.8 384.6h0.8M175.4 407.1h0.8M177.9 405.9h0.8M174.2 404.1h0.8M173.6 405.7h0.8M178.3 391.4h0.8M171.4 392.4h0.8M170.9 403.8h0.8M173.5 404.5h0.8M175.3 404.8h0.8M171.8 401.2h0.8M169.3 399.1h0.8M172.5 404.5h0.8M167.6 409.2h0.8M172.6 391.8h0.8M172.3 405.8h0.8M173.2 399.3h0.8M169.9 403.4h0.8M173.4 404.0h0.8M171.6 410.0h0.8M166.8 402.0h0.8M167.4 389.2h0.8M173.4 407.5h0.8M171.9 404.9h0.8M172.2 409.5h0.8M170.8 405.5h0.8M173.9 391.7h0.8M176.8 398.2h0.8M169.0 397.7h0.8M175.7 399.3h0.8M175.4 395.8h0.8M173.7 390.7h0.8M171.8 410.4h0.8M171.1 403.1h0.8M172.1 404.9h0.8M171.5 395.2h0.8M171.6 399.8h0.8M169.3 400.9h0.8M169.5 398.8h0.8M163.3 395.6h0.8M173.8 403.4h0.8M172.0 404.7h0.8M178.5 404.3h0.8M173.2 401.4h0.8M173.9 406.1h0.8M176.0 405.0h0.8M170.8 401.2h0.8M170.2 410.7h0.8M170.5 391.5h0.8M172.0 396.4h0.8M173.4 402.9h0.8M169.9 392.0h0.8M171.6 393.6h0.8M172.1 403.1h0.8M171.4 403.0h0.8M166.8 394.9h0.8M176.5 394.0h0.8M174.8 400.5h0.8M172.7 392.8h0.8M171.4 401.0h0.8M165.6 402.0h0.8M171.2 387.4h0.8M173.2 399.6h0.8M167.7 409.3h0.8M172.3 394.6h0.8M169.7 403.8h0.8M170.9 406.5h0.8M168.5 403.6h0.8M174.2 405.3h0.8M170.0 395.8h0.8M168.9 402.5h0.8M171.8 409.6h0.8M171.6 410.4h0.8M171.8 408.4h0.8M176.0 403.8h0.8M168.5 404.6h0.8M173.2 399.9h0.8M171.9 406.4h0.8M165.8 405.4h0.8M177.9 397.6h0.8M176.7 398.9h0.8M171.6 399.6h0.8M172.6 397.0h0.8M170.7 400.4h0.8M169.6 401.5h0.8M176.0 396.5h0.8M173.3 397.0h0.8M168.8 401.8h0.8M171.7 408.2h0.8M174.9 402.5h0.8M170.5 410.6h0.8M168.3 397.0h0.8M175.0 404.5h0.8M174.7 400.5h0.8M175.0 409.3h0.8M166.3 405.2h0.8M175.8 395.3h0.8M169.5 404.2h0.8M174.6 401.7h0.8M167.3 403.2h0.8M172.3 399.4h0.8M176.0 388.2h0.8M172.9 398.0h0.8M174.5 399.8h0.8M178.3 403.0h0.8M170.9 391.5h0.8M171.7 401.5h0.8M177.8 404.2h0.8M173.2 396.0h0.8M173.3 395.7h0.8M168.0 404.7h0.8M171.2 393.3h0.8M176.3 409.6h0.8M174.1 391.4h0.8M169.9 395.6h0.8M175.6 401.1h0.8M169.9 392.9h0.8M170.2 402.9h0.8M171.8 405.0h0.8M174.3 394.6h0.8M175.4 402.0h0.8M177.9 400.9h0.8M171.5 401.1h0.8M176.6 405.1h0.8M176.5 408.4h0.8M172.4 400.4h0.8M176.3 394.5h0.8M173.7 408.2h0.8M169.7 389.8h0.8M168.0 409.0h0.8M180.8 396.1h0.8M168.4 393.8h0.8M177.8 406.6h0.8M174.9 397.2h0.8M174.8 397.1h0.8M174.5 397.0h0.8M168.5 398.9h0.8M174.0 403.9h0.8M170.9 407.6h0.8M167.4 389.3h0.8M174.7 400.8h0.8M172.6 398.9h0.8M174.4 403.2h0.8M177.2 395.8h0.8M168.6 400.9h0.8M171.9 399.8h0.8M165.6 404.1h0.8M178.2 404.1h0.8M176.8 405.6h0.8M173.6 404.3h0.8M176.3 404.7h0.8M174.9 401.4h0.8M170.3 404.0h0.8M171.4 405.4h0.8M177.1 411.4h0.8M174.0 395.1h0.8M171.5 394.3h0.8M174.1 401.9h0.8M173.3 390.0h0.8M167.8 387.8h0.8M177.4 405.0h0.8M173.0 399.5h0.8M166.9 399.4h0.8M171.4 396.4h0.8M176.1 388.9h0.8M173.3 406.9h0.8M175.5 392.2h0.8M163.6 410.6h0.8M177.5 400.7h0.8M171.9 403.9h0.8M176.4 402.5h0.8M171.7 403.1h0.8M172.9 395.9h0.8M179.2 411.3h0.8M177.8 395.8h0.8M170.9 393.0h0.8M172.4 410.2h0.8M176.0 402.1h0.8M173.7 404.9h0.8M172.4 395.1h0.8M170.6 412.3h0.8M169.8 394.5h0.8M174.8 399.6h0.8M171.8 402.8h0.8M172.5 391.2h0.8M176.1 403.2h0.8M178.6 407.2h0.8M171.0 399.0h0.8M170.5 387.7h0.8M175.4 397.5h0.8M176.2 402.9h0.8M172.5 412.1h0.8M176.8 398.5h0.8M178.8 404.5h0.8M174.1 399.3h0.8M172.8 399.2h0.8M171.8 406.9h0.8M175.7 409.8h0.8M177.0 401.3h0.8M175.5 400.2h0.8M174.9 405.8h0.8M174.3 396.8h0.8M170.3 397.9h0.8M174.3 399.4h0.8M174.4 410.6h0.8M167.8 402.4h0.8M175.0 392.9h0.8M175.5 411.3h0.8M173.1 404.9h0.8M172.0 408.1h0.8M171.3 401.9h0.8M170.8 397.3h0.8M176.9 401.5h0.8M176.0 391.7h0.8M169.0 396.1h0.8M179.4 409.3h0.8M180.5 399.0h0.8M175.1 404.2h0.8M172.2 405.7h0.8M172.9 404.9h0.8M167.1 395.2h0.8M176.0 395.7h0.8M174.7 398.2h0.8M169.3 396.0h0.8M183.0 402.5h0.8M172.7 409.8h0.8M174.0 394.8h0.8M175.7 396.4h0.8M172.8 402.6h0.8M173.1 398.3h0.8M172.1 399.8h0.8M164.6 402.8h0.8M177.0 403.3h0.8M174.5 401.4h0.8M167.2 405.6h0.8M175.3 395.3h0.8M169.3 398.2h0.8M168.6 386.0h0.8M171.7 398.1h0.8M173.4 409.5h0.8M170.0 392.0h0.8M172.7 406.2h0.8M177.9 407.9h0.8M173.5 402.2h0.8M167.3 406.3h0.8M175.7 401.4h0.8M172.0 404.5h0.8M174.5 405.2h0.8M174.4 392.2h0.8M171.2 391.3h0.8M170.4 401.0h0.8M173.9 397.4h0.8M178.7 403.2h0.8M174.7 397.1h0.8M177.4 400.2h0.8M170.3 400.5h0.8M176.8 396.8h0.8M172.3 407.4h0.8M172.1 407.5h0.8M177.1 398.7h0.8M169.1 394.3h0.8M177.3 405.4h0.8M173.3 399.4h0.8M176.6 398.8h0.8M182.1 403.9h0.8M167.7 408.6h0.8M173.9 401.8h0.8M172.4 409.5h0.8M171.4 411.8h0.8M170.5 407.6h0.8M168.0 408.0h0.8M169.8 400.3h0.8M175.5 396.9h0.8M174.8 401.8h0.8M177.4 407.6h0.8M173.8 400.6h0.8M170.0 410.8h0.8M172.2 393.9h0.8M170.3 389.9h0.8M170.1 399.0h0.8M173.8 407.6h0.8M175.8 390.3h0.8M171.4 405.6h0.8M174.1 401.7h0.8M170.3 406.3h0.8M172.7 400.2h0.8M172.6 400.4h0.8M174.0 408.8h0.8M173.2 397.8h0.8M172.6 400.8h0.8M174.6 406.6h0.8M178.5 407.5h0.8M167.3 396.4h0.8M168.8 403.7h0.8M180.8 404.7h0.8M171.1 410.6h0.8M175.0 396.6h0.8M169.8 411.1h0.8M175.5 388.6h0.8M170.5 405.3h0.8M168.4 401.7h0.8M170.0 391.2h0.8M171.2 398.4h0.8M173.9 390.9h0.8M173.8 399.5h0.8M167.6 409.4h0.8M171.4 404.4h0.8M178.2 404.4h0.8M176.1 403.1h0.8M171.0 403.0h0.8M167.7 404.8h0.8M175.7 404.5h0.8M170.7 394.1h0.8M170.4 400.0h0.8M170.2 402.6h0.8M171.3 402.6h0.8M165.7 395.3h0.8M172.8 401.5h0.8M174.2 398.4h0.8M175.7 403.2h0.8M172.8 401.9h0.8M176.5 401.6h0.8M178.1 402.6h0.8M173.7 401.8h0.8M173.9 404.7h0.8M170.8 406.8h0.8M181.5 405.2h0.8M173.3 396.7h0.8M170.3 396.6h0.8M173.8 397.4h0.8M178.3 399.1h0.8M169.9 396.0h0.8M172.6 400.9h0.8M176.0 397.2h0.8M174.0 407.8h0.8M171.9 390.8h0.8M173.7 408.3h0.8M174.2 401.8h0.8M166.4 412.0h0.8M172.3 394.3h0.8M171.8 402.8h0.8M173.0 396.1h0.8M181.0 409.7h0.8M176.3 405.8h0.8M171.6 394.4h0.8M168.6 408.6h0.8M173.2 412.1h0.8M165.3 410.2h0.8M174.5 398.3h0.8M175.9 397.6h0.8M172.0 405.1h0.8M173.4 403.6h0.8M173.6 408.3h0.8M170.0 389.1h0.8M169.8 386.5h0.8M179.4 397.6h0.8M172.8 403.9h0.8M170.3 398.6h0.8M173.8 401.8h0.8M175.6 400.2h0.8M170.6 392.5h0.8M167.2 403.4h0.8M173.9 399.2h0.8M177.0 384.7h0.8M175.1 394.2h0.8M171.7 400.3h0.8M170.4 400.0h0.8M172.9 406.3h0.8M175.7 395.8h0.8M174.5 399.2h0.8M175.9 398.1h0.8M176.5 396.1h0.8M171.3 407.1h0.8M176.3 407.3h0.8M179.6 408.3h0.8M172.9 407.7h0.8M170.1 406.9h0.8M174.2 400.8h0.8M170.4 408.5h0.8M166.1 400.7h0.8M168.1 399.6h0.8M171.4 396.5h0.8M170.8 403.6h0.8M172.2 399.1h0.8M174.9 396.5h0.8M167.9 407.9h0.8M171.5 411.4h0.8M174.0 392.5h0.8M173.9 404.9h0.8M173.1 393.1h0.8M163.4 395.7h0.8M175.1 401.6h0.8M174.2 409.0h0.8M171.1 409.8h0.8M173.7 403.1h0.8M174.4 403.8h0.8M169.8 411.6h0.8M171.2 400.1h0.8M164.9 391.3h0.8M174.8 401.2h0.8M172.5 399.4h0.8M175.0 397.6h0.8M167.9 391.4h0.8M170.2 403.8h0.8M177.7 405.4h0.8M170.6 393.3h0.8M175.7 405.0h0.8M172.7 405.7h0.8M174.9 405.0h0.8M177.4 392.0h0.8M170.7 398.4h0.8M174.1 404.5h0.8M175.6 400.3h0.8M175.7 400.5h0.8M175.4 405.3h0.8M177.3 392.1h0.8M169.8 396.9h0.8M170.1 404.2h0.8M176.1 399.5h0.8M176.5 407.4h0.8M170.9 406.0h0.8M177.7 398.7h0.8M165.5 405.3h0.8M173.9 405.7h0.8M174.6 401.5h0.8M172.9 396.7h0.8M179.5 411.7h0.8M172.4 396.4h0.8M174.4 412.0h0.8M173.1 396.6h0.8M176.1 403.4h0.8M170.2 400.4h0.8M173.5 394.7h0.8M173.9 410.0h0.8M176.5 409.8h0.8M175.4 401.3h0.8M175.0 409.7h0.8M173.1 405.2h0.8M170.8 401.9h0.8M171.3 395.0h0.8M167.2 398.8h0.8M173.6 397.1h0.8M173.5 407.3h0.8M167.5 401.2h0.8M174.9 405.5h0.8M179.1 403.2h0.8M177.1 398.3h0.8M169.9 398.5h0.8M171.5 407.6h0.8M175.5 402.0h0.8M169.9 402.8h0.8M171.6 399.5h0.8M167.1 411.9h0.8M182.0 402.2h0.8M180.4 399.3h0.8M182.3 401.6h0.8M166.8 401.9h0.8M173.6 392.2h0.8M173.5 396.3h0.8M175.8 388.3h0.8M169.7 394.5h0.8M173.3 408.6h0.8M172.0 393.6h0.8M171.3 400.9h0.8M176.9 402.7h0.8M177.6 383.7h0.8M167.7 408.0h0.8M168.6 398.0h0.8M174.7 403.4h0.8M174.0 400.8h0.8M166.7 391.5h0.8M170.1 395.5h0.8M171.4 391.0h0.8M172.6 405.1h0.8M171.3 410.6h0.8M173.7 407.9h0.8M170.0 403.3h0.8M168.2 389.7h0.8M167.1 399.3h0.8M174.0 399.5h0.8M176.5 402.7h0.8M173.0 402.8h0.8M176.3 412.3h0.8M168.2 402.6h0.8M171.4 402.1h0.8M181.0 400.5h0.8M164.7 407.5h0.8M171.4 396.0h0.8M176.4 403.6h0.8M170.5 411.4h0.8M172.1 403.4h0.8M172.4 403.0h0.8M166.2 394.1h0.8M168.6 387.8h0.8M169.0 398.7h0.8M172.3 401.4h0.8M171.5 408.7h0.8M165.9 398.5h0.8M172.2 396.3h0.8M177.6 401.2h0.8M176.7 405.5h0.8M172.0 408.3h0.8M168.0 394.0h0.8M171.6 386.4h0.8M171.5 400.6h0.8M167.0 395.2h0.8M177.2 405.8h0.8M173.7 410.5h0.8M173.3 410.0h0.8M176.6 398.3h0.8M175.1 409.2h0.8M174.0 399.2h0.8M176.0 409.4h0.8M172.9 405.3h0.8M173.4 403.6h0.8M174.2 399.3h0.8M175.5 404.3h0.8M178.9 403.9h0.8M173.4 394.0h0.8M180.7 400.4h0.8M171.3 400.1h0.8M173.0 401.3h0.8M178.7 398.8h0.8M172.2 399.0h0.8M175.1 391.3h0.8M176.4 399.5h0.8M168.1 411.5h0.8M168.5 406.5h0.8M173.0 397.6h0.8M167.3 397.3h0.8M175.6 401.4h0.8M171.0 408.2h0.8M173.1 402.4h0.8M170.0 392.9h0.8M171.4 403.8h0.8M171.6 403.9h0.8M172.1 400.3h0.8M172.8 404.1h0.8M165.4 401.8h0.8M172.3 399.0h0.8M176.3 409.3h0.8M176.9 406.6h0.8M174.5 402.7h0.8M175.5 397.6h0.8M172.5 403.9h0.8M172.5 393.8h0.8M172.7 399.1h0.8M170.8 405.8h0.8M176.6 402.4h0.8M169.1 400.7h0.8M172.3 395.0h0.8M170.9 402.7h0.8M171.0 404.6h0.8M168.5 406.0h0.8M170.6 402.6h0.8M173.0 398.5h0.8M176.5 390.3h0.8M173.6 405.9h0.8M172.1 401.4h0.8M169.1 401.5h0.8M173.5 397.9h0.8M173.0 399.4h0.8M169.5 401.2h0.8M170.3 407.4h0.8M170.3 410.7h0.8M172.9 401.6h0.8M170.4 404.5h0.8M169.4 391.8h0.8M174.4 388.3h0.8M176.8 398.3h0.8M178.3 403.2h0.8M178.5 392.3h0.8M171.4 403.4h0.8M171.0 402.1h0.8M172.4 405.9h0.8M177.8 387.8h0.8M175.1 394.3h0.8M178.5 392.2h0.8M170.1 405.0h0.8M172.3 406.1h0.8M174.2 396.8h0.8M167.4 409.1h0.8M172.2 401.0h0.8M171.9 400.0h0.8M170.4 402.0h0.8M173.8 393.7h0.8M167.5 405.2h0.8M175.9 398.2h0.8M172.4 398.5h0.8M174.3 401.2h0.8M171.0 396.8h0.8M174.4 404.0h0.8M171.5 404.2h0.8M162.3 398.9h0.8M173.5 388.7h0.8M170.9 403.2h0.8M177.3 404.1h0.8M168.7 407.3h0.8M172.0 406.9h0.8M168.1 391.2h0.8M167.5 405.4h0.8M177.0 403.2h0.8M173.5 400.9h0.8M173.6 395.1h0.8M177.2 406.8h0.8M176.2 401.1h0.8M175.8 407.9h0.8M181.6 408.5h0.8M170.4 396.6h0.8M175.9 404.8h0.8M174.8 402.0h0.8M170.2 402.6h0.8M167.9 403.4h0.8M180.8 406.3h0.8M170.0 396.1h0.8M181.2 405.8h0.8M171.2 405.3h0.8M171.8 394.9h0.8M173.4 404.9h0.8M177.4 393.7h0.8M178.0 400.1h0.8M166.1 408.0h0.8M176.4 405.1h0.8M175.8 396.0h0.8M174.7 391.2h0.8M178.7 404.2h0.8M174.7 402.2h0.8M175.1 403.0h0.8M169.7 399.4h0.8M166.3 396.1h0.8M172.4 404.1h0.8M180.7 391.3h0.8M180.2 399.0h0.8M171.5 401.2h0.8M180.5 394.8h0.8M171.7 405.1h0.8M176.3 404.2h0.8M173.4 407.9h0.8M169.6 411.7h0.8M171.3 404.1h0.8M169.8 397.8h0.8M176.4 405.3h0.8M172.3 406.8h0.8M184.2 386.1h0.8M165.8 402.9h0.8M167.0 408.2h0.8M170.1 401.7h0.8M178.3 390.9h0.8M175.3 399.8h0.8M178.1 403.8h0.8M170.4 398.9h0.8M173.2 412.5h0.8M173.3 398.4h0.8M171.6 407.1h0.8M176.1 402.7h0.8M173.4 399.6h0.8M164.7 409.2h0.8M178.2 400.4h0.8M174.0 393.1h0.8M172.3 402.9h0.8M172.7 402.1h0.8M176.4 406.2h0.8M175.7 398.1h0.8M171.2 401.7h0.8M167.4 392.6h0.8M174.1 401.8h0.8M173.3 409.3h0.8M165.5 404.3h0.8M172.2 393.4h0.8M175.3 410.7h0.8M167.8 402.0h0.8M176.3 402.0h0.8M171.4 407.9h0.8M167.0 401.5h0.8M170.7 401.3h0.8M168.6 402.9h0.8M177.3 404.6h0.8M168.5 398.5h0.8M170.3 392.3h0.8M175.5 404.9h0.8M172.4 411.1h0.8M175.5 398.0h0.8M173.1 400.9h0.8M173.0 410.1h0.8M177.4 395.6h0.8M179.8 391.6h0.8M175.4 409.2h0.8M173.5 405.0h0.8M170.7 411.1h0.8M172.3 398.4h0.8M167.8 395.3h0.8M174.7 402.0h0.8M179.0 405.8h0.8M174.2 396.8h0.8M174.9 392.7h0.8M170.4 410.6h0.8M174.0 394.5h0.8M170.8 401.0h0.8M174.1 403.1h0.8M175.8 382.9h0.8M175.5 389.9h0.8M171.4 402.6h0.8M176.7 397.9h0.8M168.4 396.6h0.8M168.7 398.5h0.8M170.5 409.0h0.8M175.0 400.8h0.8M174.1 411.9h0.8M172.0 394.7h0.8M173.1 394.0h0.8M173.8 407.4h0.8M171.7 407.7h0.8M171.8 405.6h0.8M175.8 407.0h0.8M176.3 405.0h0.8M175.4 407.7h0.8M174.7 405.6h0.8M174.0 401.5h0.8M166.7 401.4h0.8M173.2 398.4h0.8M171.5 409.9h0.8M172.1 387.6h0.8M171.2 401.1h0.8M177.3 403.8h0.8M174.8 398.5h0.8M171.1 391.8h0.8M175.2 402.1h0.8M170.6 402.3h0.8M176.9 407.8h0.8M175.8 409.2h0.8M173.9 401.9h0.8M173.0 405.0h0.8M167.1 403.7h0.8M173.2 396.3h0.8M171.1 409.3h0.8M171.7 401.3h0.8M178.2 395.8h0.8M172.9 399.3h0.8M171.2 400.8h0.8M174.9 400.2h0.8M176.3 406.6h0.8M169.3 402.3h0.8M172.4 393.7h0.8M166.9 408.3h0.8M174.1 409.7h0.8M178.5 406.8h0.8M174.3 410.0h0.8M172.6 399.4h0.8M176.4 406.1h0.8M171.3 399.3h0.8M171.7 398.8h0.8M171.0 398.7h0.8M173.5 402.2h0.8M175.8 386.2h0.8M173.5 412.5h0.8M173.2 398.2h0.8M179.9 398.7h0.8M175.4 403.4h0.8M172.5 395.6h0.8M173.6 403.2h0.8M179.3 392.3h0.8M167.7 405.4h0.8M167.9 384.0h0.8M171.9 409.1h0.8M166.7 392.4h0.8M178.1 396.3h0.8M170.0 400.9h0.8M178.5 400.7h0.8M175.7 400.9h0.8M169.3 403.6h0.8M166.8 408.4h0.8M167.5 402.8h0.8M165.6 401.2h0.8M174.4 397.2h0.8M179.7 401.9h0.8M174.5 392.6h0.8M171.3 403.3h0.8M175.6 405.6h0.8M168.2 392.5h0.8M169.2 409.0h0.8M167.0 394.1h0.8M173.4 401.5h0.8M172.8 396.6h0.8M174.2 401.1h0.8M172.3 403.3h0.8M172.2 400.7h0.8M176.9 406.3h0.8M173.3 402.7h0.8M177.7 393.4h0.8M166.4 402.0h0.8M167.1 395.1h0.8M173.8 403.1h0.8M171.8 397.0h0.8M168.0 397.3h0.8M170.2 401.6h0.8M176.2 400.0h0.8M169.1 404.5h0.8M177.1 403.8h0.8M171.4 399.4h0.8M171.9 395.2h0.8M176.1 399.9h0.8M179.6 409.4h0.8M171.3 396.9h0.8M166.9 401.9h0.8M174.3 399.5h0.8M172.6 404.8h0.8M170.3 401.5h0.8M172.1 411.3h0.8M175.3 401.2h0.8M169.5 400.9h0.8M170.2 399.6h0.8M174.2 406.9h0.8M176.4 398.2h0.8M173.6 401.6h0.8M176.4 407.5h0.8M173.8 405.1h0.8M166.2 404.0h0.8M172.5 401.6h0.8M173.9 394.3h0.8M171.7 407.1h0.8M175.4 403.1h0.8M174.9 396.9h0.8M178.1 388.9h0.8M171.8 397.1h0.8M171.4 403.3h0.8M173.4 408.0h0.8M179.5 405.1h0.8M169.8 402.0h0.8M170.4 396.9h0.8M171.6 407.8h0.8M170.3 404.0h0.8M170.4 407.4h0.8M176.9 392.9h0.8M175.5 396.5h0.8M174.1 401.3h0.8M175.9 394.0h0.8M179.5 404.1h0.8M170.8 409.8h0.8M177.6 405.2h0.8M171.3 396.9h0.8M170.0 412.0h0.8M173.2 401.8h0.8M171.8 409.6h0.8M171.8 407.3h0.8M166.9 397.0h0.8M174.1 395.9h0.8M179.5 389.1h0.8M174.3 405.3h0.8M174.5 401.5h0.8M173.9 398.1h0.8M172.9 408.8h0.8M177.6 398.4h0.8M165.2 409.4h0.8M179.5 392.6h0.8M171.3 401.4h0.8M172.1 405.7h0.8M172.6 405.7h0.8M170.2 392.1h0.8M179.2 403.6h0.8M174.3 394.7h0.8M174.6 401.7h0.8M174.7 402.7h0.8M176.6 410.7h0.8M171.8 399.6h0.8M175.5 392.9h0.8M170.6 399.7h0.8M172.1 400.6h0.8M169.0 405.4h0.8M171.5 394.5h0.8M174.2 411.6h0.8M168.0 401.8h0.8M180.4 400.7h0.8M170.6 412.0h0.8M173.8 407.8h0.8M178.6 406.0h0.8M167.9 394.9h0.8M172.2 398.1h0.8M172.4 390.2h0.8M167.5 406.5h0.8M172.3 404.6h0.8M171.7 401.9h0.8M176.6 393.6h0.8M171.5 404.2h0.8M171.6 401.7h0.8M173.7 390.4h0.8M175.5 405.0h0.8M169.7 400.8h0.8M172.7 400.3h0.8M173.2 392.4h0.8M173.2 404.6h0.8M174.3 404.8h0.8M171.1 402.9h0.8M176.3 402.5h0.8M173.7 402.4h0.8M174.8 393.9h0.8M172.8 407.3h0.8M169.9 405.6h0.8M171.4 399.3h0.8M169.2 396.3h0.8M177.0 392.8h0.8M173.5 393.4h0.8M179.9 406.4h0.8M170.3 394.8h0.8M172.1 404.1h0.8M178.6 411.2h0.8M169.7 403.5h0.8M176.1 397.5h0.8M171.4 407.8h0.8M168.3 402.2h0.8M172.8 400.2h0.8M173.1 391.8h0.8M175.8 399.1h0.8M177.8 396.9h0.8M172.1 409.6h0.8M170.5 399.8h0.8" stroke="#000" stroke-width="0.8" fill="none"/>
<path d="M175.8 349.0h0.7M183.3 349.4h0.7M172.0 348.7h0.7M185.0 351.5h0.7M174.1 348.4h0.7M183.3 351.4h0.7M172.9 353.4h0.7M180.7 347.3h0.7M182.4 354.1h0.7M173.4 346.2h0.7M182.1 349.4h0.7M173.7 349.6h0.7M173.3 353.2h0.7M168.0 352.2h0.7M182.5 353.9h0.7M179.7 351.4h0.7M173.8 350.1h0.7M169.4 355.9h0.7M174.3 347.2h0.7M180.4 355.4h0.7M176.8 349.5h0.7M167.9 352.6h0.7M173.5 348.4h0.7M178.9 346.3h0.7M179.8 342.6h0.7M171.1 345.9h0.7M173.5 353.1h0.7M166.7 354.9h0.7M170.7 348.9h0.7M181.4 348.1h0.7M184.4 349.8h0.7M174.4 347.4h0.7M182.4 350.3h0.7M172.0 347.4h0.7M171.0 350.2h0.7M170.5 353.1h0.7M174.8 348.5h0.7M178.0 355.1h0.7M161.7 351.7h0.7M182.0 350.9h0.7M180.3 345.5h0.7M170.3 353.8h0.7M174.5 350.7h0.7M179.1 351.7h0.7M177.9 348.9h0.7M173.2 354.7h0.7M171.9 345.9h0.7M172.8 353.4h0.7M186.5 351.0h0.7M171.1 352.5h0.7M177.0 354.3h0.7M178.4 352.9h0.7M178.3 351.9h0.7M169.3 350.0h0.7M185.3 354.8h0.7M181.2 351.8h0.7M174.4 351.6h0.7M173.0 354.0h0.7M173.1 348.1h0.7M164.9 355.5h0.7M170.3 347.7h0.7M177.7 356.3h0.7M179.4 349.4h0.7M178.7 347.8h0.7M173.5 350.6h0.7M175.2 353.0h0.7M178.6 356.6h0.7M180.4 349.6h0.7M176.8 347.8h0.7M171.3 349.4h0.7M181.6 348.3h0.7M165.3 347.2h0.7M167.5 349.9h0.7M173.2 346.8h0.7M170.1 349.2h0.7M177.7 352.5h0.7M183.5 349.7h0.7M179.2 350.8h0.7M168.3 348.5h0.7M189.0 350.0h0.7M185.6 353.2h0.7M185.7 349.9h0.7M181.1 349.5h0.7M168.2 346.8h0.7M178.0 345.3h0.7M177.5 347.7h0.7M177.5 346.1h0.7M180.6 349.8h0.7M165.6 345.9h0.7M175.6 345.3h0.7M177.3 352.1h0.7M171.1 355.0h0.7M184.3 351.5h0.7M178.1 352.0h0.7M173.6 354.7h0.7M171.9 342.4h0.7M175.4 351.9h0.7M180.4 347.0h0.7M184.0 347.9h0.7M179.2 352.9h0.7M176.4 354.1h0.7M172.1 357.1h0.7M178.3 349.2h0.7M191.6 350.5h0.7M165.1 355.1h0.7M185.0 348.7h0.7M169.0 354.1h0.7M175.6 347.4h0.7M172.2 350.7h0.7M181.4 355.5h0.7M171.4 355.4h0.7M165.8 352.8h0.7M174.4 351.9h0.7M172.5 348.2h0.7M177.0 354.1h0.7M161.3 350.7h0.7M172.7 347.1h0.7M166.8 352.2h0.7M178.8 352.6h0.7M162.8 345.6h0.7M171.4 349.1h0.7M186.4 349.3h0.7M176.1 353.7h0.7M185.8 351.7h0.7M177.4 356.7h0.7M172.7 344.7h0.7M170.5 349.5h0.7M183.5 351.5h0.7M182.8 350.8h0.7M175.5 348.7h0.7M167.5 352.1h0.7M177.5 352.4h0.7M171.9 349.2h0.7M177.6 352.5h0.7M187.8 347.7h0.7M181.5 353.4h0.7M173.6 351.0h0.7M174.9 355.4h0.7M191.3 351.5h0.7M173.7 353.6h0.7M178.4 349.9h0.7M180.0 353.3h0.7M172.8 353.2h0.7M161.2 346.4h0.7M173.3 351.0h0.7M166.1 355.3h0.7M172.9 351.0h0.7M175.0 352.9h0.7M171.6 352.9h0.7M170.1 345.7h0.7M178.5 351.0h0.7M180.8 344.3h0.7M176.0 348.4h0.7M174.1 349.2h0.7M172.9 348.4h0.7M181.7 345.0h0.7M164.8 351.6h0.7M187.9 348.0h0.7M169.6 346.7h0.7M168.9 354.5h0.7M179.6 353.4h0.7M177.5 351.3h0.7M171.6 347.4h0.7M179.2 358.5h0.7M173.0 354.6h0.7M170.9 350.6h0.7M185.9 350.3h0.7M179.3 348.7h0.7M187.1 346.5h0.7M178.8 349.7h0.7M176.5 351.7h0.7M183.5 353.3h0.7M181.9 351.7h0.7M168.6 354.8h0.7M184.9 352.1h0.7M180.3 349.8h0.7M166.2 353.7h0.7M170.7 356.7h0.7M179.6 350.4h0.7M171.4 350.9h0.7M168.9 349.3h0.7M185.3 349.6h0.7M186.8 350.2h0.7M177.9 347.5h0.7M173.4 349.1h0.7M166.5 356.8h0.7M179.0 350.2h0.7M168.4 350.6h0.7M168.6 347.4h0.7M174.1 357.5h0.7M164.3 352.3h0.7M171.8 341.1h0.7M166.4 350.1h0.7M175.6 348.1h0.7M186.4 352.2h0.7M171.3 345.2h0.7M176.4 348.3h0.7M181.7 347.1h0.7M182.8 349.0h0.7M176.5 349.6h0.7M179.2 354.2h0.7M171.8 347.6h0.7M187.2 353.6h0.7M187.3 353.6h0.7M176.1 355.8h0.7M171.0 349.1h0.7M172.7 352.7h0.7M169.9 349.9h0.7M169.9 349.7h0.7M182.3 354.1h0.7M173.8 358.8h0.7M170.8 352.0h0.7M172.2 343.3h0.7M167.8 354.5h0.7M164.8 360.0h0.7M174.4 351.4h0.7M183.1 350.6h0.7M171.2 348.5h0.7M169.3 352.3h0.7M172.2 352.2h0.7M165.7 349.1h0.7M188.2 351.7h0.7M174.6 354.4h0.7M177.0 355.5h0.7M167.9 353.0h0.7M168.5 352.7h0.7M190.7 355.5h0.7M169.8 351.9h0.7M178.1 348.2h0.7M176.7 347.0h0.7M181.3 353.5h0.7M174.2 352.7h0.7M190.3 350.0h0.7M163.4 351.6h0.7M172.3 348.0h0.7M180.9 353.8h0.7M179.0 355.8h0.7M171.2 349.2h0.7M177.8 341.7h0.7M157.9 351.6h0.7M173.8 350.7h0.7M169.1 351.2h0.7M181.9 348.5h0.7M178.8 350.0h0.7M174.2 350.9h0.7M184.7 352.2h0.7M179.5 351.0h0.7M161.6 353.6h0.7M175.1 350.8h0.7M172.0 345.5h0.7M184.6 356.5h0.7M185.1 344.5h0.7M178.7 346.7h0.7M174.0 348.8h0.7M171.2 348.0h0.7M172.1 353.0h0.7M185.4 353.5h0.7M175.1 350.0h0.7M173.6 350.4h0.7M171.2 349.9h0.7M180.5 349.8h0.7M170.0 350.1h0.7M175.7 350.3h0.7M173.5 352.8h0.7M174.9 347.2h0.7M178.7 348.2h0.7M180.0 353.2h0.7M178.2 351.5h0.7M166.6 349.9h0.7M175.9 352.6h0.7M168.0 350.0h0.7M165.4 351.1h0.7M175.6 350.9h0.7M185.6 352.9h0.7M173.9 348.6h0.7M172.3 353.1h0.7M180.9 348.9h0.7M174.4 349.1h0.7M179.5 351.1h0.7M170.5 347.6h0.7M183.4 346.0h0.7M163.6 340.5h0.7M188.0 348.8h0.7M180.6 352.3h0.7M180.5 354.2h0.7M172.1 350.5h0.7M181.4 352.3h0.7M170.3 348.0h0.7M165.9 351.4h0.7M171.7 345.4h0.7M171.6 351.6h0.7M176.3 349.8h0.7M176.2 352.6h0.7M167.5 347.9h0.7M181.3 352.9h0.7M166.2 348.2h0.7M184.4 353.0h0.7M174.2 353.8h0.7M183.9 355.1h0.7M166.2 346.3h0.7M171.9 350.3h0.7M172.9 351.3h0.7M184.6 354.1h0.7M181.5 350.5h0.7M185.7 352.0h0.7M176.7 350.4h0.7M163.4 357.5h0.7M175.0 353.4h0.7M189.6 349.9h0.7M167.7 353.8h0.7M176.7 347.4h0.7M181.3 350.5h0.7M169.1 342.3h0.7M168.8 351.8h0.7M168.5 353.7h0.7M189.2 351.5h0.7M176.6 350.3h0.7M180.6 350.6h0.7M181.8 355.1h0.7M180.6 347.4h0.7M179.4 349.7h0.7M177.1 353.7h0.7M170.9 351.2h0.7M184.5 347.8h0.7M173.9 352.9h0.7M173.6 353.8h0.7M168.6 345.6h0.7M177.5 350.1h0.7M177.1 353.6h0.7M181.9 349.4h0.7M172.6 344.2h0.7M168.9 351.3h0.7M176.5 345.7h0.7M180.2 350.4h0.7M182.2 349.4h0.7M181.3 346.9h0.7M163.2 347.9h0.7M179.6 351.8h0.7M163.0 351.0h0.7M179.4 355.9h0.7M180.1 352.2h0.7M165.0 351.7h0.7M162.5 349.6h0.7M172.7 347.4h0.7M168.6 350.1h0.7M178.9 348.4h0.7M177.1 352.8h0.7M175.0 356.7h0.7M173.1 348.1h0.7M162.9 354.0h0.7M179.5 349.9h0.7M177.1 350.1h0.7M180.7 350.5h0.7M176.6 350.3h0.7M169.4 343.3h0.7M178.6 346.5h0.7M177.7 352.6h0.7M187.2 348.1h0.7M176.1 353.6h0.7M170.8 348.6h0.7M178.0 357.2h0.7M182.0 353.6h0.7M168.9 352.6h0.7M182.4 346.4h0.7M175.2 349.9h0.7M179.3 344.9h0.7M179.6 350.5h0.7M173.4 343.7h0.7M161.8 348.8h0.7M179.3 351.9h0.7M179.9 345.0h0.7M176.4 354.9h0.7M165.1 352.6h0.7M170.4 352.3h0.7M175.7 345.3h0.7M168.4 354.6h0.7M174.4 354.5h0.7M177.3 353.4h0.7M172.6 351.2h0.7M172.7 353.4h0.7M171.4 354.1h0.7M185.2 346.6h0.7M174.0 352.3h0.7M186.5 354.2h0.7M175.7 344.9h0.7M180.5 348.6h0.7M176.3 351.8h0.7M166.0 353.9h0.7M181.0 352.4h0.7M178.9 351.7h0.7M166.1 348.9h0.7M180.3 349.4h0.7M175.3 351.7h0.7M175.7 351.3h0.7M178.2 350.5h0.7M168.0 349.6h0.7M181.2 348.3h0.7M178.1 351.5h0.7M169.4 341.4h0.7M175.0 348.0h0.7M171.1 353.5h0.7M170.2 351.6h0.7M175.8 351.1h0.7M187.9 344.2h0.7M181.3 350.0h0.7M173.3 348.4h0.7M175.4 350.7h0.7M169.2 355.8h0.7M170.3 350.1h0.7M166.9 351.0h0.7M177.4 354.0h0.7M181.4 348.9h0.7M185.4 350.2h0.7M185.1 356.0h0.7M172.5 347.1h0.7M178.6 355.1h0.7M177.6 354.0h0.7M178.9 353.4h0.7M183.6 349.6h0.7M166.0 350.1h0.7M170.0 346.7h0.7M174.0 352.8h0.7M163.3 345.6h0.7M180.2 347.7h0.7M172.6 354.8h0.7M182.3 351.7h0.7M178.5 341.8h0.7M178.7 351.7h0.7M166.2 351.1h0.7M178.0 350.1h0.7M180.2 353.3h0.7M175.4 349.7h0.7M167.5 354.2h0.7M171.4 351.5h0.7M184.9 353.0h0.7M166.9 350.2h0.7M170.5 345.2h0.7M169.9 352.4h0.7M177.3 349.8h0.7M176.2 346.8h0.7M170.2 350.0h0.7M180.2 349.5h0.7M174.0 351.6h0.7M184.5 346.5h0.7M178.5 351.1h0.7M174.6 351.3h0.7M162.4 350.6h0.7M173.6 346.6h0.7M180.5 350.1h0.7M172.9 352.9h0.7M169.2 348.2h0.7M180.4 353.3h0.7M188.0 349.0h0.7M165.8 345.8h0.7M167.4 350.8h0.7M173.5 348.3h0.7M168.6 348.3h0.7M172.7 354.3h0.7M179.1 354.9h0.7M180.3 352.9h0.7M182.6 352.0h0.7M184.9 354.1h0.7M186.7 351.2h0.7M170.1 358.6h0.7M173.3 352.2h0.7M172.6 348.3h0.7M177.9 346.9h0.7M174.1 355.0h0.7M175.9 353.1h0.7M179.2 351.7h0.7M175.7 352.5h0.7M168.9 352.4h0.7M168.2 348.1h0.7M171.3 346.2h0.7M162.5 351.7h0.7M178.3 352.6h0.7M189.2 351.1h0.7M179.9 348.1h0.7M179.6 346.9h0.7M187.7 347.4h0.7M172.4 352.9h0.7M161.0 354.8h0.7M169.0 351.1h0.7M181.3 351.0h0.7M181.0 348.9h0.7M178.9 343.5h0.7M184.7 348.4h0.7M169.5 350.6h0.7M185.9 348.2h0.7M174.9 349.3h0.7M169.1 346.3h0.7M178.8 352.8h0.7M170.2 351.2h0.7M177.9 351.7h0.7M174.0 350.6h0.7M176.8 347.1h0.7M174.1 353.0h0.7M171.4 354.7h0.7M173.5 347.0h0.7M173.1 346.2h0.7M178.9 345.4h0.7M175.1 349.7h0.7M173.1 351.9h0.7M176.9 348.7h0.7M180.3 349.1h0.7M180.8 354.8h0.7M177.4 353.5h0.7M166.5 352.3h0.7M165.5 349.9h0.7M179.5 341.9h0.7M170.0 348.0h0.7M169.0 350.6h0.7M179.1 346.8h0.7M171.0 344.6h0.7M170.5 343.8h0.7M165.4 352.0h0.7M180.6 347.9h0.7M177.3 348.0h0.7M181.9 356.1h0.7M159.2 347.7h0.7M170.9 349.0h0.7M185.0 355.5h0.7M174.9 352.5h0.7M164.8 349.6h0.7M173.2 350.0h0.7M176.9 345.5h0.7M168.3 357.3h0.7M163.9 350.7h0.7M179.7 352.1h0.7M175.4 345.3h0.7M172.0 345.5h0.7M187.6 351.7h0.7M179.7 351.2h0.7M172.5 354.3h0.7M180.7 352.5h0.7M178.7 352.9h0.7M173.2 351.9h0.7M175.5 349.7h0.7M179.2 357.3h0.7M162.0 355.1h0.7M172.2 354.3h0.7M168.5 349.9h0.7M181.6 350.3h0.7M177.3 346.6h0.7M167.7 355.8h0.7M176.0 350.2h0.7M166.1 347.2h0.7M168.4 350.3h0.7M174.3 348.6h0.7M170.7 350.9h0.7M182.5 346.0h0.7M165.9 354.1h0.7M165.9 349.2h0.7M175.8 356.3h0.7M161.9 341.2h0.7M174.5 353.9h0.7M175.9 347.9h0.7M176.2 343.9h0.7M180.3 355.2h0.7M173.7 353.1h0.7M168.2 355.2h0.7M170.9 347.9h0.7M170.1 344.8h0.7M179.3 356.9h0.7M165.8 349.9h0.7M177.9 348.7h0.7M165.0 351.6h0.7M181.4 350.8h0.7M168.1 349.5h0.7M162.6 350.3h0.7M182.8 354.1h0.7M174.5 351.9h0.7M171.7 350.9h0.7M171.2 351.0h0.7M171.7 351.1h0.7M179.5 350.4h0.7M166.7 352.1h0.7M173.4 348.9h0.7M178.6 347.8h0.7M181.0 352.3h0.7M170.6 348.3h0.7M174.2 347.6h0.7M181.1 343.3h0.7M176.0 349.4h0.7M168.0 352.5h0.7M171.9 352.0h0.7M172.2 349.6h0.7M178.4 353.6h0.7M181.4 350.4h0.7M184.5 349.4h0.7M166.3 344.5h0.7M165.8 347.7h0.7M163.6 351.6h0.7M175.2 350.4h0.7M176.5 350.2h0.7M173.4 349.5h0.7M175.3 346.9h0.7M183.2 355.4h0.7M175.2 357.8h0.7M168.8 353.4h0.7M164.6 352.4h0.7M170.2 353.7h0.7M175.7 353.6h0.7M178.9 352.2h0.7M173.3 355.6h0.7M177.3 352.1h0.7M184.2 349.7h0.7M186.2 354.0h0.7M175.5 345.8h0.7M182.8 349.5h0.7M175.6 350.9h0.7M181.1 352.5h0.7M163.4 348.4h0.7M177.3 351.1h0.7M180.1 352.3h0.7M185.4 348.2h0.7M183.4 351.7h0.7M176.9 352.7h0.7M172.9 352.8h0.7M173.7 352.8h0.7M170.2 354.3h0.7M165.3 348.4h0.7M174.7 351.3h0.7M169.9 349.2h0.7M176.7 353.9h0.7M183.3 349.0h0.7M174.6 349.5h0.7M165.3 349.1h0.7M182.3 346.2h0.7M193.3 353.7h0.7M186.1 351.1h0.7M160.3 351.9h0.7M185.2 348.7h0.7M183.1 352.9h0.7M180.0 352.9h0.7M178.8 352.6h0.7M182.7 351.9h0.7M179.1 351.9h0.7M175.9 347.7h0.7M163.6 347.2h0.7M167.1 345.8h0.7M179.4 349.4h0.7M183.2 360.6h0.7M180.0 349.0h0.7M177.5 349.9h0.7M176.9 357.2h0.7M185.3 354.6h0.7M176.9 356.2h0.7M180.3 353.4h0.7M167.6 348.5h0.7M176.1 349.8h0.7M171.7 344.1h0.7M170.3 350.2h0.7M177.0 347.1h0.7M174.2 356.3h0.7M176.1 344.2h0.7M173.9 350.5h0.7M183.1 351.1h0.7M183.8 351.6h0.7M182.5 354.9h0.7M184.9 351.1h0.7M179.2 363.2h0.7M167.3 351.2h0.7M178.1 348.2h0.7M180.3 350.0h0.7M180.1 351.1h0.7M169.1 353.9h0.7M187.9 353.5h0.7M176.9 345.0h0.7M177.1 350.4h0.7M170.0 344.3h0.7M177.9 353.7h0.7M179.6 357.9h0.7M163.0 351.7h0.7M174.9 355.1h0.7M174.9 347.4h0.7M174.7 351.9h0.7M170.4 348.0h0.7M176.8 353.3h0.7M173.6 352.1h0.7M171.9 349.4h0.7M176.3 353.6h0.7M185.2 350.1h0.7M177.9 356.9h0.7M180.4 349.4h0.7M177.7 345.9h0.7M161.7 348.1h0.7M170.5 346.2h0.7M181.6 349.1h0.7M175.6 350.8h0.7M173.8 346.7h0.7M187.4 344.1h0.7M174.9 352.8h0.7M173.8 350.2h0.7M177.1 351.3h0.7M172.9 354.0h0.7M178.3 355.4h0.7M175.7 344.1h0.7M164.6 348.9h0.7M178.0 345.2h0.7M171.5 354.6h0.7M177.2 348.2h0.7M174.4 350.9h0.7M172.4 349.5h0.7M171.1 351.2h0.7M185.2 355.2h0.7M167.2 358.0h0.7M174.3 346.0h0.7M165.6 351.0h0.7M176.6 348.5h0.7M170.0 349.8h0.7M176.8 352.7h0.7M178.6 342.8h0.7M171.3 351.4h0.7M177.5 353.1h0.7M165.7 355.6h0.7M167.5 349.9h0.7M172.2 349.0h0.7M170.2 353.2h0.7M180.1 351.7h0.7M167.0 348.5h0.7M174.7 351.8h0.7M171.6 349.7h0.7M191.7 350.7h0.7M173.2 342.6h0.7M170.4 355.8h0.7M180.5 346.7h0.7M180.1 351.1h0.7M170.1 353.1h0.7M171.3 349.5h0.7M175.2 351.2h0.7M172.3 351.5h0.7M175.1 351.2h0.7M177.6 348.5h0.7M166.5 350.3h0.7M182.9 351.6h0.7M176.5 348.1h0.7M167.9 346.5h0.7M169.3 349.3h0.7M165.4 350.1h0.7M165.2 352.6h0.7M175.0 344.8h0.7M171.7 351.3h0.7M177.5 353.0h0.7M172.9 350.0h0.7M173.6 352.3h0.7M170.8 350.0h0.7M176.0 349.4h0.7M168.3 354.9h0.7M178.3 347.6h0.7M187.5 348.0h0.7M169.6 349.3h0.7M178.5 355.4h0.7M183.7 352.3h0.7M175.5 352.7h0.7M170.2 348.2h0.7M178.5 351.2h0.7M176.6 347.2h0.7M176.7 345.9h0.7M180.9 350.6h0.7M171.1 349.0h0.7M192.6 360.7h0.7M170.7 355.0h0.7M156.9 354.2h0.7M175.2 351.4h0.7M169.1 346.3h0.7M176.6 349.1h0.7M178.3 354.0h0.7M174.4 352.3h0.7M176.2 351.3h0.7M171.9 351.3h0.7M177.9 350.8h0.7M172.3 345.8h0.7M168.4 355.6h0.7M181.5 351.5h0.7M177.0 350.0h0.7M179.4 353.6h0.7M173.6 351.5h0.7M181.1 345.4h0.7M169.2 348.7h0.7M167.8 349.1h0.7M169.8 349.2h0.7M178.1 346.7h0.7M175.7 355.0h0.7M176.3 346.6h0.7M171.3 354.3h0.7M173.5 348.5h0.7M180.0 348.2h0.7M168.1 352.5h0.7M175.2 348.4h0.7M178.0 354.1h0.7M181.9 350.9h0.7M178.0 352.1h0.7M165.8 355.9h0.7M171.0 348.7h0.7M170.0 347.4h0.7M182.0 350.5h0.7M171.5 344.6h0.7M176.2 350.4h0.7M168.7 350.2h0.7M161.5 390.1h0.7M167.6 395.5h0.7M169.7 403.0h0.7M174.2 398.2h0.7M166.7 402.9h0.7M175.8 400.6h0.7M179.3 397.5h0.7M176.9 403.1h0.7M167.7 387.0h0.7M177.7 403.5h0.7M174.6 397.6h0.7M169.6 410.3h0.7M175.2 396.8h0.7M173.2 403.3h0.7M167.0 396.1h0.7M175.3 402.1h0.7M166.7 403.4h0.7M182.1 405.8h0.7M167.0 397.4h0.7M170.2 395.0h0.7M169.2 396.5h0.7M172.6 391.4h0.7M177.2 403.5h0.7M181.9 407.5h0.7M177.4 405.0h0.7M172.5 392.7h0.7M176.1 401.8h0.7M170.0 404.2h0.7M174.5 396.0h0.7M179.6 397.3h0.7M173.6 409.3h0.7M170.6 398.6h0.7M175.1 398.5h0.7M170.7 392.3h0.7M174.1 398.1h0.7M176.8 408.9h0.7M172.9 407.0h0.7M170.5 400.1h0.7M171.3 397.3h0.7M176.7 401.1h0.7M169.0 407.0h0.7M173.2 405.5h0.7M174.0 397.6h0.7M164.8 398.8h0.7M169.0 410.4h0.7M172.0 412.5h0.7M183.5 410.1h0.7M183.9 393.9h0.7M170.7 393.1h0.7M166.9 391.2h0.7M177.1 395.0h0.7M171.5 405.5h0.7M178.5 406.6h0.7M180.6 405.2h0.7M173.9 409.6h0.7M177.8 390.7h0.7M178.1 409.0h0.7M173.8 412.0h0.7M167.7 402.8h0.7M169.9 394.7h0.7M174.3 390.0h0.7M172.9 406.5h0.7M169.6 392.8h0.7M175.6 408.2h0.7M177.2 397.0h0.7M171.2 411.7h0.7M177.0 403.7h0.7M174.1 399.9h0.7M175.8 406.6h0.7M173.2 403.3h0.7M166.7 400.1h0.7M180.3 402.9h0.7M166.8 397.6h0.7M173.4 412.3h0.7M182.8 400.9h0.7M172.3 402.2h0.7M168.0 411.3h0.7M167.6 406.8h0.7M171.0 393.2h0.7M167.5 402.9h0.7M169.9 409.4h0.7M166.3 391.4h0.7M171.3 391.3h0.7M177.5 389.8h0.7M173.3 397.4h0.7M177.5 397.2h0.7M176.0 410.9h0.7M179.5 405.0h0.7M174.4 388.4h0.7M165.2 398.1h0.7M174.3 409.8h0.7M169.5 398.7h0.7M182.5 392.7h0.7M172.2 400.4h0.7M165.8 399.0h0.7M165.4 395.8h0.7M180.1 385.8h0.7M165.4 401.3h0.7M174.7 395.6h0.7M175.0 399.7h0.7M171.2 401.9h0.7M178.6 392.2h0.7M176.9 403.4h0.7M172.1 395.6h0.7M174.6 407.4h0.7M168.7 406.9h0.7M173.2 407.6h0.7M174.2 399.7h0.7M174.0 406.2h0.7M166.4 401.3h0.7M162.0 402.8h0.7M170.8 401.4h0.7M177.5 408.4h0.7M179.5 408.4h0.7M172.0 395.1h0.7M184.8 396.0h0.7M171.4 404.5h0.7M169.3 402.4h0.7M174.0 397.1h0.7M168.3 401.5h0.7M175.0 393.7h0.7M173.6 402.0h0.7M169.0 404.4h0.7M166.8 408.2h0.7M169.8 409.1h0.7M173.5 401.7h0.7M166.9 407.0h0.7M175.0 402.8h0.7M173.1 406.5h0.7M175.1 404.3h0.7M177.0 400.1h0.7M180.4 389.6h0.7M165.5 405.7h0.7M172.9 389.6h0.7M167.5 395.7h0.7M178.8 406.2h0.7M165.5 390.9h0.7M173.6 391.8h0.7M170.2 396.7h0.7M173.2 405.7h0.7M169.8 397.2h0.7M174.9 398.4h0.7M177.3 400.2h0.7M166.8 406.3h0.7M180.5 392.6h0.7M176.5 391.8h0.7M172.6 400.3h0.7M171.4 400.4h0.7M176.1 397.3h0.7M172.0 398.9h0.7M174.3 396.3h0.7M176.6 403.5h0.7M170.3 391.4h0.7M171.8 409.0h0.7M175.9 401.3h0.7M175.4 411.9h0.7M171.9 398.4h0.7M174.1 386.7h0.7M173.2 397.3h0.7M179.2 405.5h0.7M180.1 397.7h0.7M179.8 402.3h0.7M175.4 404.3h0.7M167.3 408.2h0.7M171.0 406.1h0.7M172.8 393.6h0.7M171.6 403.4h0.7M178.6 401.9h0.7M171.4 412.3h0.7M173.2 410.1h0.7M166.8 385.9h0.7M176.5 408.2h0.7M172.3 399.9h0.7M175.1 405.2h0.7M172.7 401.3h0.7M174.1 409.5h0.7M176.3 381.3h0.7M174.7 398.8h0.7M178.0 406.7h0.7M170.6 400.5h0.7M162.4 400.2h0.7M168.1 402.1h0.7M169.8 410.7h0.7M178.9 398.4h0.7M169.0 411.1h0.7M166.9 398.5h0.7M171.3 403.0h0.7M173.3 394.1h0.7M177.0 404.1h0.7M181.6 403.1h0.7M171.2 399.0h0.7M172.5 392.9h0.7M169.8 397.2h0.7M175.4 406.9h0.7M161.8 388.8h0.7M170.2 392.9h0.7M172.9 387.6h0.7M172.0 402.7h0.7M174.8 397.8h0.7M175.0 406.9h0.7M171.4 393.0h0.7M170.7 403.4h0.7M174.3 388.1h0.7M166.2 388.7h0.7M181.3 404.4h0.7M173.8 392.0h0.7M175.8 382.1h0.7M180.4 404.1h0.7M172.8 403.1h0.7M177.1 385.8h0.7M174.3 391.3h0.7M171.2 399.5h0.7M171.1 395.4h0.7M173.8 398.0h0.7M174.2 406.9h0.7M169.1 399.6h0.7M169.1 407.4h0.7M176.4 409.0h0.7M177.9 402.0h0.7M168.5 395.3h0.7M178.6 402.1h0.7M176.7 396.7h0.7M177.5 388.9h0.7M169.9 402.2h0.7M177.8 408.6h0.7M176.9 410.6h0.7M176.2 407.7h0.7M169.0 391.8h0.7M170.7 410.9h0.7M179.2 392.8h0.7M171.7 401.7h0.7M175.7 403.7h0.7M179.8 403.1h0.7M172.0 399.2h0.7M178.0 399.2h0.7M175.4 397.9h0.7M167.7 384.6h0.7M171.7 394.9h0.7M176.7 398.2h0.7M168.8 406.7h0.7M171.0 401.7h0.7M174.3 399.3h0.7M172.6 385.1h0.7M178.8 401.1h0.7M178.3 394.6h0.7M179.6 396.1h0.7M170.7 401.3h0.7M172.3 402.0h0.7M173.7 399.9h0.7M175.0 397.7h0.7M179.1 406.4h0.7M167.8 397.0h0.7M171.5 408.4h0.7M164.2 409.6h0.7M164.1 396.3h0.7M169.1 398.4h0.7M176.6 408.2h0.7M172.5 399.5h0.7M168.6 410.1h0.7M165.9 396.0h0.7M171.6 404.5h0.7M170.2 402.8h0.7M163.3 406.1h0.7M170.6 404.4h0.7M172.4 393.6h0.7M165.9 393.5h0.7M172.8 406.7h0.7M178.1 408.6h0.7M182.4 408.8h0.7M181.2 407.2h0.7M174.5 387.8h0.7M177.4 400.0h0.7M171.2 390.9h0.7M178.8 401.0h0.7M171.0 395.1h0.7M172.6 404.5h0.7M175.8 402.0h0.7M174.0 401.6h0.7M171.1 410.0h0.7M172.4 396.7h0.7M180.9 393.9h0.7M170.9 402.0h0.7M172.2 400.4h0.7M177.4 408.9h0.7M167.6 393.2h0.7M176.1 393.3h0.7M167.5 407.5h0.7M175.3 404.1h0.7M179.4 409.1h0.7M170.9 397.5h0.7M174.9 397.9h0.7M174.2 407.9h0.7M174.2 390.3h0.7M180.5 400.6h0.7M174.6 388.5h0.7M172.8 391.2h0.7M180.3 397.4h0.7M166.7 400.2h0.7M168.8 401.6h0.7M168.7 387.9h0.7M172.1 398.8h0.7M169.3 406.3h0.7M176.9 400.4h0.7M172.6 403.9h0.7M177.2 402.5h0.7M167.9 406.0h0.7M183.9 406.0h0.7M174.5 396.8h0.7M166.0 405.0h0.7M175.6 404.5h0.7M173.7 410.9h0.7M172.5 386.7h0.7M172.4 402.4h0.7M176.6 405.4h0.7M176.2 404.6h0.7M174.4 392.2h0.7M171.5 408.9h0.7M180.5 380.7h0.7M172.3 397.8h0.7M176.9 386.0h0.7M170.4 402.5h0.7M169.3 387.8h0.7M181.5 399.2h0.7M173.3 405.8h0.7M181.7 395.7h0.7M172.3 398.5h0.7M177.3 408.3h0.7M180.2 397.7h0.7M167.5 396.2h0.7M164.3 403.8h0.7M163.6 404.4h0.7M168.2 404.4h0.7M179.8 400.2h0.7M172.4 401.4h0.7M170.1 403.7h0.7M171.8 402.3h0.7M169.2 405.2h0.7M174.5 394.5h0.7M172.7 390.4h0.7M166.5 392.5h0.7M174.8 398.0h0.7M172.8 403.2h0.7M171.7 399.7h0.7M169.2 405.7h0.7M167.7 400.4h0.7M174.7 397.4h0.7M182.7 403.1h0.7M174.8 388.2h0.7M174.9 391.8h0.7M175.5 403.9h0.7M172.4 396.8h0.7M169.2 396.2h0.7M180.0 394.9h0.7M171.5 404.2h0.7M166.7 397.9h0.7M178.1 403.0h0.7M175.5 406.6h0.7M172.8 382.9h0.7M176.4 405.4h0.7M162.1 399.4h0.7M179.4 392.2h0.7M177.3 412.2h0.7M172.4 399.0h0.7M168.3 406.0h0.7M174.0 405.3h0.7M172.7 401.4h0.7M170.2 409.3h0.7M172.3 410.6h0.7M177.0 395.4h0.7M167.8 409.0h0.7M174.7 398.3h0.7M177.7 385.6h0.7M175.6 398.3h0.7M176.3 396.6h0.7M170.8 406.3h0.7M174.6 390.0h0.7M175.3 406.4h0.7M165.4 393.8h0.7M167.7 393.5h0.7M168.3 393.8h0.7M171.8 411.2h0.7M171.1 408.3h0.7M177.6 397.9h0.7M174.7 408.7h0.7M168.4 402.9h0.7M162.0 390.2h0.7M170.4 398.0h0.7M171.9 405.0h0.7M166.3 387.9h0.7M176.4 403.4h0.7M177.2 407.5h0.7M174.4 397.1h0.7M175.2 393.9h0.7M166.9 398.5h0.7M183.1 393.7h0.7M179.0 399.7h0.7M180.8 397.2h0.7M167.5 396.1h0.7M172.0 405.3h0.7M169.6 402.6h0.7M183.7 401.2h0.7M169.4 401.0h0.7M171.4 403.1h0.7M169.2 398.7h0.7M176.2 401.1h0.7M164.1 409.8h0.7M169.1 403.8h0.7M168.7 407.1h0.7M170.3 410.9h0.7M173.4 384.3h0.7M167.7 406.1h0.7M176.3 408.8h0.7M175.2 397.5h0.7M173.5 401.4h0.7M172.9 408.8h0.7M168.6 398.7h0.7M178.9 400.0h0.7M175.4 396.9h0.7M173.1 411.0h0.7M180.2 401.3h0.7M164.2 399.6h0.7M177.7 400.0h0.7M172.6 400.6h0.7M168.5 397.9h0.7M174.3 388.0h0.7M169.2 378.3h0.7M177.2 401.9h0.7M165.3 389.6h0.7M175.1 392.5h0.7M170.5 388.4h0.7M168.5 387.8h0.7M181.1 406.4h0.7M178.8 404.5h0.7M169.4 408.6h0.7M175.1 395.5h0.7M165.3 400.7h0.7M167.3 398.8h0.7M163.5 386.9h0.7M177.3 405.2h0.7M173.5 398.9h0.7M173.7 393.6h0.7M170.1 389.1h0.7M172.9 387.7h0.7M182.0 400.2h0.7M174.8 402.4h0.7M170.5 395.2h0.7M173.2 409.3h0.7M179.8 398.7h0.7M170.5 397.9h0.7M174.6 393.3h0.7M177.3 399.0h0.7M169.3 406.4h0.7M179.4 394.1h0.7M172.0 399.6h0.7M175.3 407.0h0.7M172.3 393.8h0.7M170.1 407.7h0.7M181.4 402.3h0.7M178.2 395.3h0.7M167.0 393.8h0.7M186.5 410.6h0.7M168.3 394.9h0.7M171.1 390.9h0.7M175.6 392.4h0.7M171.7 405.4h0.7M171.7 408.5h0.7M170.4 410.0h0.7M169.8 396.3h0.7M166.1 403.5h0.7M176.0 401.0h0.7M179.5 405.9h0.7M174.5 388.0h0.7M172.0 403.7h0.7M167.3 412.3h0.7M179.2 402.0h0.7M168.3 399.2h0.7M178.1 400.2h0.7M169.1 391.9h0.7M170.6 410.8h0.7M185.6 393.2h0.7M167.2 405.8h0.7M172.0 397.6h0.7M172.2 411.3h0.7M176.4 395.0h0.7M175.2 391.3h0.7M178.1 385.0h0.7M170.8 408.0h0.7M180.8 404.9h0.7M163.7 399.3h0.7M177.2 405.9h0.7M174.7 396.4h0.7M163.9 397.1h0.7M173.6 395.6h0.7M168.9 403.9h0.7M171.3 402.3h0.7M177.8 395.3h0.7M177.5 392.0h0.7M176.9 404.0h0.7M175.2 406.6h0.7M173.9 387.2h0.7M180.7 402.6h0.7M173.8 401.3h0.7M174.7 399.1h0.7M166.6 391.6h0.7M181.1 405.7h0.7M174.2 392.1h0.7M169.2 395.7h0.7M178.2 406.8h0.7M171.7 399.0h0.7M169.6 401.8h0.7M168.0 407.8h0.7M172.4 408.3h0.7M180.2 403.3h0.7M177.0 376.8h0.7M168.5 402.8h0.7M168.8 409.4h0.7M171.3 399.5h0.7M163.0 406.2h0.7M170.5 411.1h0.7M175.3 400.4h0.7M176.9 398.8h0.7M169.1 400.5h0.7M171.8 409.4h0.7M169.7 392.4h0.7M179.2 407.9h0.7M171.2 401.9h0.7M170.4 383.8h0.7M172.3 404.9h0.7M176.0 402.8h0.7M174.0 399.6h0.7M172.5 399.0h0.7M184.5 401.5h0.7M173.6 384.6h0.7M172.7 405.3h0.7M176.2 388.6h0.7M172.0 399.3h0.7M175.7 400.2h0.7M170.4 395.8h0.7M164.8 402.3h0.7M175.6 405.7h0.7M169.4 404.2h0.7M168.0 388.0h0.7M175.9 390.8h0.7M166.4 398.3h0.7M173.8 387.9h0.7M166.9 403.1h0.7M166.5 404.3h0.7M177.8 405.6h0.7M165.0 409.8h0.7M181.0 409.1h0.7M184.0 394.5h0.7M172.3 407.7h0.7M172.2 395.4h0.7M172.0 395.2h0.7M173.3 398.2h0.7M176.5 395.3h0.7M177.2 394.7h0.7M178.6 410.6h0.7M172.8 399.2h0.7M174.5 404.5h0.7M168.1 406.5h0.7M164.2 391.6h0.7M167.3 402.5h0.7M169.0 382.1h0.7M178.0 396.3h0.7M171.4 403.6h0.7M174.6 405.6h0.7M166.9 403.4h0.7M177.4 406.9h0.7M179.8 389.4h0.7M178.6 389.4h0.7M167.7 402.5h0.7M183.9 410.5h0.7M172.3 401.6h0.7M178.1 391.1h0.7M171.3 396.2h0.7M178.5 405.4h0.7M174.4 410.6h0.7M171.8 393.7h0.7M177.2 386.3h0.7M174.2 400.8h0.7M165.4 402.5h0.7M168.9 411.8h0.7M176.5 408.1h0.7M177.6 400.9h0.7M178.1 405.8h0.7M175.6 409.5h0.7M182.2 387.5h0.7M170.8 389.3h0.7M167.1 406.5h0.7M168.4 399.3h0.7M170.3 408.7h0.7M180.5 401.9h0.7M169.7 396.4h0.7M172.1 388.0h0.7M167.3 402.5h0.7M174.1 402.3h0.7M174.6 395.1h0.7M172.5 392.9h0.7M174.1 385.0h0.7M175.4 402.8h0.7M171.0 402.2h0.7M177.8 401.5h0.7M182.0 410.6h0.7M173.5 399.4h0.7M167.5 392.4h0.7M173.9 401.9h0.7M174.9 404.1h0.7M171.9 392.3h0.7M170.9 400.2h0.7M176.3 406.4h0.7M168.3 400.1h0.7M176.5 389.6h0.7M171.9 389.4h0.7M169.8 410.1h0.7M168.2 408.2h0.7M172.3 388.3h0.7M173.9 402.8h0.7M171.8 410.6h0.7M171.6 406.8h0.7M173.0 396.8h0.7M174.8 409.4h0.7M179.7 410.4h0.7M165.2 390.4h0.7M171.8 410.4h0.7M164.2 402.1h0.7M167.5 407.2h0.7M177.8 398.8h0.7M179.3 406.9h0.7M182.9 400.3h0.7M174.2 403.7h0.7M176.8 397.8h0.7M172.0 410.4h0.7M172.5 411.6h0.7M179.9 391.9h0.7M176.3 399.1h0.7M170.3 408.0h0.7M178.0 405.2h0.7M174.7 406.0h0.7M169.1 400.5h0.7M167.5 396.7h0.7M174.7 398.3h0.7M169.6 399.2h0.7M173.7 395.3h0.7M174.0 396.2h0.7M174.6 406.6h0.7M182.0 395.2h0.7M172.5 394.5h0.7M178.1 393.6h0.7M165.3 409.8h0.7M183.7 402.0h0.7M172.1 400.4h0.7M168.9 406.3h0.7M179.2 395.0h0.7M177.0 405.2h0.7M180.4 400.4h0.7M169.6 403.0h0.7M175.3 399.0h0.7M168.8 406.3h0.7M165.8 392.0h0.7M172.6 390.4h0.7M175.5 388.4h0.7M172.3 404.5h0.7M179.4 394.5h0.7M174.4 410.7h0.7M169.4 404.2h0.7M178.4 410.1h0.7M172.9 404.1h0.7M169.9 405.6h0.7M175.1 397.1h0.7M184.2 406.4h0.7M169.3 401.5h0.7M175.4 392.9h0.7M169.0 407.2h0.7M172.8 400.7h0.7M178.0 399.1h0.7M166.3 392.3h0.7M172.4 399.7h0.7M171.4 394.2h0.7M165.1 399.2h0.7M175.1 403.4h0.7M167.7 396.3h0.7M173.9 382.0h0.7M176.4 400.4h0.7M187.8 400.5h0.7M172.7 401.3h0.7M172.1 395.9h0.7M178.2 403.9h0.7M174.6 399.1h0.7M164.4 397.5h0.7M162.7 396.2h0.7M174.8 399.1h0.7M175.7 409.2h0.7M171.6 398.6h0.7M178.4 400.6h0.7M175.3 403.2h0.7M179.4 405.3h0.7M172.7 392.8h0.7M161.8 382.5h0.7M172.0 410.7h0.7M169.8 399.3h0.7M162.2 400.0h0.7M170.8 407.7h0.7M171.3 387.2h0.7M162.2 387.8h0.7M171.2 392.6h0.7M166.1 398.7h0.7M178.7 401.1h0.7M163.7 401.2h0.7M172.9 411.9h0.7M169.3 388.8h0.7M171.2 392.2h0.7M174.0 406.3h0.7M172.7 400.7h0.7M167.4 390.0h0.7M174.4 412.3h0.7M168.4 384.0h0.7M172.8 403.2h0.7M169.1 385.9h0.7M179.3 385.9h0.7M175.4 407.8h0.7M179.2 400.6h0.7M177.4 399.1h0.7M176.5 411.7h0.7M172.9 387.1h0.7M175.0 377.0h0.7M179.5 396.1h0.7M170.5 409.0h0.7M177.1 405.0h0.7M170.3 406.8h0.7M173.7 398.2h0.7M169.3 404.9h0.7M169.5 411.5h0.7M164.6 393.0h0.7M173.9 387.4h0.7M181.7 389.8h0.7M170.2 397.7h0.7M173.8 412.2h0.7M171.0 396.9h0.7M179.0 400.9h0.7M176.7 401.4h0.7M170.6 396.1h0.7M168.4 394.7h0.7M173.8 400.6h0.7M176.7 401.9h0.7M174.9 394.0h0.7M165.4 409.2h0.7M181.4 398.7h0.7M177.1 393.9h0.7M168.8 404.1h0.7M177.0 405.6h0.7M178.2 401.7h0.7M172.3 401.8h0.7M168.9 398.1h0.7M165.2 391.6h0.7M176.7 396.6h0.7M162.4 391.8h0.7M176.7 400.5h0.7M172.6 405.7h0.7M178.4 398.6h0.7M175.8 396.7h0.7M169.1 397.3h0.7M178.4 384.5h0.7M176.0 397.6h0.7M176.0 402.5h0.7M165.6 397.1h0.7M163.7 399.8h0.7M169.4 408.3h0.7M164.4 403.3h0.7M168.4 397.0h0.7M171.9 401.6h0.7M183.7 387.1h0.7M172.5 393.5h0.7M171.7 397.7h0.7M175.4 407.0h0.7M173.3 410.5h0.7M171.5 390.7h0.7M165.0 407.8h0.7M171.3 404.8h0.7M176.4 393.7h0.7M179.1 406.9h0.7M180.7 406.7h0.7M167.6 405.6h0.7M173.6 389.5h0.7M177.1 399.0h0.7M179.1 397.7h0.7M176.4 409.3h0.7M173.7 409.7h0.7M175.7 397.4h0.7M179.6 399.1h0.7M170.8 398.0h0.7M164.6 409.5h0.7M167.3 386.4h0.7M174.6 383.4h0.7M171.7 407.0h0.7M174.6 404.0h0.7M171.6 393.4h0.7M174.3 407.3h0.7M172.7 408.8h0.7M161.7 393.6h0.7M160.7 397.6h0.7M173.8 390.8h0.7M170.4 400.3h0.7M169.2 399.2h0.7M177.5 401.1h0.7M177.9 404.6h0.7M170.6 401.6h0.7M177.3 396.5h0.7M169.9 410.9h0.7M176.9 406.2h0.7M170.5 399.6h0.7M174.8 404.3h0.7M177.1 392.2h0.7M177.2 393.0h0.7M168.5 397.1h0.7M170.5 409.4h0.7M169.8 402.2h0.7M179.2 387.2h0.7M177.6 395.1h0.7M172.6 402.2h0.7M169.8 392.7h0.7M178.4 394.0h0.7M178.0 392.4h0.7M169.3 382.6h0.7M170.0 397.9h0.7M177.0 389.4h0.7M173.0 410.1h0.7M172.4 388.8h0.7M173.1 405.3h0.7M168.2 398.5h0.7M169.9 394.7h0.7M172.1 395.9h0.7M173.2 396.8h0.7M167.2 395.4h0.7M179.5 400.1h0.7M174.0 406.5h0.7M174.5 393.8h0.7M168.9 407.5h0.7M171.8 404.4h0.7M171.1 408.1h0.7M172.3 403.0h0.7M175.7 384.8h0.7M177.3 411.7h0.7M170.8 387.9h0.7M174.9 393.9h0.7M172.5 392.3h0.7M167.0 404.1h0.7M174.6 404.2h0.7M167.7 395.5h0.7M172.9 397.8h0.7M173.3 398.3h0.7M172.8 402.5h0.7M176.0 411.4h0.7M172.8 384.6h0.7M179.7 388.8h0.7M174.2 410.7h0.7M175.9 411.7h0.7M175.5 387.8h0.7M176.4 398.4h0.7M178.1 395.3h0.7M177.0 390.6h0.7M171.7 400.1h0.7M178.4 394.5h0.7M174.6 410.0h0.7M172.6 402.7h0.7M182.1 400.6h0.7M176.4 411.2h0.7M179.9 410.9h0.7M170.2 404.1h0.7M166.3 391.1h0.7M171.6 398.5h0.7M170.4 394.8h0.7M181.0 390.4h0.7M175.5 390.8h0.7M174.5 394.2h0.7M165.1 384.7h0.7M178.5 411.0h0.7M171.7 399.6h0.7M174.6 388.4h0.7M170.9 387.6h0.7M170.3 401.0h0.7M175.9 396.3h0.7M174.1 397.3h0.7M172.2 396.3h0.7M179.7 398.7h0.7M177.7 379.6h0.7M176.2 391.8h0.7M171.2 408.3h0.7M181.2 382.3h0.7M179.2 398.5h0.7M170.8 409.5h0.7M172.4 396.4h0.7M172.0 399.2h0.7M170.6 409.8h0.7M180.7 393.6h0.7M169.9 399.9h0.7M169.4 401.8h0.7M173.7 400.9h0.7M169.6 403.4h0.7M167.1 397.8h0.7M172.3 401.3h0.7M176.9 399.5h0.7M168.3 404.3h0.7M172.4 407.3h0.7M172.9 393.0h0.7M174.1 399.4h0.7M169.5 388.5h0.7M178.4 393.0h0.7M177.8 409.6h0.7M168.6 404.2h0.7M172.6 389.1h0.7M170.1 402.0h0.7M177.4 395.0h0.7M172.0 409.4h0.7M171.1 395.4h0.7M165.9 404.4h0.7M169.7 393.0h0.7M170.8 394.8h0.7M186.5 396.4h0.7M176.5 390.5h0.7M177.0 403.8h0.7M168.6 392.1h0.7M159.6 382.0h0.7M169.7 400.4h0.7M176.6 400.2h0.7M169.4 393.0h0.7" stroke="#000" stroke-width="0.7" fill="none"/>
<path d="M169.1 353.6h0.6M173.8 353.0h0.6M183.9 342.5h0.6M174.5 348.4h0.6M189.3 353.4h0.6M188.0 357.7h0.6M180.9 349.0h0.6M168.7 346.9h0.6M187.5 347.7h0.6M176.4 354.8h0.6M164.2 356.6h0.6M193.1 343.9h0.6M186.8 351.0h0.6M190.1 349.7h0.6M182.2 356.7h0.6M178.6 352.7h0.6M188.0 350.6h0.6M189.9 353.1h0.6M189.6 344.2h0.6M175.2 352.2h0.6M192.2 356.8h0.6M183.3 348.1h0.6M174.8 343.3h0.6M179.3 353.4h0.6M182.6 345.1h0.6M182.4 351.2h0.6M177.4 356.9h0.6M186.5 355.4h0.6M183.9 347.1h0.6M191.5 355.5h0.6M178.7 345.7h0.6M189.4 348.8h0.6M174.2 350.7h0.6M187.4 348.0h0.6M183.4 355.0h0.6M188.9 344.8h0.6M188.7 358.1h0.6M190.2 350.7h0.6M186.0 344.7h0.6M178.7 349.0h0.6M199.1 351.0h0.6M175.7 357.8h0.6M192.6 344.4h0.6M181.6 344.3h0.6M191.1 341.9h0.6M197.4 346.8h0.6M175.2 359.5h0.6M187.3 352.5h0.6M189.8 347.1h0.6M189.9 349.9h0.6M187.2 352.0h0.6M193.8 345.9h0.6M172.5 353.7h0.6M201.3 353.2h0.6M181.9 353.7h0.6M173.9 351.4h0.6M170.3 351.5h0.6M188.7 357.9h0.6M179.3 354.8h0.6M193.5 346.8h0.6M181.1 343.6h0.6M176.5 352.8h0.6M167.6 349.8h0.6M188.7 356.8h0.6M164.0 352.6h0.6M178.5 341.8h0.6M175.4 353.4h0.6M183.0 353.9h0.6M180.9 353.7h0.6M175.7 347.1h0.6M181.9 344.0h0.6M192.6 350.0h0.6M175.7 347.6h0.6M175.8 351.5h0.6M180.4 354.5h0.6M174.3 350.8h0.6M171.6 349.2h0.6M193.6 350.6h0.6M190.0 350.8h0.6M174.8 347.5h0.6M174.5 352.4h0.6M184.9 362.8h0.6M195.9 354.5h0.6M175.7 351.5h0.6M176.2 360.5h0.6M177.6 355.7h0.6M172.8 354.1h0.6M173.8 349.2h0.6M184.5 351.6h0.6M182.7 350.8h0.6M176.6 350.6h0.6M182.6 347.3h0.6M187.5 351.7h0.6M177.4 356.3h0.6M178.8 343.4h0.6M192.8 349.5h0.6M194.3 352.8h0.6M176.3 355.5h0.6M186.7 354.8h0.6M183.5 357.3h0.6M190.2 349.7h0.6M171.6 350.9h0.6M183.7 347.1h0.6M181.7 357.1h0.6M179.5 355.6h0.6M176.0 347.1h0.6M190.3 350.3h0.6M184.8 355.2h0.6M195.6 346.0h0.6M187.6 352.0h0.6M184.2 358.3h0.6M181.3 348.6h0.6M187.0 342.9h0.6M185.9 347.4h0.6M185.6 348.0h0.6M187.0 350.0h0.6M177.7 353.2h0.6M188.8 344.6h0.6M173.3 350.0h0.6M180.2 356.4h0.6M195.2 353.0h0.6M191.5 349.7h0.6M172.7 352.3h0.6M169.7 357.6h0.6M185.1 355.7h0.6M178.2 344.5h0.6M181.6 353.0h0.6M181.5 349.0h0.6M183.7 350.3h0.6M193.8 345.7h0.6M166.2 350.6h0.6M185.2 344.8h0.6M182.8 352.8h0.6M185.7 352.3h0.6M177.3 345.2h0.6M190.4 349.6h0.6M172.6 357.3h0.6M188.8 339.7h0.6M202.9 351.6h0.6M170.8 354.9h0.6M185.6 356.1h0.6M183.2 344.3h0.6M181.8 349.3h0.6M185.3 350.3h0.6M187.4 346.1h0.6M178.9 348.9h0.6M186.3 344.1h0.6M183.1 360.7h0.6M169.3 355.2h0.6M183.8 355.0h0.6M183.5 352.1h0.6M185.9 352.9h0.6M173.9 350.5h0.6M197.1 356.8h0.6M176.6 347.2h0.6M181.8 355.3h0.6M190.1 348.6h0.6M164.9 350.8h0.6M170.4 355.9h0.6M194.4 353.7h0.6M187.6 353.3h0.6M197.2 355.4h0.6M194.1 346.4h0.6M179.1 351.0h0.6M166.0 349.9h0.6M182.9 350.8h0.6M202.4 350.2h0.6M181.6 350.5h0.6M180.4 345.3h0.6M191.7 351.1h0.6M185.8 351.2h0.6M177.1 344.6h0.6M180.9 353.2h0.6M182.1 354.0h0.6M177.0 349.8h0.6M184.2 350.6h0.6M184.4 356.8h0.6M179.8 351.6h0.6M178.1 353.2h0.6M184.8 348.0h0.6M175.3 346.2h0.6M180.9 351.6h0.6M179.3 350.6h0.6M184.1 360.5h0.6M192.1 360.4h0.6M184.1 351.9h0.6M198.0 352.6h0.6M188.1 349.0h0.6M178.9 354.2h0.6M178.5 348.3h0.6M171.6 352.2h0.6M182.3 353.2h0.6M176.4 346.0h0.6M191.5 351.1h0.6M189.1 346.4h0.6M173.1 340.8h0.6M185.3 355.0h0.6M193.2 358.2h0.6M169.1 346.6h0.6M179.0 347.8h0.6M181.4 347.8h0.6M171.8 350.8h0.6M184.0 347.9h0.6M183.3 345.7h0.6M180.5 349.6h0.6M179.5 350.7h0.6M173.3 345.6h0.6M176.7 354.0h0.6M175.7 347.2h0.6M198.2 350.0h0.6M180.1 347.4h0.6M194.3 353.1h0.6M185.0 357.5h0.6M173.9 344.2h0.6M191.5 352.8h0.6M179.1 354.2h0.6M182.3 358.9h0.6M173.3 352.5h0.6M190.5 354.6h0.6M180.2 349.4h0.6M179.7 353.8h0.6M179.9 350.4h0.6M190.9 350.6h0.6M184.9 350.5h0.6M183.1 342.0h0.6M175.8 352.5h0.6M178.1 348.5h0.6M183.4 360.3h0.6M177.2 347.1h0.6M169.2 352.9h0.6M182.6 347.6h0.6M179.9 355.0h0.6M190.8 352.5h0.6M191.9 355.1h0.6M179.5 354.2h0.6M184.2 354.1h0.6M185.1 359.7h0.6M173.3 352.5h0.6M174.7 360.4h0.6M179.0 349.5h0.6M182.8 350.8h0.6M196.1 350.8h0.6M184.9 355.3h0.6M194.6 347.1h0.6M185.3 345.6h0.6M186.8 356.8h0.6M179.0 349.9h0.6M192.2 352.8h0.6M189.2 349.1h0.6M180.6 349.5h0.6M195.1 344.9h0.6M179.0 357.4h0.6M182.5 346.5h0.6M184.8 350.1h0.6M182.1 353.0h0.6M189.1 344.9h0.6M184.5 357.1h0.6M172.7 350.6h0.6M174.1 353.7h0.6M176.5 349.6h0.6M184.2 394.5h0.6M184.9 397.9h0.6M171.0 395.3h0.6M176.7 406.6h0.6M171.0 403.8h0.6M165.0 383.1h0.6M163.0 394.3h0.6M169.1 405.7h0.6M171.1 394.7h0.6M171.5 384.7h0.6M177.2 384.9h0.6M165.4 402.4h0.6M159.0 376.6h0.6M170.3 393.3h0.6M178.5 388.5h0.6M165.0 403.1h0.6M167.1 400.3h0.6M161.0 395.2h0.6M185.3 385.0h0.6M173.0 397.7h0.6M174.3 397.4h0.6M178.3 392.3h0.6M167.3 400.7h0.6M174.9 381.4h0.6M178.3 395.2h0.6M179.8 398.9h0.6M165.3 395.2h0.6M177.9 408.9h0.6M172.3 405.1h0.6M182.1 401.7h0.6M182.9 405.2h0.6M167.2 386.9h0.6M181.1 390.1h0.6M168.1 399.0h0.6M171.1 407.2h0.6M161.1 402.2h0.6M174.7 410.0h0.6M176.3 402.7h0.6M167.2 401.7h0.6M175.6 399.3h0.6M174.5 399.7h0.6M170.9 405.3h0.6M173.4 390.4h0.6M179.3 406.3h0.6M180.9 395.1h0.6M177.8 402.9h0.6M173.2 383.9h0.6M166.8 398.4h0.6M180.4 404.1h0.6M170.0 401.1h0.6M172.8 392.0h0.6M173.3 407.3h0.6M166.1 395.1h0.6M173.3 389.3h0.6M167.4 403.4h0.6M187.5 399.8h0.6M174.5 380.8h0.6M169.9 380.4h0.6M180.0 395.9h0.6M169.3 395.3h0.6M166.5 390.1h0.6M175.8 400.4h0.6M174.8 397.6h0.6M163.9 404.5h0.6M173.7 407.0h0.6M174.6 389.5h0.6M179.7 406.7h0.6M171.9 406.1h0.6M176.5 394.6h0.6M175.0 391.9h0.6M182.3 394.9h0.6M173.9 405.7h0.6M183.1 381.1h0.6M187.5 405.0h0.6M165.7 400.7h0.6M187.6 400.2h0.6M182.5 409.5h0.6M169.4 402.8h0.6M184.9 391.7h0.6M174.3 393.9h0.6M170.1 397.3h0.6M159.7 393.1h0.6M162.4 390.0h0.6M169.8 409.2h0.6M166.4 407.7h0.6M170.9 391.8h0.6M162.6 400.8h0.6M173.0 406.9h0.6M169.6 379.3h0.6M177.2 412.2h0.6M173.8 400.5h0.6M176.8 401.8h0.6M190.3 398.3h0.6M176.9 408.0h0.6M177.0 382.9h0.6M176.2 396.1h0.6M167.1 408.3h0.6M169.3 403.2h0.6M169.1 405.1h0.6M182.3 391.1h0.6M168.4 408.3h0.6M167.8 409.5h0.6M176.1 390.6h0.6M169.9 412.1h0.6M179.1 400.8h0.6M175.0 409.9h0.6M169.6 402.7h0.6M176.6 412.2h0.6M171.2 397.6h0.6M175.3 397.3h0.6M172.0 404.7h0.6M170.4 396.8h0.6M175.3 400.6h0.6M171.2 398.6h0.6M165.8 392.2h0.6M169.0 388.9h0.6M172.0 398.5h0.6M172.7 396.0h0.6M169.9 408.1h0.6M177.0 387.0h0.6M175.0 391.4h0.6M177.7 392.1h0.6M175.6 392.3h0.6M172.3 402.9h0.6M178.0 386.2h0.6M170.0 391.5h0.6M162.6 401.7h0.6M172.1 396.5h0.6M167.8 374.3h0.6M171.2 402.1h0.6M166.6 398.1h0.6M158.6 396.9h0.6M173.9 390.4h0.6M166.4 389.2h0.6M170.1 409.4h0.6M174.2 393.4h0.6M170.3 406.8h0.6M169.2 390.8h0.6M178.5 399.3h0.6M182.0 397.0h0.6M171.6 403.4h0.6M174.8 399.7h0.6M167.4 392.9h0.6M168.6 394.5h0.6M181.8 390.6h0.6M176.5 403.5h0.6M163.5 409.0h0.6M175.0 402.8h0.6M174.8 408.8h0.6M176.0 393.0h0.6M169.5 391.1h0.6M168.5 391.1h0.6M175.0 408.5h0.6M172.2 409.1h0.6M180.8 405.8h0.6M162.9 374.6h0.6M180.5 404.0h0.6M164.4 392.2h0.6M175.0 399.1h0.6M165.2 398.7h0.6M164.0 396.9h0.6M177.5 401.8h0.6M169.8 405.2h0.6M186.0 396.5h0.6M174.3 385.5h0.6M178.6 383.8h0.6M172.1 407.9h0.6M177.3 368.0h0.6M168.3 376.1h0.6M171.6 385.2h0.6M188.0 410.6h0.6M167.1 396.2h0.6M173.9 408.5h0.6M182.5 405.6h0.6M165.3 369.0h0.6M163.5 388.1h0.6M178.5 386.4h0.6M181.8 406.7h0.6M174.0 407.1h0.6M168.9 409.2h0.6M174.1 393.5h0.6M168.4 379.2h0.6M171.4 404.2h0.6M170.9 394.8h0.6M164.7 411.1h0.6M173.3 399.0h0.6M168.2 396.6h0.6M175.5 403.2h0.6M169.8 394.0h0.6M170.7 404.1h0.6M178.3 402.6h0.6M167.5 399.4h0.6M174.1 388.4h0.6M173.9 399.0h0.6M175.5 391.0h0.6M181.3 396.3h0.6M167.0 387.6h0.6M180.5 387.8h0.6M175.7 403.6h0.6M169.8 406.3h0.6M180.3 398.5h0.6M173.5 405.6h0.6M174.0 411.8h0.6M178.5 400.0h0.6M175.0 395.3h0.6M177.9 392.1h0.6M173.3 387.1h0.6M189.1 402.0h0.6M173.9 403.6h0.6M162.9 405.2h0.6M171.0 406.3h0.6M177.7 401.6h0.6M180.1 396.1h0.6M175.1 396.1h0.6M169.1 388.7h0.6M168.1 394.4h0.6M169.0 402.9h0.6M160.5 400.7h0.6M168.8 389.4h0.6M175.1 401.0h0.6M175.4 410.9h0.6M164.4 409.8h0.6M182.5 404.1h0.6M160.9 401.6h0.6M183.5 407.1h0.6M173.1 387.2h0.6M173.9 385.0h0.6M168.4 395.2h0.6M176.2 393.0h0.6M173.1 398.8h0.6M175.3 405.0h0.6M176.7 396.4h0.6M174.6 393.0h0.6M165.6 393.5h0.6M173.4 379.5h0.6M178.6 402.6h0.6M163.3 389.1h0.6M167.7 377.0h0.6M162.2 403.2h0.6M176.8 410.4h0.6M182.2 389.7h0.6" stroke="#777" stroke-width="0.6" fill="none"/>
<path d="M188.0 393.6h0.6M178.3 378.6h0.6M178.4 386.0h0.6M191.4 403.1h0.6M184.5 396.1h0.6M184.8 404.5h0.6M178.1 404.5h0.6M177.9 389.5h0.6M169.8 386.7h0.6M177.6 395.1h0.6M186.6 398.8h0.6M181.7 400.2h0.6M167.7 388.9h0.6M181.6 400.9h0.6M178.6 389.1h0.6M180.7 397.7h0.6M175.0 398.1h0.6M185.6 392.5h0.6M184.0 387.1h0.6M168.0 393.5h0.6M189.8 406.1h0.6M176.5 403.4h0.6M169.4 398.4h0.6M175.0 389.7h0.6M178.0 393.4h0.6M181.6 389.6h0.6M182.0 403.7h0.6M184.2 405.3h0.6M183.6 408.7h0.6M186.5 408.8h0.6M186.0 389.1h0.6M178.7 412.1h0.6M177.0 406.2h0.6M185.5 411.2h0.6M176.9 402.0h0.6M179.4 405.4h0.6M170.3 399.4h0.6M186.0 399.9h0.6M185.2 411.9h0.6M180.8 396.6h0.6M177.2 390.1h0.6M177.8 398.5h0.6M184.9 394.4h0.6M176.5 399.5h0.6M178.9 410.6h0.6M180.2 411.8h0.6M180.5 378.3h0.6M179.1 390.8h0.6M180.1 392.3h0.6M184.7 397.7h0.6M178.4 396.2h0.6M178.3 406.1h0.6M181.3 400.3h0.6M186.0 395.0h0.6M183.8 406.9h0.6M181.6 395.9h0.6M179.3 409.3h0.6M175.3 407.9h0.6M182.8 403.6h0.6M182.7 396.0h0.6M188.4 400.5h0.6M184.3 398.4h0.6M178.4 409.1h0.6M175.1 399.8h0.6M175.8 386.8h0.6M185.1 400.2h0.6M170.7 399.5h0.6M192.0 408.9h0.6M178.9 403.1h0.6M178.6 402.0h0.6M179.4 401.7h0.6M177.7 407.2h0.6M174.0 385.8h0.6M171.5 394.4h0.6M180.6 404.8h0.6M184.1 387.3h0.6M172.1 405.2h0.6M189.1 405.3h0.6M179.4 408.7h0.6M188.5 408.3h0.6M181.1 397.5h0.6M177.3 396.4h0.6M173.9 403.0h0.6M185.3 397.6h0.6M184.0 405.7h0.6M179.4 399.6h0.6M187.7 393.8h0.6M176.5 396.6h0.6M176.2 404.8h0.6M183.2 397.8h0.6M183.3 385.2h0.6M185.0 391.6h0.6M184.6 394.7h0.6M183.2 405.8h0.6M173.0 396.4h0.6M183.6 405.2h0.6M181.2 397.4h0.6M184.2 403.2h0.6M178.4 409.4h0.6M188.1 395.2h0.6M178.1 391.4h0.6M174.0 401.6h0.6M185.0 388.2h0.6M178.9 402.9h0.6M177.1 407.4h0.6M183.2 399.7h0.6M186.1 403.1h0.6M185.8 405.3h0.6M176.7 403.3h0.6M178.5 393.3h0.6M173.6 409.9h0.6M187.0 409.3h0.6M170.1 405.7h0.6M180.7 405.2h0.6M181.5 405.2h0.6M182.5 409.2h0.6M180.9 395.8h0.6M168.9 402.8h0.6M169.4 395.4h0.6M180.0 399.1h0.6M172.9 410.3h0.6M178.6 399.1h0.6M180.5 404.1h0.6M171.3 404.4h0.6M179.3 400.0h0.6M180.2 399.2h0.6M185.7 392.8h0.6M176.2 404.4h0.6M179.1 407.8h0.6M165.6 398.2h0.6M185.3 392.5h0.6M185.6 393.2h0.6M181.7 397.1h0.6M173.0 406.9h0.6M183.0 397.6h0.6M175.8 393.8h0.6M179.4 409.4h0.6M177.8 399.7h0.6M178.1 390.0h0.6M178.2 394.9h0.6M186.2 401.6h0.6M186.6 399.5h0.6M181.0 411.8h0.6M182.4 400.8h0.6M182.6 403.0h0.6M185.9 395.1h0.6M177.8 392.8h0.6M186.3 405.5h0.6M178.6 404.9h0.6M189.8 406.7h0.6M179.7 392.3h0.6M186.1 397.7h0.6M172.2 408.2h0.6M175.8 396.9h0.6M191.1 396.8h0.6M188.8 380.7h0.6M184.1 398.1h0.6M181.0 395.1h0.6M181.7 405.5h0.6M178.6 406.8h0.6M183.9 390.6h0.6M189.2 401.5h0.6M184.5 412.0h0.6M175.6 391.4h0.6M188.3 407.0h0.6M175.2 397.0h0.6M179.1 401.0h0.6M174.3 400.5h0.6M177.7 403.9h0.6M175.2 395.7h0.6M180.8 405.6h0.6M180.5 401.6h0.6M179.3 395.0h0.6M177.9 393.0h0.6M182.8 403.4h0.6M179.3 393.0h0.6M178.0 398.7h0.6M185.3 397.3h0.6M181.1 394.6h0.6M183.4 397.9h0.6M175.8 384.3h0.6M178.4 397.2h0.6M185.9 389.7h0.6M177.0 389.9h0.6M184.0 402.3h0.6M178.2 405.1h0.6M180.8 396.0h0.6M179.8 404.9h0.6M181.5 400.6h0.6M180.5 393.3h0.6M179.2 404.6h0.6M178.1 397.6h0.6M173.6 405.0h0.6M185.4 400.1h0.6M180.9 401.7h0.6M180.3 398.3h0.6M185.1 402.5h0.6M178.2 390.0h0.6M185.2 398.4h0.6M182.9 395.9h0.6M174.0 404.9h0.6M185.9 386.6h0.6M180.9 399.1h0.6M177.6 404.3h0.6M175.5 396.9h0.6M181.5 405.9h0.6M180.0 409.3h0.6M185.8 403.4h0.6M173.2 392.4h0.6M171.9 396.1h0.6M181.1 407.2h0.6M178.1 397.7h0.6M183.7 386.7h0.6M179.1 393.0h0.6M181.3 404.8h0.6M181.1 411.2h0.6M180.5 410.3h0.6M181.2 383.5h0.6M179.9 392.9h0.6M178.2 380.6h0.6M178.8 397.3h0.6M174.5 398.2h0.6M184.1 400.6h0.6M183.4 392.8h0.6M188.6 392.6h0.6M173.9 401.7h0.6M183.0 410.6h0.6M183.8 407.9h0.6M172.3 401.6h0.6M177.0 382.5h0.6M187.5 390.5h0.6M183.3 406.9h0.6M178.5 392.0h0.6M186.7 400.1h0.6M180.9 401.1h0.6M181.7 405.1h0.6M180.9 408.0h0.6M179.9 389.1h0.6M176.1 404.6h0.6M175.5 401.9h0.6M183.8 394.7h0.6M179.9 389.8h0.6M173.8 404.0h0.6M181.1 391.1h0.6M177.9 394.4h0.6M178.4 394.8h0.6M177.5 389.3h0.6M178.0 409.9h0.6M179.0 405.4h0.6M178.3 396.7h0.6M187.2 402.2h0.6M177.2 405.7h0.6M173.1 387.9h0.6M178.5 396.6h0.6M180.5 390.0h0.6M182.1 398.4h0.6M178.7 402.6h0.6M178.2 408.4h0.6M175.6 402.4h0.6M179.2 381.5h0.6M175.1 395.9h0.6M182.2 389.5h0.6M177.1 396.0h0.6M172.8 395.6h0.6M184.7 407.5h0.6M174.8 393.7h0.6M176.4 382.6h0.6M191.1 393.9h0.6M181.4 395.9h0.6M178.4 387.5h0.6M174.6 398.5h0.6M176.5 405.4h0.6M177.2 403.0h0.6M182.4 390.1h0.6M185.9 398.3h0.6M192.1 395.4h0.6M185.0 405.7h0.6M172.4 387.2h0.6M172.6 406.6h0.6M179.9 407.5h0.6M174.4 406.1h0.6M179.7 404.8h0.6M183.0 400.8h0.6M186.7 388.6h0.6M178.0 408.2h0.6M174.7 405.9h0.6M180.1 402.3h0.6M168.0 392.8h0.6M183.3 390.3h0.6M183.8 405.7h0.6M165.3 400.9h0.6M174.2 391.3h0.6M171.9 402.3h0.6M187.1 396.1h0.6M171.8 408.5h0.6M183.7 400.4h0.6M173.0 390.2h0.6M178.6 412.1h0.6M187.5 392.2h0.6M171.1 399.0h0.6M183.9 393.7h0.6M180.4 407.3h0.6M187.0 400.5h0.6M181.3 404.5h0.6M176.3 406.0h0.6M180.3 393.8h0.6M179.4 397.7h0.6M177.5 405.7h0.6M183.8 407.7h0.6M177.6 405.4h0.6M174.5 408.3h0.6M177.2 386.0h0.6M183.5 389.3h0.6M175.5 399.4h0.6M182.0 399.0h0.6M181.9 402.2h0.6M171.6 410.0h0.6M187.0 395.2h0.6M183.4 397.6h0.6M175.7 397.7h0.6M170.1 394.8h0.6M183.2 408.1h0.6M182.2 401.9h0.6M176.6 407.8h0.6M189.3 402.8h0.6M188.6 401.0h0.6M178.7 407.3h0.6M180.5 398.1h0.6M177.2 401.1h0.6M179.7 387.0h0.6M181.7 403.8h0.6M182.5 407.2h0.6M183.7 397.4h0.6M174.3 403.7h0.6M182.0 395.6h0.6M178.6 403.8h0.6M187.7 395.2h0.6M175.3 399.9h0.6M176.0 396.1h0.6M175.2 409.5h0.6M182.1 401.5h0.6M182.9 407.0h0.6M175.2 404.7h0.6M176.9 388.0h0.6M181.9 395.5h0.6M187.1 398.0h0.6M178.6 393.2h0.6M179.1 399.4h0.6M183.1 394.0h0.6M176.4 391.6h0.6M176.6 396.9h0.6M179.2 394.7h0.6M184.4 394.3h0.6M181.1 398.9h0.6M181.8 400.7h0.6M184.4 352.0h0.6M183.8 351.5h0.6M193.7 355.4h0.6M194.9 348.7h0.6M194.0 353.8h0.6M190.7 351.0h0.6M197.2 348.5h0.6M188.4 346.7h0.6M185.2 353.6h0.6M188.4 353.1h0.6M194.6 347.9h0.6M176.7 356.1h0.6M178.1 350.8h0.6M200.6 354.9h0.6M186.1 355.8h0.6M182.0 355.0h0.6M184.6 349.3h0.6M181.2 349.7h0.6M188.4 359.3h0.6M192.5 355.8h0.6M186.2 358.9h0.6M186.4 357.8h0.6M179.7 354.5h0.6M180.7 350.8h0.6M185.8 344.8h0.6M189.2 352.4h0.6M176.9 351.6h0.6M186.3 345.8h0.6M183.1 356.1h0.6M184.5 351.3h0.6M186.3 351.2h0.6M180.5 351.5h0.6M175.4 352.7h0.6M185.1 346.7h0.6M178.1 352.9h0.6M184.3 349.5h0.6M183.7 352.9h0.6M192.9 350.3h0.6M175.7 348.5h0.6M181.4 353.7h0.6M193.4 353.5h0.6M181.9 355.8h0.6M184.3 347.3h0.6M185.8 360.1h0.6M186.7 349.3h0.6M191.3 348.9h0.6M193.6 354.9h0.6M179.2 350.4h0.6M184.8 348.9h0.6M189.0 351.1h0.6M196.9 353.1h0.6M192.4 355.9h0.6M189.5 355.3h0.6M182.9 356.0h0.6M192.6 356.3h0.6M183.7 349.8h0.6M193.7 351.7h0.6M201.8 354.1h0.6M180.2 354.6h0.6M188.4 344.6h0.6M183.5 343.4h0.6M202.3 347.4h0.6M182.1 350.7h0.6M182.3 356.8h0.6M185.4 346.4h0.6M191.4 353.4h0.6M178.7 355.7h0.6M179.1 348.5h0.6M195.5 350.1h0.6M187.2 348.8h0.6M185.2 344.0h0.6M185.2 348.9h0.6M192.3 350.3h0.6M182.0 350.1h0.6M175.8 353.6h0.6M176.5 347.1h0.6M188.4 350.8h0.6M198.8 346.5h0.6M188.9 359.1h0.6M183.2 346.9h0.6M192.9 359.4h0.6M182.4 355.3h0.6M190.9 352.5h0.6M191.7 350.9h0.6M190.7 351.0h0.6M186.0 347.7h0.6M186.7 351.6h0.6M181.7 349.1h0.6M184.7 357.5h0.6M189.7 354.6h0.6M194.6 354.8h0.6M196.7 357.6h0.6M191.2 351.6h0.6M187.7 351.7h0.6M182.6 345.9h0.6M189.4 346.7h0.6M191.0 358.9h0.6M187.6 348.3h0.6M183.2 354.4h0.6M186.4 350.3h0.6M188.5 347.4h0.6M181.0 353.6h0.6M182.7 354.5h0.6M184.1 352.3h0.6M186.1 357.0h0.6M185.4 352.3h0.6M180.4 352.6h0.6M186.0 353.2h0.6M175.1 354.5h0.6M187.4 353.2h0.6M189.3 356.0h0.6M181.3 350.0h0.6M188.4 346.2h0.6M199.9 344.1h0.6M190.1 350.1h0.6M190.7 357.9h0.6M197.9 349.2h0.6M187.4 349.0h0.6M179.0 352.5h0.6M183.4 347.2h0.6M185.1 349.6h0.6M180.4 352.8h0.6M190.1 353.5h0.6M183.0 348.5h0.6M173.6 354.7h0.6M192.7 348.6h0.6M179.0 347.3h0.6M195.2 351.2h0.6M184.4 352.3h0.6M187.0 350.8h0.6M186.0 354.5h0.6M192.5 347.7h0.6M186.2 351.7h0.6M188.0 361.3h0.6M190.9 354.9h0.6M186.4 354.2h0.6M194.0 356.8h0.6M182.2 352.7h0.6M189.0 347.8h0.6M185.0 350.2h0.6M192.2 352.2h0.6M198.6 354.1h0.6M184.5 353.1h0.6M187.5 348.9h0.6M189.1 346.6h0.6M188.1 350.2h0.6M187.6 349.3h0.6M197.1 349.4h0.6M191.6 352.3h0.6M193.8 349.4h0.6M179.6 354.7h0.6M193.1 354.6h0.6M164.7 358.6h0.6M195.5 352.1h0.6M181.8 354.0h0.6M177.0 350.8h0.6M190.5 357.4h0.6M184.7 351.2h0.6M179.1 351.5h0.6M182.9 352.1h0.6M182.6 353.8h0.6M186.4 349.4h0.6M190.4 354.1h0.6M185.5 351.3h0.6M191.7 354.0h0.6M186.1 359.6h0.6M184.2 347.0h0.6M183.2 352.8h0.6M176.8 359.3h0.6M192.3 348.3h0.6M189.2 347.1h0.6M186.8 351.1h0.6M196.0 344.9h0.6M184.1 344.7h0.6M184.2 350.8h0.6M187.0 356.0h0.6M181.7 349.9h0.6M195.5 352.2h0.6M181.4 352.1h0.6M180.6 348.6h0.6M183.9 346.2h0.6M197.4 350.5h0.6M188.3 351.0h0.6M186.3 348.9h0.6M189.4 350.3h0.6M182.1 355.5h0.6M195.8 353.7h0.6M190.0 350.8h0.6M187.7 354.8h0.6M187.2 357.1h0.6M195.2 352.9h0.6M188.3 348.8h0.6M184.4 349.5h0.6M185.0 348.6h0.6M189.2 353.3h0.6M186.1 358.3h0.6M188.4 351.8h0.6M188.1 349.7h0.6M191.4 348.5h0.6M186.7 359.6h0.6M188.6 348.0h0.6M180.5 356.4h0.6M176.1 358.4h0.6M194.6 350.2h0.6M188.5 350.2h0.6M181.5 353.7h0.6M183.0 354.3h0.6M188.9 349.6h0.6M187.4 352.2h0.6M186.0 351.2h0.6M194.1 349.2h0.6M187.8 356.0h0.6M189.3 350.4h0.6M180.3 351.0h0.6M175.6 350.3h0.6M186.8 357.0h0.6M190.6 356.0h0.6M189.6 352.9h0.6M177.8 349.8h0.6M185.6 351.7h0.6M179.8 346.2h0.6M188.0 351.0h0.6M187.0 351.2h0.6M185.6 347.6h0.6M192.0 353.5h0.6M186.8 358.6h0.6M182.8 355.2h0.6M186.6 352.1h0.6M192.0 352.0h0.6M186.8 347.5h0.6M188.6 353.5h0.6M184.5 347.6h0.6M192.6 352.6h0.6M193.7 351.8h0.6M201.8 347.4h0.6M191.1 352.5h0.6M188.4 351.2h0.6M190.2 355.2h0.6M187.5 348.1h0.6M192.6 355.8h0.6M180.2 352.9h0.6M195.8 354.4h0.6M184.1 353.1h0.6M189.0 347.9h0.6M185.4 350.8h0.6M185.0 357.0h0.6M176.7 348.2h0.6M182.9 356.8h0.6M186.5 351.1h0.6M185.7 357.9h0.6M198.2 352.9h0.6M181.4 351.0h0.6M176.9 355.5h0.6M185.8 356.2h0.6M183.6 349.2h0.6M174.5 353.0h0.6M193.1 343.9h0.6M180.8 351.7h0.6M193.0 359.1h0.6M196.5 353.1h0.6" stroke="#444" stroke-width="0.6" fill="none"/>
<path d="M171.0 364.3h0.6M177.8 372.2h0.6M173.2 371.3h0.6M176.5 393.2h0.6M174.9 377.5h0.6M177.0 379.2h0.6M173.6 386.0h0.6M180.7 376.9h0.6M172.2 362.0h0.6M175.3 370.9h0.6M172.9 370.9h0.6M170.6 370.3h0.6M171.3 374.7h0.6M167.4 365.0h0.6M174.5 358.4h0.6M174.4 370.1h0.6M180.5 378.5h0.6M174.5 379.7h0.6M175.7 379.6h0.6M174.5 374.6h0.6M174.8 380.9h0.6M182.0 387.1h0.6M180.8 370.6h0.6M181.5 369.3h0.6M175.9 363.7h0.6M179.2 356.9h0.6M175.7 378.5h0.6M172.1 376.6h0.6M172.2 369.0h0.6M177.2 385.2h0.6M183.2 362.7h0.6M170.2 365.1h0.6M176.7 371.0h0.6M171.4 363.8h0.6M176.7 372.4h0.6M183.0 361.0h0.6M174.0 404.5h0.6M171.7 382.3h0.6M174.2 373.1h0.6M180.2 366.7h0.6M175.1 372.3h0.6M176.1 388.0h0.6M180.9 365.9h0.6M180.4 357.8h0.6M173.6 365.3h0.6M173.8 373.5h0.6M176.9 363.5h0.6M177.3 365.8h0.6M177.8 374.6h0.6M172.0 363.4h0.6M179.3 371.2h0.6M176.9 368.8h0.6M181.3 376.2h0.6M173.5 373.9h0.6M172.2 368.1h0.6M174.7 362.3h0.6M172.9 381.9h0.6M172.8 369.8h0.6M171.7 383.6h0.6M172.6 378.9h0.6M178.1 376.9h0.6M174.2 351.4h0.6M172.8 369.7h0.6M170.9 361.0h0.6M177.0 371.8h0.6M179.5 376.1h0.6M180.4 374.5h0.6M175.4 373.6h0.6M179.0 380.8h0.6M178.2 367.5h0.6M172.3 381.3h0.6M179.6 362.5h0.6M176.1 362.8h0.6M176.2 391.8h0.6M174.7 368.0h0.6M175.7 367.7h0.6M177.3 357.2h0.6M178.5 364.8h0.6M176.1 395.2h0.6M180.2 373.7h0.6M175.5 376.5h0.6M179.2 403.3h0.6M182.8 385.7h0.6M173.2 385.6h0.6M175.4 373.6h0.6M174.7 368.7h0.6M177.9 373.8h0.6M178.5 367.2h0.6M172.9 368.1h0.6M175.1 375.4h0.6M182.3 373.3h0.6M175.1 395.5h0.6M182.3 380.5h0.6M179.4 355.4h0.6M174.7 371.7h0.6M176.0 353.7h0.6M177.0 389.0h0.6M180.8 374.6h0.6M177.8 372.0h0.6M168.6 377.1h0.6M179.3 358.5h0.6M184.1 379.3h0.6M177.8 385.5h0.6M172.7 371.1h0.6M170.8 381.0h0.6M177.7 393.5h0.6M178.6 368.1h0.6M168.9 368.9h0.6M174.8 371.5h0.6M174.2 368.9h0.6M176.5 366.4h0.6M173.1 369.8h0.6M170.7 350.5h0.6M175.8 362.6h0.6M170.8 370.6h0.6M176.0 383.8h0.6M174.0 371.8h0.6M175.3 366.1h0.6M171.3 353.6h0.6M169.5 361.7h0.6M172.8 367.0h0.6M169.5 374.4h0.6M177.2 360.2h0.6M173.4 367.7h0.6M178.1 383.0h0.6M178.0 378.4h0.6M180.3 378.3h0.6M176.7 377.0h0.6M179.3 373.5h0.6M179.5 366.8h0.6M172.1 371.6h0.6M177.9 391.2h0.6M175.3 362.2h0.6M169.7 363.3h0.6M174.7 368.0h0.6M177.1 372.2h0.6M173.8 395.4h0.6M174.0 369.3h0.6M171.6 365.9h0.6M176.9 355.6h0.6M174.8 364.7h0.6M176.2 377.5h0.6M175.6 380.8h0.6M174.1 375.1h0.6M172.6 356.4h0.6M172.3 369.1h0.6M177.7 389.2h0.6M177.4 377.8h0.6M172.9 387.8h0.6M173.7 370.7h0.6M182.6 380.6h0.6M183.5 366.2h0.6M177.3 360.3h0.6M177.2 365.9h0.6M180.5 376.9h0.6M170.0 368.3h0.6M173.2 372.7h0.6M179.5 360.5h0.6M175.1 378.2h0.6M172.8 367.9h0.6M173.6 381.7h0.6M178.6 361.2h0.6M179.7 387.2h0.6M174.8 375.0h0.6M178.0 378.5h0.6M183.6 372.9h0.6M174.9 374.0h0.6M175.6 354.7h0.6M179.0 374.7h0.6M173.0 363.7h0.6M170.5 373.4h0.6M177.0 373.4h0.6M179.3 369.5h0.6M171.9 372.5h0.6M181.4 384.8h0.6M175.9 389.8h0.6M172.7 366.6h0.6M174.6 391.2h0.6M165.7 374.7h0.6M176.2 363.3h0.6M177.4 353.1h0.6M176.8 362.6h0.6M173.4 374.5h0.6M175.6 366.9h0.6M176.0 365.0h0.6M180.5 375.1h0.6M177.0 385.1h0.6M182.5 357.7h0.6M176.4 360.4h0.6M178.2 366.4h0.6M173.6 369.3h0.6M180.0 362.7h0.6M177.2 369.3h0.6M174.8 373.1h0.6M182.1 367.8h0.6M176.7 375.5h0.6M170.6 369.3h0.6M177.9 375.3h0.6M176.3 362.5h0.6M174.7 377.3h0.6M173.4 380.7h0.6M177.4 387.0h0.6M170.4 371.6h0.6M170.5 361.3h0.6M182.8 378.7h0.6M177.2 361.9h0.6M176.1 376.4h0.6M180.6 352.8h0.6M175.7 360.8h0.6M183.6 386.9h0.6M176.1 368.9h0.6M181.1 387.5h0.6M174.5 380.8h0.6M177.1 374.1h0.6M170.9 391.6h0.6M175.6 361.8h0.6M171.3 386.3h0.6M177.0 380.9h0.6M176.4 358.8h0.6M175.3 364.4h0.6M172.2 373.3h0.6M173.4 374.9h0.6M176.5 367.1h0.6M172.9 369.4h0.6M179.6 382.0h0.6M180.2 363.8h0.6M172.9 374.0h0.6M175.9 378.1h0.6M177.5 358.3h0.6M176.8 386.2h0.6M175.6 371.3h0.6M176.2 357.0h0.6M178.4 375.9h0.6M178.9 366.7h0.6M173.5 361.8h0.6M175.5 371.6h0.6M178.0 362.8h0.6M173.4 360.8h0.6M174.2 380.0h0.6M179.1 372.1h0.6" stroke="#555" stroke-width="0.6" fill="none"/>
<path d="M205.7 357.2h0.55M192.0 358.9h0.55M184.9 348.4h0.55M197.7 354.0h0.55M190.2 351.4h0.55M186.6 347.9h0.55M219.6 358.4h0.55M204.3 363.1h0.55M182.5 359.6h0.55M189.5 343.1h0.55M191.1 354.7h0.55M205.3 362.2h0.55M197.2 363.3h0.55M178.4 353.0h0.55M201.3 372.6h0.55M182.0 334.8h0.55M194.1 351.8h0.55M200.5 352.2h0.55M187.7 350.4h0.55M198.4 372.8h0.55M170.8 344.7h0.55M194.1 350.2h0.55M182.6 350.1h0.55M190.8 354.8h0.55M200.7 350.7h0.55M201.1 348.0h0.55M190.9 356.3h0.55M192.3 359.2h0.55M203.1 349.1h0.55M214.5 359.1h0.55M190.6 344.8h0.55M194.5 354.1h0.55M201.5 356.3h0.55M201.4 342.5h0.55M190.8 353.3h0.55M202.7 352.8h0.55M198.0 346.2h0.55M206.0 354.4h0.55M184.3 351.6h0.55M193.7 355.0h0.55M212.9 344.7h0.55M207.5 344.4h0.55M195.0 345.2h0.55M195.3 362.2h0.55M210.9 360.6h0.55M194.7 360.1h0.55M182.7 352.6h0.55M189.6 337.6h0.55M193.3 343.9h0.55M206.2 346.8h0.55M206.2 352.0h0.55M205.1 358.6h0.55M207.8 346.9h0.55M184.6 355.1h0.55M216.6 363.1h0.55M196.6 362.1h0.55M195.8 355.3h0.55M206.7 356.3h0.55M194.9 354.6h0.55M206.2 363.7h0.55M209.3 357.4h0.55M187.4 360.5h0.55M193.4 347.7h0.55M195.1 348.3h0.55M184.9 354.5h0.55M187.9 360.6h0.55M198.8 344.2h0.55M199.8 356.9h0.55M185.8 359.9h0.55M192.5 351.6h0.55" stroke="#777" stroke-width="0.55" fill="none"/>
<path d="M212.4 346.6h0.55M190.6 390.3h0.55M206.6 401.6h0.55M209.9 380.7h0.55M220.2 377.3h0.55M213.8 340.2h0.55M174.5 396.1h0.55M218.9 387.6h0.55M218.0 353.1h0.55M207.9 359.2h0.55M190.7 367.4h0.55M218.8 367.3h0.55M216.9 391.2h0.55M206.1 385.9h0.55M221.2 383.2h0.55M212.7 387.5h0.55M171.0 408.9h0.55M209.4 378.5h0.55M211.2 365.3h0.55M197.2 361.7h0.55M197.8 396.3h0.55M177.3 364.0h0.55M209.4 369.7h0.55M220.2 380.2h0.55M208.2 395.8h0.55M234.5 400.6h0.55M212.2 378.0h0.55M214.2 392.9h0.55M199.3 366.4h0.55M184.1 357.8h0.55M206.5 396.6h0.55M209.9 376.4h0.55M180.9 386.8h0.55M177.5 407.2h0.55M178.2 394.9h0.55M179.1 383.4h0.55M192.2 391.0h0.55M179.3 397.0h0.55M183.4 388.1h0.55M172.1 392.5h0.55M169.8 387.6h0.55M184.7 392.3h0.55M183.7 392.5h0.55M181.4 389.3h0.55M191.6 389.7h0.55M182.4 410.5h0.55M191.7 389.0h0.55M172.2 397.1h0.55M180.6 405.9h0.55M174.4 399.9h0.55M176.7 389.8h0.55M191.0 407.7h0.55M183.7 397.7h0.55M175.0 410.6h0.55M170.3 405.0h0.55M172.8 400.5h0.55M179.6 391.9h0.55M176.5 397.0h0.55M174.4 388.9h0.55M190.4 388.3h0.55M179.2 385.1h0.55M167.4 390.6h0.55M197.4 396.5h0.55" stroke="#aaa" stroke-width="0.55" fill="none"/>
<line x1="154.8" y1="413.3" x2="154.8" y2="414.8" stroke="#555" stroke-width="0.5"/>
<text x="155.3" y="418.4" text-anchor="middle" font-size="3.6" fill="#222" font-weight="normal" style="stroke:none">10</text>
<line x1="153.3" y1="413.3" x2="154.8" y2="413.3" stroke="#555" stroke-width="0.5"/>
<text x="151.4" y="414.1" text-anchor="middle" font-size="3.6" transform="rotate(-90 151.4 412.8)" fill="#222" font-weight="normal" style="stroke:none">10</text>
<line x1="176.6" y1="413.3" x2="176.6" y2="414.8" stroke="#555" stroke-width="0.5"/>
<text x="177.1" y="418.4" text-anchor="middle" font-size="3.6" fill="#222" font-weight="normal" style="stroke:none">10</text>
<line x1="153.3" y1="390.9" x2="154.8" y2="390.9" stroke="#555" stroke-width="0.5"/>
<text x="151.4" y="391.7" text-anchor="middle" font-size="3.6" transform="rotate(-90 151.4 390.4)" fill="#222" font-weight="normal" style="stroke:none">10</text>
<line x1="198.3" y1="413.3" x2="198.3" y2="414.8" stroke="#555" stroke-width="0.5"/>
<text x="198.8" y="418.4" text-anchor="middle" font-size="3.6" fill="#222" font-weight="normal" style="stroke:none">10</text>
<line x1="153.3" y1="368.5" x2="154.8" y2="368.5" stroke="#555" stroke-width="0.5"/>
<text x="151.4" y="369.2" text-anchor="middle" font-size="3.6" transform="rotate(-90 151.4 368.0)" fill="#222" font-weight="normal" style="stroke:none">10</text>
<line x1="220.1" y1="413.3" x2="220.1" y2="414.8" stroke="#555" stroke-width="0.5"/>
<text x="220.6" y="418.4" text-anchor="middle" font-size="3.6" fill="#222" font-weight="normal" style="stroke:none">10</text>
<line x1="153.3" y1="346.0" x2="154.8" y2="346.0" stroke="#555" stroke-width="0.5"/>
<text x="151.4" y="346.8" text-anchor="middle" font-size="3.6" transform="rotate(-90 151.4 345.5)" fill="#222" font-weight="normal" style="stroke:none">10</text>
<line x1="241.8" y1="413.3" x2="241.8" y2="414.8" stroke="#555" stroke-width="0.5"/>
<text x="242.3" y="418.4" text-anchor="middle" font-size="3.6" fill="#222" font-weight="normal" style="stroke:none">10</text>
<line x1="153.3" y1="323.6" x2="154.8" y2="323.6" stroke="#555" stroke-width="0.5"/>
<text x="151.4" y="324.4" text-anchor="middle" font-size="3.6" transform="rotate(-90 151.4 323.1)" fill="#222" font-weight="normal" style="stroke:none">10</text>
<text x="177.5" y="319.2" text-anchor="start" font-size="11">Day 10</text>
<text x="207.5" y="345.9" text-anchor="start" font-size="11">4.9%</text>
<text x="12.3" y="371.2" text-anchor="start" font-size="11">CD4<tspan dy="-4" font-size="6">+</tspan></text>
<text x="131.0" y="431.4" text-anchor="start" font-size="11">TNF-<tspan font-weight="normal" font-size="12">&#945;</tspan></text>
<line x1="36.1" y1="443.0" x2="36.1" y2="546.1" stroke="#000" stroke-width="2.2"/>
<line x1="35.0" y1="544.9" x2="256.5" y2="543.7" stroke="#000" stroke-width="2.5"/>
<text x="29.2" y="459.9" text-anchor="middle" font-size="11">6</text>
<text x="29.2" y="489.4" text-anchor="middle" font-size="11">4</text>
<text x="29.2" y="519.4" text-anchor="middle" font-size="11">2</text>
<text x="29.2" y="548.3" text-anchor="middle" font-size="11">0</text>
<text x="47.5" y="452.9" text-anchor="start" font-size="11">F.</text>
<text x="15.5" y="511.9" text-anchor="middle" font-size="11" transform="rotate(-90 15.5 508.0)">% CD4+&#160; cells</text>
<rect x="39.6" y="518.1" width="6.4" height="26.7" fill="#fff" stroke="#000" stroke-width="1.2"/>
<rect x="46.0" y="515.0" width="6.5" height="29.8" fill="#000"/>
<rect x="61.6" y="526.6" width="6.4" height="18.1" fill="#fff" stroke="#000" stroke-width="1.2"/>
<rect x="68.0" y="528.5" width="7.0" height="16.2" fill="#000"/>
<line x1="64.5" y1="525.0" x2="64.5" y2="526.0" stroke="#000" stroke-width="0.8"/>
<line x1="63.2" y1="525.0" x2="65.8" y2="525.0" stroke="#000" stroke-width="0.8"/>
<line x1="63.2" y1="526.0" x2="65.8" y2="526.0" stroke="#000" stroke-width="0.8"/>
<line x1="71.5" y1="527.5" x2="71.5" y2="528.5" stroke="#000" stroke-width="0.8"/>
<line x1="70.2" y1="527.5" x2="72.8" y2="527.5" stroke="#000" stroke-width="0.8"/>
<line x1="70.2" y1="528.5" x2="72.8" y2="528.5" stroke="#000" stroke-width="0.8"/>
<rect x="84.6" y="520.6" width="6.4" height="24.0" fill="#fff" stroke="#000" stroke-width="1.2"/>
<rect x="91.0" y="524.0" width="6.5" height="20.6" fill="#000"/>
<line x1="87.5" y1="519.2" x2="87.5" y2="520.0" stroke="#000" stroke-width="0.8"/>
<line x1="86.2" y1="519.2" x2="88.8" y2="519.2" stroke="#000" stroke-width="0.8"/>
<line x1="86.2" y1="520.0" x2="88.8" y2="520.0" stroke="#000" stroke-width="0.8"/>
<line x1="94.2" y1="522.5" x2="94.2" y2="524.0" stroke="#000" stroke-width="0.8"/>
<line x1="93.0" y1="522.5" x2="95.5" y2="522.5" stroke="#000" stroke-width="0.8"/>
<line x1="93.0" y1="524.0" x2="95.5" y2="524.0" stroke="#000" stroke-width="0.8"/>
<rect x="106.1" y="534.6" width="6.4" height="9.9" fill="#fff" stroke="#000" stroke-width="1.2"/>
<rect x="112.5" y="526.0" width="6.5" height="18.5" fill="#000"/>
<line x1="115.8" y1="524.5" x2="115.8" y2="526.0" stroke="#000" stroke-width="0.8"/>
<line x1="114.5" y1="524.5" x2="117.0" y2="524.5" stroke="#000" stroke-width="0.8"/>
<line x1="114.5" y1="526.0" x2="117.0" y2="526.0" stroke="#000" stroke-width="0.8"/>
<rect x="127.6" y="488.6" width="6.4" height="55.8" fill="#fff" stroke="#000" stroke-width="1.2"/>
<rect x="134.0" y="461.0" width="8.0" height="83.4" fill="#000"/>
<line x1="130.5" y1="487.2" x2="130.5" y2="488.0" stroke="#000" stroke-width="0.8"/>
<line x1="129.2" y1="487.2" x2="131.8" y2="487.2" stroke="#000" stroke-width="0.8"/>
<line x1="129.2" y1="488.0" x2="131.8" y2="488.0" stroke="#000" stroke-width="0.8"/>
<line x1="138.0" y1="458.0" x2="138.0" y2="461.0" stroke="#000" stroke-width="0.8"/>
<line x1="136.7" y1="458.0" x2="139.3" y2="458.0" stroke="#000" stroke-width="0.8"/>
<line x1="136.7" y1="461.0" x2="139.3" y2="461.0" stroke="#000" stroke-width="0.8"/>
<rect x="150.6" y="508.1" width="6.9" height="36.1" fill="#fff" stroke="#000" stroke-width="1.2"/>
<rect x="157.5" y="511.0" width="6.5" height="33.2" fill="#000"/>
<line x1="160.8" y1="510.0" x2="160.8" y2="511.0" stroke="#000" stroke-width="0.8"/>
<line x1="159.4" y1="510.0" x2="162.1" y2="510.0" stroke="#000" stroke-width="0.8"/>
<line x1="159.4" y1="511.0" x2="162.1" y2="511.0" stroke="#000" stroke-width="0.8"/>
<rect x="173.1" y="542.6" width="5.9" height="1.5" fill="#fff" stroke="#000" stroke-width="1.2"/>
<rect x="179.0" y="542.0" width="6.5" height="2.1" fill="#000"/>
<line x1="175.8" y1="541.2" x2="175.8" y2="542.0" stroke="#000" stroke-width="0.8"/>
<line x1="174.4" y1="541.2" x2="177.1" y2="541.2" stroke="#000" stroke-width="0.8"/>
<line x1="174.4" y1="542.0" x2="177.1" y2="542.0" stroke="#000" stroke-width="0.8"/>
<line x1="182.2" y1="541.2" x2="182.2" y2="542.0" stroke="#000" stroke-width="0.8"/>
<line x1="180.9" y1="541.2" x2="183.6" y2="541.2" stroke="#000" stroke-width="0.8"/>
<line x1="180.9" y1="542.0" x2="183.6" y2="542.0" stroke="#000" stroke-width="0.8"/>
<rect x="194.6" y="526.1" width="6.4" height="17.9" fill="#fff" stroke="#000" stroke-width="1.2"/>
<rect x="201.0" y="528.0" width="6.5" height="16.0" fill="#000"/>
<line x1="204.2" y1="527.2" x2="204.2" y2="528.0" stroke="#000" stroke-width="0.8"/>
<line x1="202.9" y1="527.2" x2="205.6" y2="527.2" stroke="#000" stroke-width="0.8"/>
<line x1="202.9" y1="528.0" x2="205.6" y2="528.0" stroke="#000" stroke-width="0.8"/>
<rect x="216.6" y="536.6" width="6.4" height="7.3" fill="#fff" stroke="#000" stroke-width="1.2"/>
<rect x="223.0" y="532.5" width="7.0" height="11.4" fill="#000"/>
<line x1="219.5" y1="535.2" x2="219.5" y2="536.0" stroke="#000" stroke-width="0.8"/>
<line x1="218.2" y1="535.2" x2="220.8" y2="535.2" stroke="#000" stroke-width="0.8"/>
<line x1="218.2" y1="536.0" x2="220.8" y2="536.0" stroke="#000" stroke-width="0.8"/>
<line x1="226.5" y1="531.5" x2="226.5" y2="532.5" stroke="#000" stroke-width="0.8"/>
<line x1="225.2" y1="531.5" x2="227.8" y2="531.5" stroke="#000" stroke-width="0.8"/>
<line x1="225.2" y1="532.5" x2="227.8" y2="532.5" stroke="#000" stroke-width="0.8"/>
<rect x="238.6" y="509.6" width="6.4" height="34.2" fill="#fff" stroke="#000" stroke-width="1.2"/>
<rect x="245.0" y="510.5" width="7.0" height="33.3" fill="#000"/>
<line x1="241.5" y1="508.2" x2="241.5" y2="509.0" stroke="#000" stroke-width="0.8"/>
<line x1="240.2" y1="508.2" x2="242.8" y2="508.2" stroke="#000" stroke-width="0.8"/>
<line x1="240.2" y1="509.0" x2="242.8" y2="509.0" stroke="#000" stroke-width="0.8"/>
<text x="45.0" y="562.0" text-anchor="middle" font-size="11">2</text>
<text x="67.0" y="561.9" text-anchor="middle" font-size="11">4</text>
<text x="89.0" y="561.7" text-anchor="middle" font-size="11">6</text>
<text x="114.0" y="561.5" text-anchor="middle" font-size="11">7</text>
<text x="129.5" y="561.4" text-anchor="middle" font-size="11">8.1</text>
<text x="157.0" y="561.1" text-anchor="middle" font-size="11">8.3</text>
<text x="180.0" y="561.0" text-anchor="middle" font-size="11">9</text>
<text x="200.5" y="560.8" text-anchor="middle" font-size="11">10b</text>
<text x="224.0" y="560.6" text-anchor="middle" font-size="11">13</text>
<text x="247.0" y="560.4" text-anchor="middle" font-size="11">14</text>
<text x="122.5" y="574.4" text-anchor="start" font-size="11">/2</text>
<rect x="178.6" y="459.6" width="9" height="8.4" fill="#fff" stroke="#000" stroke-width="1.2"/>
<text x="195.0" y="467.4" text-anchor="start" font-size="11">PBS</text>
<rect x="178" y="473" width="10" height="9" fill="#000"/>
<text x="195.0" y="481.4" text-anchor="start" font-size="11">LTK63</text>
<text x="127.5" y="468.2" text-anchor="middle" font-size="9">**</text>
<text x="224.0" y="577.5" text-anchor="start" font-size="11">V<tspan font-weight="normal">&#946;</tspan> TCR Expression</text>
<line x1="298.1" y1="442.0" x2="298.1" y2="544.8" stroke="#000" stroke-width="2.2"/>
<line x1="297.0" y1="543.6" x2="514.2" y2="543.0" stroke="#000" stroke-width="2.6"/>
<text x="291.0" y="447.4" text-anchor="middle" font-size="11">3</text>
<text x="291.0" y="480.9" text-anchor="middle" font-size="11">2</text>
<text x="291.0" y="514.9" text-anchor="middle" font-size="11">1</text>
<text x="291.0" y="548.9" text-anchor="middle" font-size="11">0</text>
<text x="309.5" y="451.9" text-anchor="start" font-size="11">G.</text>
<text x="281.0" y="507.9" text-anchor="middle" font-size="11" transform="rotate(-90 281.0 504.0)">% CD8+ cells</text>
<rect x="301.6" y="518.6" width="6.4" height="25.0" fill="#fff" stroke="#000" stroke-width="1.2"/>
<rect x="308.0" y="463.0" width="7.0" height="80.6" fill="#000"/>
<line x1="311.5" y1="456.0" x2="311.5" y2="463.0" stroke="#000" stroke-width="0.8"/>
<line x1="310.2" y1="456.0" x2="312.8" y2="456.0" stroke="#000" stroke-width="0.8"/>
<line x1="310.2" y1="463.0" x2="312.8" y2="463.0" stroke="#000" stroke-width="0.8"/>
<rect x="323.6" y="525.6" width="6.4" height="17.9" fill="#fff" stroke="#000" stroke-width="1.2"/>
<rect x="330.0" y="529.0" width="6.0" height="14.5" fill="#000"/>
<line x1="326.5" y1="524.2" x2="326.5" y2="525.0" stroke="#000" stroke-width="0.8"/>
<line x1="325.2" y1="524.2" x2="327.8" y2="524.2" stroke="#000" stroke-width="0.8"/>
<line x1="325.2" y1="525.0" x2="327.8" y2="525.0" stroke="#000" stroke-width="0.8"/>
<line x1="333.0" y1="528.2" x2="333.0" y2="529.0" stroke="#000" stroke-width="0.8"/>
<line x1="331.7" y1="528.2" x2="334.3" y2="528.2" stroke="#000" stroke-width="0.8"/>
<line x1="331.7" y1="529.0" x2="334.3" y2="529.0" stroke="#000" stroke-width="0.8"/>
<rect x="345.1" y="519.1" width="5.9" height="24.3" fill="#fff" stroke="#000" stroke-width="1.2"/>
<rect x="351.0" y="521.0" width="7.0" height="22.4" fill="#000"/>
<line x1="347.8" y1="517.7" x2="347.8" y2="518.5" stroke="#000" stroke-width="0.8"/>
<line x1="346.4" y1="517.7" x2="349.1" y2="517.7" stroke="#000" stroke-width="0.8"/>
<line x1="346.4" y1="518.5" x2="349.1" y2="518.5" stroke="#000" stroke-width="0.8"/>
<line x1="354.5" y1="519.5" x2="354.5" y2="521.0" stroke="#000" stroke-width="0.8"/>
<line x1="353.2" y1="519.5" x2="355.8" y2="519.5" stroke="#000" stroke-width="0.8"/>
<line x1="353.2" y1="521.0" x2="355.8" y2="521.0" stroke="#000" stroke-width="0.8"/>
<rect x="366.6" y="523.1" width="6.4" height="20.3" fill="#fff" stroke="#000" stroke-width="1.2"/>
<rect x="373.0" y="510.5" width="7.0" height="32.9" fill="#000"/>
<line x1="369.5" y1="520.5" x2="369.5" y2="522.5" stroke="#000" stroke-width="0.8"/>
<line x1="368.2" y1="520.5" x2="370.8" y2="520.5" stroke="#000" stroke-width="0.8"/>
<line x1="368.2" y1="522.5" x2="370.8" y2="522.5" stroke="#000" stroke-width="0.8"/>
<line x1="376.5" y1="509.0" x2="376.5" y2="510.5" stroke="#000" stroke-width="0.8"/>
<line x1="375.2" y1="509.0" x2="377.8" y2="509.0" stroke="#000" stroke-width="0.8"/>
<line x1="375.2" y1="510.5" x2="377.8" y2="510.5" stroke="#000" stroke-width="0.8"/>
<rect x="388.6" y="466.1" width="6.4" height="77.2" fill="#fff" stroke="#000" stroke-width="1.2"/>
<rect x="395.0" y="478.0" width="6.0" height="65.3" fill="#000"/>
<line x1="398.0" y1="472.0" x2="398.0" y2="478.0" stroke="#000" stroke-width="0.8"/>
<line x1="396.7" y1="472.0" x2="399.3" y2="472.0" stroke="#000" stroke-width="0.8"/>
<line x1="396.7" y1="478.0" x2="399.3" y2="478.0" stroke="#000" stroke-width="0.8"/>
<rect x="410.6" y="502.6" width="6.4" height="40.7" fill="#fff" stroke="#000" stroke-width="1.2"/>
<rect x="417.0" y="506.0" width="6.0" height="37.3" fill="#000"/>
<line x1="413.5" y1="500.0" x2="413.5" y2="502.0" stroke="#000" stroke-width="0.8"/>
<line x1="412.2" y1="500.0" x2="414.8" y2="500.0" stroke="#000" stroke-width="0.8"/>
<line x1="412.2" y1="502.0" x2="414.8" y2="502.0" stroke="#000" stroke-width="0.8"/>
<line x1="420.0" y1="503.5" x2="420.0" y2="506.0" stroke="#000" stroke-width="0.8"/>
<line x1="418.7" y1="503.5" x2="421.3" y2="503.5" stroke="#000" stroke-width="0.8"/>
<line x1="418.7" y1="506.0" x2="421.3" y2="506.0" stroke="#000" stroke-width="0.8"/>
<rect x="431.6" y="533.6" width="6.4" height="9.6" fill="#fff" stroke="#000" stroke-width="1.2"/>
<rect x="438.0" y="533.0" width="6.5" height="10.2" fill="#000"/>
<line x1="434.5" y1="532.2" x2="434.5" y2="533.0" stroke="#000" stroke-width="0.8"/>
<line x1="433.2" y1="532.2" x2="435.8" y2="532.2" stroke="#000" stroke-width="0.8"/>
<line x1="433.2" y1="533.0" x2="435.8" y2="533.0" stroke="#000" stroke-width="0.8"/>
<line x1="441.2" y1="532.0" x2="441.2" y2="533.0" stroke="#000" stroke-width="0.8"/>
<line x1="439.9" y1="532.0" x2="442.6" y2="532.0" stroke="#000" stroke-width="0.8"/>
<line x1="439.9" y1="533.0" x2="442.6" y2="533.0" stroke="#000" stroke-width="0.8"/>
<rect x="453.6" y="524.1" width="5.9" height="19.0" fill="#fff" stroke="#000" stroke-width="1.2"/>
<rect x="459.5" y="525.5" width="6.5" height="17.6" fill="#000"/>
<line x1="456.2" y1="522.5" x2="456.2" y2="523.5" stroke="#000" stroke-width="0.8"/>
<line x1="454.9" y1="522.5" x2="457.6" y2="522.5" stroke="#000" stroke-width="0.8"/>
<line x1="454.9" y1="523.5" x2="457.6" y2="523.5" stroke="#000" stroke-width="0.8"/>
<line x1="462.8" y1="524.7" x2="462.8" y2="525.5" stroke="#000" stroke-width="0.8"/>
<line x1="461.4" y1="524.7" x2="464.1" y2="524.7" stroke="#000" stroke-width="0.8"/>
<line x1="461.4" y1="525.5" x2="464.1" y2="525.5" stroke="#000" stroke-width="0.8"/>
<rect x="475.6" y="530.6" width="6.4" height="12.5" fill="#fff" stroke="#000" stroke-width="1.2"/>
<rect x="482.0" y="524.0" width="6.0" height="19.1" fill="#000"/>
<line x1="485.0" y1="522.0" x2="485.0" y2="524.0" stroke="#000" stroke-width="0.8"/>
<line x1="483.7" y1="522.0" x2="486.3" y2="522.0" stroke="#000" stroke-width="0.8"/>
<line x1="483.7" y1="524.0" x2="486.3" y2="524.0" stroke="#000" stroke-width="0.8"/>
<rect x="496.6" y="529.6" width="6.4" height="13.4" fill="#fff" stroke="#000" stroke-width="1.2"/>
<rect x="503.0" y="529.0" width="6.5" height="14.0" fill="#000"/>
<line x1="499.5" y1="528.2" x2="499.5" y2="529.0" stroke="#000" stroke-width="0.8"/>
<line x1="498.2" y1="528.2" x2="500.8" y2="528.2" stroke="#000" stroke-width="0.8"/>
<line x1="498.2" y1="529.0" x2="500.8" y2="529.0" stroke="#000" stroke-width="0.8"/>
<line x1="506.2" y1="527.0" x2="506.2" y2="529.0" stroke="#000" stroke-width="0.8"/>
<line x1="504.9" y1="527.0" x2="507.6" y2="527.0" stroke="#000" stroke-width="0.8"/>
<line x1="504.9" y1="529.0" x2="507.6" y2="529.0" stroke="#000" stroke-width="0.8"/>
<text x="309.0" y="561.3" text-anchor="middle" font-size="11">2</text>
<text x="330.0" y="561.3" text-anchor="middle" font-size="11">4</text>
<text x="352.0" y="561.3" text-anchor="middle" font-size="11">6</text>
<text x="374.0" y="561.3" text-anchor="middle" font-size="11">7</text>
<text x="390.0" y="561.3" text-anchor="middle" font-size="11">8.1</text>
<text x="418.0" y="561.3" text-anchor="middle" font-size="11">8.3</text>
<text x="440.5" y="561.3" text-anchor="middle" font-size="11">9</text>
<text x="461.0" y="561.3" text-anchor="middle" font-size="11">10b</text>
<text x="484.0" y="561.3" text-anchor="middle" font-size="11">13</text>
<text x="507.0" y="561.3" text-anchor="middle" font-size="11">14</text>
<text x="382.5" y="574.4" text-anchor="start" font-size="11">/2</text>
<rect x="431.4" y="458.4" width="8.7" height="8" fill="#fff" stroke="#000" stroke-width="1.3"/>
<text x="448.0" y="466.5" text-anchor="start" font-size="11">PBS</text>
<rect x="430.8" y="472" width="9.9" height="8.6" fill="#000"/>
<text x="448.0" y="480.9" text-anchor="start" font-size="11">LTK63</text>
<text x="304.3" y="468.2" text-anchor="middle" font-size="9">**</text>
</svg>
</body></html>
